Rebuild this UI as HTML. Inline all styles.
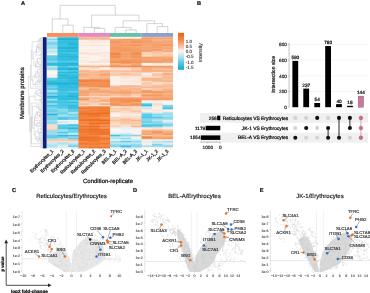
<!DOCTYPE html>
<html><head><meta charset="utf-8"><style>
html,body{margin:0;padding:0;background:#fff;}
body{width:370px;height:293px;overflow:hidden;}
svg{display:block;font-family:"Liberation Sans", sans-serif;filter:blur(0.35px);text-rendering:geometricPrecision;}
</style></head><body>
<svg width="370" height="293" viewBox="0 0 370 293">
<rect width="370" height="293" fill="#fff"/>
<g>
<rect x="47.00" y="37.20" width="11.00" height="2.00" fill="#caeaf2"/>
<rect x="57.50" y="37.20" width="11.00" height="2.00" fill="#2bbbde"/>
<rect x="68.00" y="37.20" width="11.00" height="2.00" fill="#2abade"/>
<rect x="78.50" y="37.20" width="11.00" height="2.00" fill="#f7b78e"/>
<rect x="89.00" y="37.20" width="11.00" height="2.00" fill="#f7b285"/>
<rect x="99.50" y="37.20" width="11.00" height="2.00" fill="#f7b388"/>
<rect x="110.00" y="37.20" width="11.00" height="2.00" fill="#fbf6f4"/>
<rect x="120.50" y="37.20" width="11.00" height="2.00" fill="#faf6f4"/>
<rect x="131.00" y="37.20" width="11.00" height="2.00" fill="#f1f3f4"/>
<rect x="141.50" y="37.20" width="11.00" height="2.00" fill="#f49c65"/>
<rect x="152.00" y="37.20" width="11.00" height="2.00" fill="#f59e68"/>
<rect x="162.50" y="37.20" width="10.50" height="2.00" fill="#f59e68"/>
<rect x="47.00" y="38.70" width="11.00" height="2.00" fill="#78d4eb"/>
<rect x="57.50" y="38.70" width="11.00" height="2.00" fill="#1eb2d8"/>
<rect x="68.00" y="38.70" width="11.00" height="2.00" fill="#1fb3d9"/>
<rect x="78.50" y="38.70" width="11.00" height="2.00" fill="#f9c5a4"/>
<rect x="89.00" y="38.70" width="11.00" height="2.00" fill="#f9cbad"/>
<rect x="99.50" y="38.70" width="11.00" height="2.00" fill="#f8c19e"/>
<rect x="110.00" y="38.70" width="11.00" height="2.00" fill="#f6a775"/>
<rect x="120.50" y="38.70" width="11.00" height="2.00" fill="#f49960"/>
<rect x="131.00" y="38.70" width="11.00" height="2.00" fill="#f59f6a"/>
<rect x="141.50" y="38.70" width="11.00" height="2.00" fill="#f5a470"/>
<rect x="152.00" y="38.70" width="11.00" height="2.00" fill="#f7b084"/>
<rect x="162.50" y="38.70" width="10.50" height="2.00" fill="#f7b285"/>
<rect x="47.00" y="40.21" width="11.00" height="2.00" fill="#bbe6f1"/>
<rect x="57.50" y="40.21" width="11.00" height="2.00" fill="#32bee0"/>
<rect x="68.00" y="40.21" width="11.00" height="2.00" fill="#2fbcdf"/>
<rect x="78.50" y="40.21" width="11.00" height="2.00" fill="#fbf3ef"/>
<rect x="89.00" y="40.21" width="11.00" height="2.00" fill="#fbe9dd"/>
<rect x="99.50" y="40.21" width="11.00" height="2.00" fill="#fbefe9"/>
<rect x="110.00" y="40.21" width="11.00" height="2.00" fill="#f4975d"/>
<rect x="120.50" y="40.21" width="11.00" height="2.00" fill="#f5a26e"/>
<rect x="131.00" y="40.21" width="11.00" height="2.00" fill="#f49961"/>
<rect x="141.50" y="40.21" width="11.00" height="2.00" fill="#f49a61"/>
<rect x="152.00" y="40.21" width="11.00" height="2.00" fill="#f6af81"/>
<rect x="162.50" y="40.21" width="10.50" height="2.00" fill="#f5a370"/>
<rect x="47.00" y="41.71" width="11.00" height="2.00" fill="#7dd6ec"/>
<rect x="57.50" y="41.71" width="11.00" height="2.00" fill="#34bee0"/>
<rect x="68.00" y="41.71" width="11.00" height="2.00" fill="#2ebcdf"/>
<rect x="78.50" y="41.71" width="11.00" height="2.00" fill="#fbe8dc"/>
<rect x="89.00" y="41.71" width="11.00" height="2.00" fill="#fbe9dd"/>
<rect x="99.50" y="41.71" width="11.00" height="2.00" fill="#fbebe2"/>
<rect x="110.00" y="41.71" width="11.00" height="2.00" fill="#f4975e"/>
<rect x="120.50" y="41.71" width="11.00" height="2.00" fill="#f5a06a"/>
<rect x="131.00" y="41.71" width="11.00" height="2.00" fill="#f49459"/>
<rect x="141.50" y="41.71" width="11.00" height="2.00" fill="#f5a370"/>
<rect x="152.00" y="41.71" width="11.00" height="2.00" fill="#f5a26e"/>
<rect x="162.50" y="41.71" width="10.50" height="2.00" fill="#f6a776"/>
<rect x="47.00" y="43.21" width="11.00" height="2.00" fill="#6fd2ea"/>
<rect x="57.50" y="43.21" width="11.00" height="2.00" fill="#32bddf"/>
<rect x="68.00" y="43.21" width="11.00" height="2.00" fill="#1cb0d7"/>
<rect x="78.50" y="43.21" width="11.00" height="2.00" fill="#fbf3ef"/>
<rect x="89.00" y="43.21" width="11.00" height="2.00" fill="#fbf1eb"/>
<rect x="99.50" y="43.21" width="11.00" height="2.00" fill="#fbf3ef"/>
<rect x="110.00" y="43.21" width="11.00" height="2.00" fill="#f49c64"/>
<rect x="120.50" y="43.21" width="11.00" height="2.00" fill="#f5a26e"/>
<rect x="131.00" y="43.21" width="11.00" height="2.00" fill="#f5a471"/>
<rect x="141.50" y="43.21" width="11.00" height="2.00" fill="#f5a06b"/>
<rect x="152.00" y="43.21" width="11.00" height="2.00" fill="#f59f6a"/>
<rect x="162.50" y="43.21" width="10.50" height="2.00" fill="#f5a572"/>
<rect x="47.00" y="44.71" width="11.00" height="2.00" fill="#a0dff0"/>
<rect x="57.50" y="44.71" width="11.00" height="2.00" fill="#42c4e4"/>
<rect x="68.00" y="44.71" width="11.00" height="2.00" fill="#39c0e1"/>
<rect x="78.50" y="44.71" width="11.00" height="2.00" fill="#fbe8dd"/>
<rect x="89.00" y="44.71" width="11.00" height="2.00" fill="#fbe2d1"/>
<rect x="99.50" y="44.71" width="11.00" height="2.00" fill="#fbe9dd"/>
<rect x="110.00" y="44.71" width="11.00" height="2.00" fill="#f5a16d"/>
<rect x="120.50" y="44.71" width="11.00" height="2.00" fill="#f49961"/>
<rect x="131.00" y="44.71" width="11.00" height="2.00" fill="#f39054"/>
<rect x="141.50" y="44.71" width="11.00" height="2.00" fill="#f6a877"/>
<rect x="152.00" y="44.71" width="11.00" height="2.00" fill="#f59e68"/>
<rect x="162.50" y="44.71" width="10.50" height="2.00" fill="#f4975e"/>
<rect x="47.00" y="46.22" width="11.00" height="2.00" fill="#92dcee"/>
<rect x="57.50" y="46.22" width="11.00" height="2.00" fill="#27b9dd"/>
<rect x="68.00" y="46.22" width="11.00" height="2.00" fill="#22b6db"/>
<rect x="78.50" y="46.22" width="11.00" height="2.00" fill="#fbf3ef"/>
<rect x="89.00" y="46.22" width="11.00" height="2.00" fill="#fbf1eb"/>
<rect x="99.50" y="46.22" width="11.00" height="2.00" fill="#fbf3ef"/>
<rect x="110.00" y="46.22" width="11.00" height="2.00" fill="#f49a62"/>
<rect x="120.50" y="46.22" width="11.00" height="2.00" fill="#f5a06b"/>
<rect x="131.00" y="46.22" width="11.00" height="2.00" fill="#f5a573"/>
<rect x="141.50" y="46.22" width="11.00" height="2.00" fill="#f5a26f"/>
<rect x="152.00" y="46.22" width="11.00" height="2.00" fill="#f59f6a"/>
<rect x="162.50" y="46.22" width="10.50" height="2.00" fill="#f6ab7b"/>
<rect x="47.00" y="47.72" width="11.00" height="2.00" fill="#a0dff0"/>
<rect x="57.50" y="47.72" width="11.00" height="2.00" fill="#22b6db"/>
<rect x="68.00" y="47.72" width="11.00" height="2.00" fill="#21b5da"/>
<rect x="78.50" y="47.72" width="11.00" height="2.00" fill="#fbf3ef"/>
<rect x="89.00" y="47.72" width="11.00" height="2.00" fill="#fbf3ef"/>
<rect x="99.50" y="47.72" width="11.00" height="2.00" fill="#fbf3ef"/>
<rect x="110.00" y="47.72" width="11.00" height="2.00" fill="#f49a62"/>
<rect x="120.50" y="47.72" width="11.00" height="2.00" fill="#f49c64"/>
<rect x="131.00" y="47.72" width="11.00" height="2.00" fill="#f59f69"/>
<rect x="141.50" y="47.72" width="11.00" height="2.00" fill="#f6a876"/>
<rect x="152.00" y="47.72" width="11.00" height="2.00" fill="#f6a876"/>
<rect x="162.50" y="47.72" width="10.50" height="2.00" fill="#f5a573"/>
<rect x="47.00" y="49.22" width="11.00" height="2.00" fill="#d0ebf2"/>
<rect x="57.50" y="49.22" width="11.00" height="2.00" fill="#34bee0"/>
<rect x="68.00" y="49.22" width="11.00" height="2.00" fill="#2ebcdf"/>
<rect x="78.50" y="49.22" width="11.00" height="2.00" fill="#fbece3"/>
<rect x="89.00" y="49.22" width="11.00" height="2.00" fill="#fbeadf"/>
<rect x="99.50" y="49.22" width="11.00" height="2.00" fill="#fbf2ee"/>
<rect x="110.00" y="49.22" width="11.00" height="2.00" fill="#f49860"/>
<rect x="120.50" y="49.22" width="11.00" height="2.00" fill="#f49357"/>
<rect x="131.00" y="49.22" width="11.00" height="2.00" fill="#f49a62"/>
<rect x="141.50" y="49.22" width="11.00" height="2.00" fill="#f59e68"/>
<rect x="152.00" y="49.22" width="11.00" height="2.00" fill="#f4955b"/>
<rect x="162.50" y="49.22" width="10.50" height="2.00" fill="#f7b286"/>
<rect x="47.00" y="50.72" width="11.00" height="2.00" fill="#b2e4f1"/>
<rect x="57.50" y="50.72" width="11.00" height="2.00" fill="#27b9dd"/>
<rect x="68.00" y="50.72" width="11.00" height="2.00" fill="#26b9dc"/>
<rect x="78.50" y="50.72" width="11.00" height="2.00" fill="#fbf3ef"/>
<rect x="89.00" y="50.72" width="11.00" height="2.00" fill="#fbf3ef"/>
<rect x="99.50" y="50.72" width="11.00" height="2.00" fill="#fbefe8"/>
<rect x="110.00" y="50.72" width="11.00" height="2.00" fill="#f5a26e"/>
<rect x="120.50" y="50.72" width="11.00" height="2.00" fill="#f59f6a"/>
<rect x="131.00" y="50.72" width="11.00" height="2.00" fill="#f5a06b"/>
<rect x="141.50" y="50.72" width="11.00" height="2.00" fill="#f6a775"/>
<rect x="152.00" y="50.72" width="11.00" height="2.00" fill="#f8be98"/>
<rect x="162.50" y="50.72" width="10.50" height="2.00" fill="#f6aa79"/>
<rect x="47.00" y="52.23" width="11.00" height="2.00" fill="#cfebf2"/>
<rect x="57.50" y="52.23" width="11.00" height="2.00" fill="#3bc1e2"/>
<rect x="68.00" y="52.23" width="11.00" height="2.00" fill="#44c5e4"/>
<rect x="78.50" y="52.23" width="11.00" height="2.00" fill="#fbdcc8"/>
<rect x="89.00" y="52.23" width="11.00" height="2.00" fill="#fbe6d9"/>
<rect x="99.50" y="52.23" width="11.00" height="2.00" fill="#fbe2d2"/>
<rect x="110.00" y="52.23" width="11.00" height="2.00" fill="#f38a4a"/>
<rect x="120.50" y="52.23" width="11.00" height="2.00" fill="#f5a06b"/>
<rect x="131.00" y="52.23" width="11.00" height="2.00" fill="#f38a4a"/>
<rect x="141.50" y="52.23" width="11.00" height="2.00" fill="#fad4bb"/>
<rect x="152.00" y="52.23" width="11.00" height="2.00" fill="#f8c09c"/>
<rect x="162.50" y="52.23" width="10.50" height="2.00" fill="#fad4bc"/>
<rect x="47.00" y="53.73" width="11.00" height="2.00" fill="#f4f4f4"/>
<rect x="57.50" y="53.73" width="11.00" height="2.00" fill="#31bddf"/>
<rect x="68.00" y="53.73" width="11.00" height="2.00" fill="#34bee0"/>
<rect x="78.50" y="53.73" width="11.00" height="2.00" fill="#fbece3"/>
<rect x="89.00" y="53.73" width="11.00" height="2.00" fill="#fbe2d2"/>
<rect x="99.50" y="53.73" width="11.00" height="2.00" fill="#fbefe8"/>
<rect x="110.00" y="53.73" width="11.00" height="2.00" fill="#f28644"/>
<rect x="120.50" y="53.73" width="11.00" height="2.00" fill="#f59d66"/>
<rect x="131.00" y="53.73" width="11.00" height="2.00" fill="#f39054"/>
<rect x="141.50" y="53.73" width="11.00" height="2.00" fill="#fad2b8"/>
<rect x="152.00" y="53.73" width="11.00" height="2.00" fill="#faceb2"/>
<rect x="162.50" y="53.73" width="10.50" height="2.00" fill="#f9c9aa"/>
<rect x="47.00" y="55.23" width="11.00" height="2.00" fill="#63cee9"/>
<rect x="57.50" y="55.23" width="11.00" height="2.00" fill="#24b8dc"/>
<rect x="68.00" y="55.23" width="11.00" height="2.00" fill="#24b8dc"/>
<rect x="78.50" y="55.23" width="11.00" height="2.00" fill="#fbf3ef"/>
<rect x="89.00" y="55.23" width="11.00" height="2.00" fill="#fbf3ef"/>
<rect x="99.50" y="55.23" width="11.00" height="2.00" fill="#fbe7db"/>
<rect x="110.00" y="55.23" width="11.00" height="2.00" fill="#f38d4e"/>
<rect x="120.50" y="55.23" width="11.00" height="2.00" fill="#f49b64"/>
<rect x="131.00" y="55.23" width="11.00" height="2.00" fill="#f4955b"/>
<rect x="141.50" y="55.23" width="11.00" height="2.00" fill="#fbd9c3"/>
<rect x="152.00" y="55.23" width="11.00" height="2.00" fill="#f9c8a8"/>
<rect x="162.50" y="55.23" width="10.50" height="2.00" fill="#f8c09c"/>
<rect x="47.00" y="56.74" width="11.00" height="2.00" fill="#59cce8"/>
<rect x="57.50" y="56.74" width="11.00" height="2.00" fill="#30bddf"/>
<rect x="68.00" y="56.74" width="11.00" height="2.00" fill="#24b8dc"/>
<rect x="78.50" y="56.74" width="11.00" height="2.00" fill="#fbe8dc"/>
<rect x="89.00" y="56.74" width="11.00" height="2.00" fill="#fbf3ef"/>
<rect x="99.50" y="56.74" width="11.00" height="2.00" fill="#fbf3ee"/>
<rect x="110.00" y="56.74" width="11.00" height="2.00" fill="#f4945a"/>
<rect x="120.50" y="56.74" width="11.00" height="2.00" fill="#f5a370"/>
<rect x="131.00" y="56.74" width="11.00" height="2.00" fill="#f4965d"/>
<rect x="141.50" y="56.74" width="11.00" height="2.00" fill="#f59e68"/>
<rect x="152.00" y="56.74" width="11.00" height="2.00" fill="#f59f69"/>
<rect x="162.50" y="56.74" width="10.50" height="2.00" fill="#f6a877"/>
<rect x="47.00" y="58.24" width="11.00" height="2.00" fill="#50c9e6"/>
<rect x="57.50" y="58.24" width="11.00" height="2.00" fill="#29badd"/>
<rect x="68.00" y="58.24" width="11.00" height="2.00" fill="#29badd"/>
<rect x="78.50" y="58.24" width="11.00" height="2.00" fill="#fbf3ef"/>
<rect x="89.00" y="58.24" width="11.00" height="2.00" fill="#fbf2ed"/>
<rect x="99.50" y="58.24" width="11.00" height="2.00" fill="#fbebe2"/>
<rect x="110.00" y="58.24" width="11.00" height="2.00" fill="#f49a63"/>
<rect x="120.50" y="58.24" width="11.00" height="2.00" fill="#f5a06b"/>
<rect x="131.00" y="58.24" width="11.00" height="2.00" fill="#f59c65"/>
<rect x="141.50" y="58.24" width="11.00" height="2.00" fill="#f5a16d"/>
<rect x="152.00" y="58.24" width="11.00" height="2.00" fill="#f5a673"/>
<rect x="162.50" y="58.24" width="10.50" height="2.00" fill="#f59e68"/>
<rect x="47.00" y="59.74" width="11.00" height="2.00" fill="#65cfe9"/>
<rect x="57.50" y="59.74" width="11.00" height="2.00" fill="#3ec2e2"/>
<rect x="68.00" y="59.74" width="11.00" height="2.00" fill="#3fc3e3"/>
<rect x="78.50" y="59.74" width="11.00" height="2.00" fill="#fbe9dd"/>
<rect x="89.00" y="59.74" width="11.00" height="2.00" fill="#fbf3ef"/>
<rect x="99.50" y="59.74" width="11.00" height="2.00" fill="#fbe4d5"/>
<rect x="110.00" y="59.74" width="11.00" height="2.00" fill="#f59f69"/>
<rect x="120.50" y="59.74" width="11.00" height="2.00" fill="#f4985e"/>
<rect x="131.00" y="59.74" width="11.00" height="2.00" fill="#f49960"/>
<rect x="141.50" y="59.74" width="11.00" height="2.00" fill="#f5a26d"/>
<rect x="152.00" y="59.74" width="11.00" height="2.00" fill="#f5a572"/>
<rect x="162.50" y="59.74" width="10.50" height="2.00" fill="#f5a06b"/>
<rect x="47.00" y="61.24" width="11.00" height="2.00" fill="#83d7ec"/>
<rect x="57.50" y="61.24" width="11.00" height="2.00" fill="#49c7e5"/>
<rect x="68.00" y="61.24" width="11.00" height="2.00" fill="#50c9e6"/>
<rect x="78.50" y="61.24" width="11.00" height="2.00" fill="#fbe8dd"/>
<rect x="89.00" y="61.24" width="11.00" height="2.00" fill="#fbd8c1"/>
<rect x="99.50" y="61.24" width="11.00" height="2.00" fill="#fbe2d2"/>
<rect x="110.00" y="61.24" width="11.00" height="2.00" fill="#f28643"/>
<rect x="120.50" y="61.24" width="11.00" height="2.00" fill="#f28745"/>
<rect x="131.00" y="61.24" width="11.00" height="2.00" fill="#f38b4b"/>
<rect x="141.50" y="61.24" width="11.00" height="2.00" fill="#f39053"/>
<rect x="152.00" y="61.24" width="11.00" height="2.00" fill="#f49358"/>
<rect x="162.50" y="61.24" width="10.50" height="2.00" fill="#f49c64"/>
<rect x="47.00" y="62.75" width="11.00" height="2.00" fill="#2ebcdf"/>
<rect x="57.50" y="62.75" width="11.00" height="2.00" fill="#27b9dd"/>
<rect x="68.00" y="62.75" width="11.00" height="2.00" fill="#1fb3d9"/>
<rect x="78.50" y="62.75" width="11.00" height="2.00" fill="#fbf3ef"/>
<rect x="89.00" y="62.75" width="11.00" height="2.00" fill="#fbf3ef"/>
<rect x="99.50" y="62.75" width="11.00" height="2.00" fill="#fbf3ef"/>
<rect x="110.00" y="62.75" width="11.00" height="2.00" fill="#f7b387"/>
<rect x="120.50" y="62.75" width="11.00" height="2.00" fill="#f5a06b"/>
<rect x="131.00" y="62.75" width="11.00" height="2.00" fill="#f5a673"/>
<rect x="141.50" y="62.75" width="11.00" height="2.00" fill="#fbf2ed"/>
<rect x="152.00" y="62.75" width="11.00" height="2.00" fill="#fbe4d6"/>
<rect x="162.50" y="62.75" width="10.50" height="2.00" fill="#fbeae0"/>
<rect x="47.00" y="64.25" width="11.00" height="2.00" fill="#23b7dc"/>
<rect x="57.50" y="64.25" width="11.00" height="2.00" fill="#20b4d9"/>
<rect x="68.00" y="64.25" width="11.00" height="2.00" fill="#1db1d8"/>
<rect x="78.50" y="64.25" width="11.00" height="2.00" fill="#fbe4d6"/>
<rect x="89.00" y="64.25" width="11.00" height="2.00" fill="#fbe8dc"/>
<rect x="99.50" y="64.25" width="11.00" height="2.00" fill="#fbe5d7"/>
<rect x="110.00" y="64.25" width="11.00" height="2.00" fill="#f5a471"/>
<rect x="120.50" y="64.25" width="11.00" height="2.00" fill="#f7b78e"/>
<rect x="131.00" y="64.25" width="11.00" height="2.00" fill="#f5a16d"/>
<rect x="141.50" y="64.25" width="11.00" height="2.00" fill="#fbf2ed"/>
<rect x="152.00" y="64.25" width="11.00" height="2.00" fill="#fbefe8"/>
<rect x="162.50" y="64.25" width="10.50" height="2.00" fill="#fbf0e9"/>
<rect x="47.00" y="65.75" width="11.00" height="2.00" fill="#bfe7f1"/>
<rect x="57.50" y="65.75" width="11.00" height="2.00" fill="#4ac7e6"/>
<rect x="68.00" y="65.75" width="11.00" height="2.00" fill="#71d2ea"/>
<rect x="78.50" y="65.75" width="11.00" height="2.00" fill="#f6a979"/>
<rect x="89.00" y="65.75" width="11.00" height="2.00" fill="#f7b489"/>
<rect x="99.50" y="65.75" width="11.00" height="2.00" fill="#f6a876"/>
<rect x="110.00" y="65.75" width="11.00" height="2.00" fill="#f38f52"/>
<rect x="120.50" y="65.75" width="11.00" height="2.00" fill="#f38a4b"/>
<rect x="131.00" y="65.75" width="11.00" height="2.00" fill="#f28848"/>
<rect x="141.50" y="65.75" width="11.00" height="2.00" fill="#f49358"/>
<rect x="152.00" y="65.75" width="11.00" height="2.00" fill="#f49960"/>
<rect x="162.50" y="65.75" width="10.50" height="2.00" fill="#f49a61"/>
<rect x="47.00" y="67.25" width="11.00" height="2.00" fill="#93dcee"/>
<rect x="57.50" y="67.25" width="11.00" height="2.00" fill="#2dbcde"/>
<rect x="68.00" y="67.25" width="11.00" height="2.00" fill="#26b9dc"/>
<rect x="78.50" y="67.25" width="11.00" height="2.00" fill="#fbe6d9"/>
<rect x="89.00" y="67.25" width="11.00" height="2.00" fill="#fad2b8"/>
<rect x="99.50" y="67.25" width="11.00" height="2.00" fill="#fbf3ef"/>
<rect x="110.00" y="67.25" width="11.00" height="2.00" fill="#fad2b8"/>
<rect x="120.50" y="67.25" width="11.00" height="2.00" fill="#fad3ba"/>
<rect x="131.00" y="67.25" width="11.00" height="2.00" fill="#f9c8a9"/>
<rect x="141.50" y="67.25" width="11.00" height="2.00" fill="#f6ab7a"/>
<rect x="152.00" y="67.25" width="11.00" height="2.00" fill="#f6af81"/>
<rect x="162.50" y="67.25" width="10.50" height="2.00" fill="#f6aa7a"/>
<rect x="47.00" y="68.76" width="11.00" height="2.00" fill="#9adeef"/>
<rect x="57.50" y="68.76" width="11.00" height="2.00" fill="#21b5da"/>
<rect x="68.00" y="68.76" width="11.00" height="2.00" fill="#1db1d8"/>
<rect x="78.50" y="68.76" width="11.00" height="2.00" fill="#fbd8c1"/>
<rect x="89.00" y="68.76" width="11.00" height="2.00" fill="#fbeee6"/>
<rect x="99.50" y="68.76" width="11.00" height="2.00" fill="#fbe6d9"/>
<rect x="110.00" y="68.76" width="11.00" height="2.00" fill="#fbe1d0"/>
<rect x="120.50" y="68.76" width="11.00" height="2.00" fill="#fbe4d6"/>
<rect x="131.00" y="68.76" width="11.00" height="2.00" fill="#faceb2"/>
<rect x="141.50" y="68.76" width="11.00" height="2.00" fill="#f6af81"/>
<rect x="152.00" y="68.76" width="11.00" height="2.00" fill="#f9c3a1"/>
<rect x="162.50" y="68.76" width="10.50" height="2.00" fill="#f9c5a3"/>
<rect x="47.00" y="70.26" width="11.00" height="2.00" fill="#f3f4f4"/>
<rect x="57.50" y="70.26" width="11.00" height="2.00" fill="#5ecde8"/>
<rect x="68.00" y="70.26" width="11.00" height="2.00" fill="#4bc8e6"/>
<rect x="78.50" y="70.26" width="11.00" height="2.00" fill="#f7b286"/>
<rect x="89.00" y="70.26" width="11.00" height="2.00" fill="#f8c09c"/>
<rect x="99.50" y="70.26" width="11.00" height="2.00" fill="#f6af81"/>
<rect x="110.00" y="70.26" width="11.00" height="2.00" fill="#f8c19e"/>
<rect x="120.50" y="70.26" width="11.00" height="2.00" fill="#f8bc95"/>
<rect x="131.00" y="70.26" width="11.00" height="2.00" fill="#f7b68d"/>
<rect x="141.50" y="70.26" width="11.00" height="2.00" fill="#f6aa79"/>
<rect x="152.00" y="70.26" width="11.00" height="2.00" fill="#f6a776"/>
<rect x="162.50" y="70.26" width="10.50" height="2.00" fill="#f6ab7c"/>
<rect x="47.00" y="71.76" width="11.00" height="2.00" fill="#faf6f4"/>
<rect x="57.50" y="71.76" width="11.00" height="2.00" fill="#2dbcde"/>
<rect x="68.00" y="71.76" width="11.00" height="2.00" fill="#24b8dc"/>
<rect x="78.50" y="71.76" width="11.00" height="2.00" fill="#f8c19d"/>
<rect x="89.00" y="71.76" width="11.00" height="2.00" fill="#f7b88f"/>
<rect x="99.50" y="71.76" width="11.00" height="2.00" fill="#f8b992"/>
<rect x="110.00" y="71.76" width="11.00" height="2.00" fill="#facfb3"/>
<rect x="120.50" y="71.76" width="11.00" height="2.00" fill="#fad0b5"/>
<rect x="131.00" y="71.76" width="11.00" height="2.00" fill="#facfb3"/>
<rect x="141.50" y="71.76" width="11.00" height="2.00" fill="#fad1b6"/>
<rect x="152.00" y="71.76" width="11.00" height="2.00" fill="#fbdecb"/>
<rect x="162.50" y="71.76" width="10.50" height="2.00" fill="#f9c9aa"/>
<rect x="47.00" y="73.26" width="11.00" height="2.00" fill="#fbf3ef"/>
<rect x="57.50" y="73.26" width="11.00" height="2.00" fill="#3ac1e1"/>
<rect x="68.00" y="73.26" width="11.00" height="2.00" fill="#40c3e3"/>
<rect x="78.50" y="73.26" width="11.00" height="2.00" fill="#f6af81"/>
<rect x="89.00" y="73.26" width="11.00" height="2.00" fill="#f8bc95"/>
<rect x="99.50" y="73.26" width="11.00" height="2.00" fill="#f5a471"/>
<rect x="110.00" y="73.26" width="11.00" height="2.00" fill="#f9caab"/>
<rect x="120.50" y="73.26" width="11.00" height="2.00" fill="#f8bb93"/>
<rect x="131.00" y="73.26" width="11.00" height="2.00" fill="#facbae"/>
<rect x="141.50" y="73.26" width="11.00" height="2.00" fill="#f6f5f4"/>
<rect x="152.00" y="73.26" width="11.00" height="2.00" fill="#f9c7a7"/>
<rect x="162.50" y="73.26" width="10.50" height="2.00" fill="#f5a673"/>
<rect x="47.00" y="74.77" width="11.00" height="2.00" fill="#eef3f3"/>
<rect x="57.50" y="74.77" width="11.00" height="2.00" fill="#24b8dc"/>
<rect x="68.00" y="74.77" width="11.00" height="2.00" fill="#31bddf"/>
<rect x="78.50" y="74.77" width="11.00" height="2.00" fill="#f7b286"/>
<rect x="89.00" y="74.77" width="11.00" height="2.00" fill="#f7b68d"/>
<rect x="99.50" y="74.77" width="11.00" height="2.00" fill="#f6a775"/>
<rect x="110.00" y="74.77" width="11.00" height="2.00" fill="#f9caac"/>
<rect x="120.50" y="74.77" width="11.00" height="2.00" fill="#fad1b7"/>
<rect x="131.00" y="74.77" width="11.00" height="2.00" fill="#facbae"/>
<rect x="141.50" y="74.77" width="11.00" height="2.00" fill="#fbe2d2"/>
<rect x="152.00" y="74.77" width="11.00" height="2.00" fill="#f9c2a0"/>
<rect x="162.50" y="74.77" width="10.50" height="2.00" fill="#f8c29f"/>
<rect x="47.00" y="76.27" width="11.00" height="2.00" fill="#f0f3f4"/>
<rect x="57.50" y="76.27" width="11.00" height="2.00" fill="#2bbbde"/>
<rect x="68.00" y="76.27" width="11.00" height="2.00" fill="#23b7db"/>
<rect x="78.50" y="76.27" width="11.00" height="2.00" fill="#f7b58b"/>
<rect x="89.00" y="76.27" width="11.00" height="2.00" fill="#f8bc95"/>
<rect x="99.50" y="76.27" width="11.00" height="2.00" fill="#f7b88f"/>
<rect x="110.00" y="76.27" width="11.00" height="2.00" fill="#fbf2ed"/>
<rect x="120.50" y="76.27" width="11.00" height="2.00" fill="#fbe2d1"/>
<rect x="131.00" y="76.27" width="11.00" height="2.00" fill="#fbe8dc"/>
<rect x="141.50" y="76.27" width="11.00" height="2.00" fill="#fbdcc8"/>
<rect x="152.00" y="76.27" width="11.00" height="2.00" fill="#fbdac4"/>
<rect x="162.50" y="76.27" width="10.50" height="2.00" fill="#f7b78e"/>
<rect x="47.00" y="77.77" width="11.00" height="2.00" fill="#5bcce8"/>
<rect x="57.50" y="77.77" width="11.00" height="2.00" fill="#36bfe0"/>
<rect x="68.00" y="77.77" width="11.00" height="2.00" fill="#2cbbde"/>
<rect x="78.50" y="77.77" width="11.00" height="2.00" fill="#f9c8a9"/>
<rect x="89.00" y="77.77" width="11.00" height="2.00" fill="#f7b68c"/>
<rect x="99.50" y="77.77" width="11.00" height="2.00" fill="#f7b388"/>
<rect x="110.00" y="77.77" width="11.00" height="2.00" fill="#fbefe8"/>
<rect x="120.50" y="77.77" width="11.00" height="2.00" fill="#fbe6d9"/>
<rect x="131.00" y="77.77" width="11.00" height="2.00" fill="#fbe9de"/>
<rect x="141.50" y="77.77" width="11.00" height="2.00" fill="#f7b489"/>
<rect x="152.00" y="77.77" width="11.00" height="2.00" fill="#f7b890"/>
<rect x="162.50" y="77.77" width="10.50" height="2.00" fill="#f8bd97"/>
<rect x="47.00" y="79.28" width="11.00" height="2.00" fill="#49c7e5"/>
<rect x="57.50" y="79.28" width="11.00" height="2.00" fill="#37c0e1"/>
<rect x="68.00" y="79.28" width="11.00" height="2.00" fill="#26b9dd"/>
<rect x="78.50" y="79.28" width="11.00" height="2.00" fill="#f28746"/>
<rect x="89.00" y="79.28" width="11.00" height="2.00" fill="#f28441"/>
<rect x="99.50" y="79.28" width="11.00" height="2.00" fill="#f38c4d"/>
<rect x="110.00" y="79.28" width="11.00" height="2.00" fill="#fbf2ed"/>
<rect x="120.50" y="79.28" width="11.00" height="2.00" fill="#fbf1eb"/>
<rect x="131.00" y="79.28" width="11.00" height="2.00" fill="#fbeae0"/>
<rect x="141.50" y="79.28" width="11.00" height="2.00" fill="#f7b285"/>
<rect x="152.00" y="79.28" width="11.00" height="2.00" fill="#f7b285"/>
<rect x="162.50" y="79.28" width="10.50" height="2.00" fill="#f8ba93"/>
<rect x="47.00" y="80.78" width="11.00" height="2.00" fill="#34bee0"/>
<rect x="57.50" y="80.78" width="11.00" height="2.00" fill="#3fc3e3"/>
<rect x="68.00" y="80.78" width="11.00" height="2.00" fill="#32bee0"/>
<rect x="78.50" y="80.78" width="11.00" height="2.00" fill="#f2803b"/>
<rect x="89.00" y="80.78" width="11.00" height="2.00" fill="#f38a4b"/>
<rect x="99.50" y="80.78" width="11.00" height="2.00" fill="#f28745"/>
<rect x="110.00" y="80.78" width="11.00" height="2.00" fill="#fbf2ed"/>
<rect x="120.50" y="80.78" width="11.00" height="2.00" fill="#fbe5d8"/>
<rect x="131.00" y="80.78" width="11.00" height="2.00" fill="#fbe4d6"/>
<rect x="141.50" y="80.78" width="11.00" height="2.00" fill="#fbd8c2"/>
<rect x="152.00" y="80.78" width="11.00" height="2.00" fill="#f8bf9a"/>
<rect x="162.50" y="80.78" width="10.50" height="2.00" fill="#f7b58b"/>
<rect x="47.00" y="82.28" width="11.00" height="2.00" fill="#1db1d8"/>
<rect x="57.50" y="82.28" width="11.00" height="2.00" fill="#1db1d8"/>
<rect x="68.00" y="82.28" width="11.00" height="2.00" fill="#1eb2d9"/>
<rect x="78.50" y="82.28" width="11.00" height="2.00" fill="#f4985f"/>
<rect x="89.00" y="82.28" width="11.00" height="2.00" fill="#f38f52"/>
<rect x="99.50" y="82.28" width="11.00" height="2.00" fill="#f38e50"/>
<rect x="110.00" y="82.28" width="11.00" height="2.00" fill="#fbf2ed"/>
<rect x="120.50" y="82.28" width="11.00" height="2.00" fill="#fbeee6"/>
<rect x="131.00" y="82.28" width="11.00" height="2.00" fill="#fbeae0"/>
<rect x="141.50" y="82.28" width="11.00" height="2.00" fill="#f9c7a6"/>
<rect x="152.00" y="82.28" width="11.00" height="2.00" fill="#fbe3d4"/>
<rect x="162.50" y="82.28" width="10.50" height="2.00" fill="#fbdcc8"/>
<rect x="47.00" y="83.78" width="11.00" height="2.00" fill="#2bbbde"/>
<rect x="57.50" y="83.78" width="11.00" height="2.00" fill="#24b8dc"/>
<rect x="68.00" y="83.78" width="11.00" height="2.00" fill="#24b8dc"/>
<rect x="78.50" y="83.78" width="11.00" height="2.00" fill="#f28847"/>
<rect x="89.00" y="83.78" width="11.00" height="2.00" fill="#f49459"/>
<rect x="99.50" y="83.78" width="11.00" height="2.00" fill="#f39256"/>
<rect x="110.00" y="83.78" width="11.00" height="2.00" fill="#fbf2ed"/>
<rect x="120.50" y="83.78" width="11.00" height="2.00" fill="#fbeee7"/>
<rect x="131.00" y="83.78" width="11.00" height="2.00" fill="#fbefe8"/>
<rect x="141.50" y="83.78" width="11.00" height="2.00" fill="#faccaf"/>
<rect x="152.00" y="83.78" width="11.00" height="2.00" fill="#fbd6be"/>
<rect x="162.50" y="83.78" width="10.50" height="2.00" fill="#f8c29f"/>
<rect x="47.00" y="85.29" width="11.00" height="2.00" fill="#56cbe7"/>
<rect x="57.50" y="85.29" width="11.00" height="2.00" fill="#2ebcde"/>
<rect x="68.00" y="85.29" width="11.00" height="2.00" fill="#32bee0"/>
<rect x="78.50" y="85.29" width="11.00" height="2.00" fill="#f39155"/>
<rect x="89.00" y="85.29" width="11.00" height="2.00" fill="#f28746"/>
<rect x="99.50" y="85.29" width="11.00" height="2.00" fill="#f2823e"/>
<rect x="110.00" y="85.29" width="11.00" height="2.00" fill="#f9c6a6"/>
<rect x="120.50" y="85.29" width="11.00" height="2.00" fill="#f7b488"/>
<rect x="131.00" y="85.29" width="11.00" height="2.00" fill="#f7b489"/>
<rect x="141.50" y="85.29" width="11.00" height="2.00" fill="#f9c8a8"/>
<rect x="152.00" y="85.29" width="11.00" height="2.00" fill="#f7b88f"/>
<rect x="162.50" y="85.29" width="10.50" height="2.00" fill="#f8b991"/>
<rect x="47.00" y="86.79" width="11.00" height="2.00" fill="#70d2ea"/>
<rect x="57.50" y="86.79" width="11.00" height="2.00" fill="#35bfe0"/>
<rect x="68.00" y="86.79" width="11.00" height="2.00" fill="#2dbcde"/>
<rect x="78.50" y="86.79" width="11.00" height="2.00" fill="#f7b58b"/>
<rect x="89.00" y="86.79" width="11.00" height="2.00" fill="#f7b489"/>
<rect x="99.50" y="86.79" width="11.00" height="2.00" fill="#f6aa79"/>
<rect x="110.00" y="86.79" width="11.00" height="2.00" fill="#f7b185"/>
<rect x="120.50" y="86.79" width="11.00" height="2.00" fill="#f8bc96"/>
<rect x="131.00" y="86.79" width="11.00" height="2.00" fill="#f9c3a1"/>
<rect x="141.50" y="86.79" width="11.00" height="2.00" fill="#f7b88f"/>
<rect x="152.00" y="86.79" width="11.00" height="2.00" fill="#f8bd97"/>
<rect x="162.50" y="86.79" width="10.50" height="2.00" fill="#f9c29f"/>
<rect x="47.00" y="88.29" width="11.00" height="2.00" fill="#43c4e4"/>
<rect x="57.50" y="88.29" width="11.00" height="2.00" fill="#30bddf"/>
<rect x="68.00" y="88.29" width="11.00" height="2.00" fill="#34bee0"/>
<rect x="78.50" y="88.29" width="11.00" height="2.00" fill="#f8c29f"/>
<rect x="89.00" y="88.29" width="11.00" height="2.00" fill="#f5a16d"/>
<rect x="99.50" y="88.29" width="11.00" height="2.00" fill="#f8c19d"/>
<rect x="110.00" y="88.29" width="11.00" height="2.00" fill="#f7b082"/>
<rect x="120.50" y="88.29" width="11.00" height="2.00" fill="#f8ba93"/>
<rect x="131.00" y="88.29" width="11.00" height="2.00" fill="#f6b082"/>
<rect x="141.50" y="88.29" width="11.00" height="2.00" fill="#fbdcc7"/>
<rect x="152.00" y="88.29" width="11.00" height="2.00" fill="#f9c7a6"/>
<rect x="162.50" y="88.29" width="10.50" height="2.00" fill="#f7b991"/>
<rect x="47.00" y="89.79" width="11.00" height="2.00" fill="#aae2f0"/>
<rect x="57.50" y="89.79" width="11.00" height="2.00" fill="#3ac1e1"/>
<rect x="68.00" y="89.79" width="11.00" height="2.00" fill="#43c4e4"/>
<rect x="78.50" y="89.79" width="11.00" height="2.00" fill="#f6a876"/>
<rect x="89.00" y="89.79" width="11.00" height="2.00" fill="#f6a674"/>
<rect x="99.50" y="89.79" width="11.00" height="2.00" fill="#f6aa7a"/>
<rect x="110.00" y="89.79" width="11.00" height="2.00" fill="#f7b48a"/>
<rect x="120.50" y="89.79" width="11.00" height="2.00" fill="#f6ad7e"/>
<rect x="131.00" y="89.79" width="11.00" height="2.00" fill="#f8be99"/>
<rect x="141.50" y="89.79" width="11.00" height="2.00" fill="#f5a471"/>
<rect x="152.00" y="89.79" width="11.00" height="2.00" fill="#f8bf9a"/>
<rect x="162.50" y="89.79" width="10.50" height="2.00" fill="#f6ad7e"/>
<rect x="47.00" y="91.30" width="11.00" height="2.00" fill="#92dbee"/>
<rect x="57.50" y="91.30" width="11.00" height="2.00" fill="#48c6e5"/>
<rect x="68.00" y="91.30" width="11.00" height="2.00" fill="#5bcce8"/>
<rect x="78.50" y="91.30" width="11.00" height="2.00" fill="#f59e69"/>
<rect x="89.00" y="91.30" width="11.00" height="2.00" fill="#f6a674"/>
<rect x="99.50" y="91.30" width="11.00" height="2.00" fill="#f59c66"/>
<rect x="110.00" y="91.30" width="11.00" height="2.00" fill="#f59f69"/>
<rect x="120.50" y="91.30" width="11.00" height="2.00" fill="#f59e68"/>
<rect x="131.00" y="91.30" width="11.00" height="2.00" fill="#f6a978"/>
<rect x="141.50" y="91.30" width="11.00" height="2.00" fill="#f38f52"/>
<rect x="152.00" y="91.30" width="11.00" height="2.00" fill="#f39053"/>
<rect x="162.50" y="91.30" width="10.50" height="2.00" fill="#f59f69"/>
<rect x="47.00" y="92.80" width="11.00" height="2.00" fill="#4ac7e6"/>
<rect x="57.50" y="92.80" width="11.00" height="2.00" fill="#41c3e3"/>
<rect x="68.00" y="92.80" width="11.00" height="2.00" fill="#2cbbde"/>
<rect x="78.50" y="92.80" width="11.00" height="2.00" fill="#f6ad7e"/>
<rect x="89.00" y="92.80" width="11.00" height="2.00" fill="#f8bd97"/>
<rect x="99.50" y="92.80" width="11.00" height="2.00" fill="#f8c09b"/>
<rect x="110.00" y="92.80" width="11.00" height="2.00" fill="#f6af81"/>
<rect x="120.50" y="92.80" width="11.00" height="2.00" fill="#f6a978"/>
<rect x="131.00" y="92.80" width="11.00" height="2.00" fill="#f7b78e"/>
<rect x="141.50" y="92.80" width="11.00" height="2.00" fill="#f8bf9b"/>
<rect x="152.00" y="92.80" width="11.00" height="2.00" fill="#f6ab7b"/>
<rect x="162.50" y="92.80" width="10.50" height="2.00" fill="#f7b78d"/>
<rect x="47.00" y="94.30" width="11.00" height="2.00" fill="#86d8ed"/>
<rect x="57.50" y="94.30" width="11.00" height="2.00" fill="#3ec3e3"/>
<rect x="68.00" y="94.30" width="11.00" height="2.00" fill="#2ebcdf"/>
<rect x="78.50" y="94.30" width="11.00" height="2.00" fill="#f59d67"/>
<rect x="89.00" y="94.30" width="11.00" height="2.00" fill="#f7b58b"/>
<rect x="99.50" y="94.30" width="11.00" height="2.00" fill="#f6ab7b"/>
<rect x="110.00" y="94.30" width="11.00" height="2.00" fill="#f8bd98"/>
<rect x="120.50" y="94.30" width="11.00" height="2.00" fill="#f7b78e"/>
<rect x="131.00" y="94.30" width="11.00" height="2.00" fill="#f9caab"/>
<rect x="141.50" y="94.30" width="11.00" height="2.00" fill="#f49459"/>
<rect x="152.00" y="94.30" width="11.00" height="2.00" fill="#f4975d"/>
<rect x="162.50" y="94.30" width="10.50" height="2.00" fill="#f6a674"/>
<rect x="47.00" y="95.81" width="11.00" height="2.00" fill="#20b4da"/>
<rect x="57.50" y="95.81" width="11.00" height="2.00" fill="#2abbde"/>
<rect x="68.00" y="95.81" width="11.00" height="2.00" fill="#20b4da"/>
<rect x="78.50" y="95.81" width="11.00" height="2.00" fill="#fad3ba"/>
<rect x="89.00" y="95.81" width="11.00" height="2.00" fill="#fbd7c0"/>
<rect x="99.50" y="95.81" width="11.00" height="2.00" fill="#fad4bc"/>
<rect x="110.00" y="95.81" width="11.00" height="2.00" fill="#fbd9c4"/>
<rect x="120.50" y="95.81" width="11.00" height="2.00" fill="#facdb1"/>
<rect x="131.00" y="95.81" width="11.00" height="2.00" fill="#fbdcc8"/>
<rect x="141.50" y="95.81" width="11.00" height="2.00" fill="#f6ac7d"/>
<rect x="152.00" y="95.81" width="11.00" height="2.00" fill="#f6aa79"/>
<rect x="162.50" y="95.81" width="10.50" height="2.00" fill="#f6a978"/>
<rect x="47.00" y="97.31" width="11.00" height="2.00" fill="#3bc1e2"/>
<rect x="57.50" y="97.31" width="11.00" height="2.00" fill="#2fbcdf"/>
<rect x="68.00" y="97.31" width="11.00" height="2.00" fill="#29badd"/>
<rect x="78.50" y="97.31" width="11.00" height="2.00" fill="#f6a979"/>
<rect x="89.00" y="97.31" width="11.00" height="2.00" fill="#f7b388"/>
<rect x="99.50" y="97.31" width="11.00" height="2.00" fill="#f8c09b"/>
<rect x="110.00" y="97.31" width="11.00" height="2.00" fill="#f59e67"/>
<rect x="120.50" y="97.31" width="11.00" height="2.00" fill="#f5a06b"/>
<rect x="131.00" y="97.31" width="11.00" height="2.00" fill="#f5a26e"/>
<rect x="141.50" y="97.31" width="11.00" height="2.00" fill="#f5a572"/>
<rect x="152.00" y="97.31" width="11.00" height="2.00" fill="#f5a16c"/>
<rect x="162.50" y="97.31" width="10.50" height="2.00" fill="#f5a06a"/>
<rect x="47.00" y="98.81" width="11.00" height="2.00" fill="#a2e0f0"/>
<rect x="57.50" y="98.81" width="11.00" height="2.00" fill="#30bddf"/>
<rect x="68.00" y="98.81" width="11.00" height="2.00" fill="#36bfe1"/>
<rect x="78.50" y="98.81" width="11.00" height="2.00" fill="#f4965c"/>
<rect x="89.00" y="98.81" width="11.00" height="2.00" fill="#f9cbad"/>
<rect x="99.50" y="98.81" width="11.00" height="2.00" fill="#f7b890"/>
<rect x="110.00" y="98.81" width="11.00" height="2.00" fill="#f39053"/>
<rect x="120.50" y="98.81" width="11.00" height="2.00" fill="#f39053"/>
<rect x="131.00" y="98.81" width="11.00" height="2.00" fill="#f38d50"/>
<rect x="141.50" y="98.81" width="11.00" height="2.00" fill="#f59e69"/>
<rect x="152.00" y="98.81" width="11.00" height="2.00" fill="#f49b63"/>
<rect x="162.50" y="98.81" width="10.50" height="2.00" fill="#f59d66"/>
<rect x="47.00" y="100.31" width="11.00" height="2.00" fill="#50c9e6"/>
<rect x="57.50" y="100.31" width="11.00" height="2.00" fill="#4cc8e6"/>
<rect x="68.00" y="100.31" width="11.00" height="2.00" fill="#68d0e9"/>
<rect x="78.50" y="100.31" width="11.00" height="2.00" fill="#f8bc96"/>
<rect x="89.00" y="100.31" width="11.00" height="2.00" fill="#f8bc96"/>
<rect x="99.50" y="100.31" width="11.00" height="2.00" fill="#f6a776"/>
<rect x="110.00" y="100.31" width="11.00" height="2.00" fill="#f4955a"/>
<rect x="120.50" y="100.31" width="11.00" height="2.00" fill="#f38a4a"/>
<rect x="131.00" y="100.31" width="11.00" height="2.00" fill="#f38948"/>
<rect x="141.50" y="100.31" width="11.00" height="2.00" fill="#fbefe8"/>
<rect x="152.00" y="100.31" width="11.00" height="2.00" fill="#fbeee6"/>
<rect x="162.50" y="100.31" width="10.50" height="2.00" fill="#fbf1ec"/>
<rect x="47.00" y="101.82" width="11.00" height="2.00" fill="#44c5e4"/>
<rect x="57.50" y="101.82" width="11.00" height="2.00" fill="#3bc1e2"/>
<rect x="68.00" y="101.82" width="11.00" height="2.00" fill="#2dbbde"/>
<rect x="78.50" y="101.82" width="11.00" height="2.00" fill="#fad2b9"/>
<rect x="89.00" y="101.82" width="11.00" height="2.00" fill="#f9c7a6"/>
<rect x="99.50" y="101.82" width="11.00" height="2.00" fill="#fbdcc7"/>
<rect x="110.00" y="101.82" width="11.00" height="2.00" fill="#f5a06b"/>
<rect x="120.50" y="101.82" width="11.00" height="2.00" fill="#f4955b"/>
<rect x="131.00" y="101.82" width="11.00" height="2.00" fill="#f6ab7b"/>
<rect x="141.50" y="101.82" width="11.00" height="2.00" fill="#ebf2f3"/>
<rect x="152.00" y="101.82" width="11.00" height="2.00" fill="#e8f1f3"/>
<rect x="162.50" y="101.82" width="10.50" height="2.00" fill="#faf6f4"/>
<rect x="47.00" y="103.32" width="11.00" height="2.00" fill="#96ddef"/>
<rect x="57.50" y="103.32" width="11.00" height="2.00" fill="#47c6e5"/>
<rect x="68.00" y="103.32" width="11.00" height="2.00" fill="#57cbe7"/>
<rect x="78.50" y="103.32" width="11.00" height="2.00" fill="#f7b58b"/>
<rect x="89.00" y="103.32" width="11.00" height="2.00" fill="#faceb1"/>
<rect x="99.50" y="103.32" width="11.00" height="2.00" fill="#f5a572"/>
<rect x="110.00" y="103.32" width="11.00" height="2.00" fill="#f38c4d"/>
<rect x="120.50" y="103.32" width="11.00" height="2.00" fill="#f5a370"/>
<rect x="131.00" y="103.32" width="11.00" height="2.00" fill="#f38d4f"/>
<rect x="141.50" y="103.32" width="11.00" height="2.00" fill="#55cae7"/>
<rect x="152.00" y="103.32" width="11.00" height="2.00" fill="#fbdcc8"/>
<rect x="162.50" y="103.32" width="10.50" height="2.00" fill="#f3f4f4"/>
<rect x="47.00" y="104.82" width="11.00" height="2.00" fill="#40c3e3"/>
<rect x="57.50" y="104.82" width="11.00" height="2.00" fill="#48c7e5"/>
<rect x="68.00" y="104.82" width="11.00" height="2.00" fill="#2bbbde"/>
<rect x="78.50" y="104.82" width="11.00" height="2.00" fill="#fbdecb"/>
<rect x="89.00" y="104.82" width="11.00" height="2.00" fill="#fbe1d0"/>
<rect x="99.50" y="104.82" width="11.00" height="2.00" fill="#fbe0ce"/>
<rect x="110.00" y="104.82" width="11.00" height="2.00" fill="#f5a470"/>
<rect x="120.50" y="104.82" width="11.00" height="2.00" fill="#f4985e"/>
<rect x="131.00" y="104.82" width="11.00" height="2.00" fill="#f5a36f"/>
<rect x="141.50" y="104.82" width="11.00" height="2.00" fill="#33bee0"/>
<rect x="152.00" y="104.82" width="11.00" height="2.00" fill="#fbe2d3"/>
<rect x="162.50" y="104.82" width="10.50" height="2.00" fill="#84d8ec"/>
<rect x="47.00" y="106.32" width="11.00" height="2.00" fill="#66cfe9"/>
<rect x="57.50" y="106.32" width="11.00" height="2.00" fill="#49c7e5"/>
<rect x="68.00" y="106.32" width="11.00" height="2.00" fill="#32bee0"/>
<rect x="78.50" y="106.32" width="11.00" height="2.00" fill="#f38949"/>
<rect x="89.00" y="106.32" width="11.00" height="2.00" fill="#f17e37"/>
<rect x="99.50" y="106.32" width="11.00" height="2.00" fill="#f17e38"/>
<rect x="110.00" y="106.32" width="11.00" height="2.00" fill="#fbe0cf"/>
<rect x="120.50" y="106.32" width="11.00" height="2.00" fill="#fbdac5"/>
<rect x="131.00" y="106.32" width="11.00" height="2.00" fill="#fbdcc8"/>
<rect x="141.50" y="106.32" width="11.00" height="2.00" fill="#cbeaf2"/>
<rect x="152.00" y="106.32" width="11.00" height="2.00" fill="#ebf2f3"/>
<rect x="162.50" y="106.32" width="10.50" height="2.00" fill="#60cee8"/>
<rect x="47.00" y="107.83" width="11.00" height="2.00" fill="#82d7ec"/>
<rect x="57.50" y="107.83" width="11.00" height="2.00" fill="#6ad0ea"/>
<rect x="68.00" y="107.83" width="11.00" height="2.00" fill="#41c4e3"/>
<rect x="78.50" y="107.83" width="11.00" height="2.00" fill="#f0772c"/>
<rect x="89.00" y="107.83" width="11.00" height="2.00" fill="#f2833f"/>
<rect x="99.50" y="107.83" width="11.00" height="2.00" fill="#f17d35"/>
<rect x="110.00" y="107.83" width="11.00" height="2.00" fill="#faceb2"/>
<rect x="120.50" y="107.83" width="11.00" height="2.00" fill="#f9c7a7"/>
<rect x="131.00" y="107.83" width="11.00" height="2.00" fill="#fbd9c2"/>
<rect x="141.50" y="107.83" width="11.00" height="2.00" fill="#c5e9f2"/>
<rect x="152.00" y="107.83" width="11.00" height="2.00" fill="#fbf1eb"/>
<rect x="162.50" y="107.83" width="10.50" height="2.00" fill="#44c5e4"/>
<rect x="47.00" y="109.33" width="11.00" height="2.00" fill="#68d0e9"/>
<rect x="57.50" y="109.33" width="11.00" height="2.00" fill="#8cdaed"/>
<rect x="68.00" y="109.33" width="11.00" height="2.00" fill="#5dcde8"/>
<rect x="78.50" y="109.33" width="11.00" height="2.00" fill="#f38949"/>
<rect x="89.00" y="109.33" width="11.00" height="2.00" fill="#f17930"/>
<rect x="99.50" y="109.33" width="11.00" height="2.00" fill="#f1782d"/>
<rect x="110.00" y="109.33" width="11.00" height="2.00" fill="#fbd6bf"/>
<rect x="120.50" y="109.33" width="11.00" height="2.00" fill="#f9c9aa"/>
<rect x="131.00" y="109.33" width="11.00" height="2.00" fill="#fad4bb"/>
<rect x="141.50" y="109.33" width="11.00" height="2.00" fill="#fbebe1"/>
<rect x="152.00" y="109.33" width="11.00" height="2.00" fill="#fbe5d7"/>
<rect x="162.50" y="109.33" width="10.50" height="2.00" fill="#fbf0eb"/>
<rect x="47.00" y="110.83" width="11.00" height="2.00" fill="#62cee9"/>
<rect x="57.50" y="110.83" width="11.00" height="2.00" fill="#81d7ec"/>
<rect x="68.00" y="110.83" width="11.00" height="2.00" fill="#62cee9"/>
<rect x="78.50" y="110.83" width="11.00" height="2.00" fill="#f17e37"/>
<rect x="89.00" y="110.83" width="11.00" height="2.00" fill="#f28543"/>
<rect x="99.50" y="110.83" width="11.00" height="2.00" fill="#f17e37"/>
<rect x="110.00" y="110.83" width="11.00" height="2.00" fill="#f9c9aa"/>
<rect x="120.50" y="110.83" width="11.00" height="2.00" fill="#fbddc9"/>
<rect x="131.00" y="110.83" width="11.00" height="2.00" fill="#f9c3a0"/>
<rect x="141.50" y="110.83" width="11.00" height="2.00" fill="#fbf0ea"/>
<rect x="152.00" y="110.83" width="11.00" height="2.00" fill="#fbece3"/>
<rect x="162.50" y="110.83" width="10.50" height="2.00" fill="#fbebe2"/>
<rect x="47.00" y="112.34" width="11.00" height="2.00" fill="#7ed6ec"/>
<rect x="57.50" y="112.34" width="11.00" height="2.00" fill="#64cfe9"/>
<rect x="68.00" y="112.34" width="11.00" height="2.00" fill="#b8e5f1"/>
<rect x="78.50" y="112.34" width="11.00" height="2.00" fill="#f06f22"/>
<rect x="89.00" y="112.34" width="11.00" height="2.00" fill="#f07022"/>
<rect x="99.50" y="112.34" width="11.00" height="2.00" fill="#ef691a"/>
<rect x="110.00" y="112.34" width="11.00" height="2.00" fill="#fbece3"/>
<rect x="120.50" y="112.34" width="11.00" height="2.00" fill="#fbdfcd"/>
<rect x="131.00" y="112.34" width="11.00" height="2.00" fill="#fbdbc7"/>
<rect x="141.50" y="112.34" width="11.00" height="2.00" fill="#a8e1f0"/>
<rect x="152.00" y="112.34" width="11.00" height="2.00" fill="#d1ecf2"/>
<rect x="162.50" y="112.34" width="10.50" height="2.00" fill="#a1e0f0"/>
<rect x="47.00" y="113.84" width="11.00" height="2.00" fill="#23b7dc"/>
<rect x="57.50" y="113.84" width="11.00" height="2.00" fill="#8bdaed"/>
<rect x="68.00" y="113.84" width="11.00" height="2.00" fill="#67cfe9"/>
<rect x="78.50" y="113.84" width="11.00" height="2.00" fill="#f0762b"/>
<rect x="89.00" y="113.84" width="11.00" height="2.00" fill="#f07023"/>
<rect x="99.50" y="113.84" width="11.00" height="2.00" fill="#f17d36"/>
<rect x="110.00" y="113.84" width="11.00" height="2.00" fill="#f7f5f4"/>
<rect x="120.50" y="113.84" width="11.00" height="2.00" fill="#fbede5"/>
<rect x="131.00" y="113.84" width="11.00" height="2.00" fill="#fbefe8"/>
<rect x="141.50" y="113.84" width="11.00" height="2.00" fill="#56cbe7"/>
<rect x="152.00" y="113.84" width="11.00" height="2.00" fill="#7dd6ec"/>
<rect x="162.50" y="113.84" width="10.50" height="2.00" fill="#96ddef"/>
<rect x="47.00" y="115.34" width="11.00" height="2.00" fill="#7cd5ec"/>
<rect x="57.50" y="115.34" width="11.00" height="2.00" fill="#9edff0"/>
<rect x="68.00" y="115.34" width="11.00" height="2.00" fill="#91dbee"/>
<rect x="78.50" y="115.34" width="11.00" height="2.00" fill="#f17a32"/>
<rect x="89.00" y="115.34" width="11.00" height="2.00" fill="#f07428"/>
<rect x="99.50" y="115.34" width="11.00" height="2.00" fill="#f17b32"/>
<rect x="110.00" y="115.34" width="11.00" height="2.00" fill="#f3f4f4"/>
<rect x="120.50" y="115.34" width="11.00" height="2.00" fill="#fbdfcc"/>
<rect x="131.00" y="115.34" width="11.00" height="2.00" fill="#fbe4d6"/>
<rect x="141.50" y="115.34" width="11.00" height="2.00" fill="#5ccce8"/>
<rect x="152.00" y="115.34" width="11.00" height="2.00" fill="#9bdeef"/>
<rect x="162.50" y="115.34" width="10.50" height="2.00" fill="#b0e3f1"/>
<rect x="47.00" y="116.84" width="11.00" height="2.00" fill="#78d4eb"/>
<rect x="57.50" y="116.84" width="11.00" height="2.00" fill="#51cae7"/>
<rect x="68.00" y="116.84" width="11.00" height="2.00" fill="#63cee9"/>
<rect x="78.50" y="116.84" width="11.00" height="2.00" fill="#f28745"/>
<rect x="89.00" y="116.84" width="11.00" height="2.00" fill="#f38949"/>
<rect x="99.50" y="116.84" width="11.00" height="2.00" fill="#f4955b"/>
<rect x="110.00" y="116.84" width="11.00" height="2.00" fill="#fad3ba"/>
<rect x="120.50" y="116.84" width="11.00" height="2.00" fill="#fbdcc8"/>
<rect x="131.00" y="116.84" width="11.00" height="2.00" fill="#fbdecb"/>
<rect x="141.50" y="116.84" width="11.00" height="2.00" fill="#4bc8e6"/>
<rect x="152.00" y="116.84" width="11.00" height="2.00" fill="#47c6e5"/>
<rect x="162.50" y="116.84" width="10.50" height="2.00" fill="#7ed6ec"/>
<rect x="47.00" y="118.35" width="11.00" height="2.00" fill="#6fd2ea"/>
<rect x="57.50" y="118.35" width="11.00" height="2.00" fill="#3fc3e3"/>
<rect x="68.00" y="118.35" width="11.00" height="2.00" fill="#65cfe9"/>
<rect x="78.50" y="118.35" width="11.00" height="2.00" fill="#f1782e"/>
<rect x="89.00" y="118.35" width="11.00" height="2.00" fill="#f07326"/>
<rect x="99.50" y="118.35" width="11.00" height="2.00" fill="#f2803b"/>
<rect x="110.00" y="118.35" width="11.00" height="2.00" fill="#fad0b5"/>
<rect x="120.50" y="118.35" width="11.00" height="2.00" fill="#f8bd97"/>
<rect x="131.00" y="118.35" width="11.00" height="2.00" fill="#fad2b8"/>
<rect x="141.50" y="118.35" width="11.00" height="2.00" fill="#80d7ec"/>
<rect x="152.00" y="118.35" width="11.00" height="2.00" fill="#9edfef"/>
<rect x="162.50" y="118.35" width="10.50" height="2.00" fill="#96ddef"/>
<rect x="47.00" y="119.85" width="11.00" height="2.00" fill="#9adeef"/>
<rect x="57.50" y="119.85" width="11.00" height="2.00" fill="#fbf6f4"/>
<rect x="68.00" y="119.85" width="11.00" height="2.00" fill="#f6f5f4"/>
<rect x="78.50" y="119.85" width="11.00" height="2.00" fill="#f07123"/>
<rect x="89.00" y="119.85" width="11.00" height="2.00" fill="#ef6d1f"/>
<rect x="99.50" y="119.85" width="11.00" height="2.00" fill="#ef691a"/>
<rect x="110.00" y="119.85" width="11.00" height="2.00" fill="#f8c19e"/>
<rect x="120.50" y="119.85" width="11.00" height="2.00" fill="#f8c09c"/>
<rect x="131.00" y="119.85" width="11.00" height="2.00" fill="#f7b48a"/>
<rect x="141.50" y="119.85" width="11.00" height="2.00" fill="#83d7ec"/>
<rect x="152.00" y="119.85" width="11.00" height="2.00" fill="#b3e4f1"/>
<rect x="162.50" y="119.85" width="10.50" height="2.00" fill="#e2f0f3"/>
<rect x="47.00" y="121.35" width="11.00" height="2.00" fill="#87d8ed"/>
<rect x="57.50" y="121.35" width="11.00" height="2.00" fill="#c2e8f1"/>
<rect x="68.00" y="121.35" width="11.00" height="2.00" fill="#e7f1f3"/>
<rect x="78.50" y="121.35" width="11.00" height="2.00" fill="#f28948"/>
<rect x="89.00" y="121.35" width="11.00" height="2.00" fill="#f2823d"/>
<rect x="99.50" y="121.35" width="11.00" height="2.00" fill="#f2813c"/>
<rect x="110.00" y="121.35" width="11.00" height="2.00" fill="#fad2b8"/>
<rect x="120.50" y="121.35" width="11.00" height="2.00" fill="#f9c4a2"/>
<rect x="131.00" y="121.35" width="11.00" height="2.00" fill="#faccaf"/>
<rect x="141.50" y="121.35" width="11.00" height="2.00" fill="#61cee8"/>
<rect x="152.00" y="121.35" width="11.00" height="2.00" fill="#7ed6ec"/>
<rect x="162.50" y="121.35" width="10.50" height="2.00" fill="#caeaf2"/>
<rect x="47.00" y="122.85" width="11.00" height="2.00" fill="#8ddaee"/>
<rect x="57.50" y="122.85" width="11.00" height="2.00" fill="#f4f4f4"/>
<rect x="68.00" y="122.85" width="11.00" height="2.00" fill="#e5f0f3"/>
<rect x="78.50" y="122.85" width="11.00" height="2.00" fill="#f28441"/>
<rect x="89.00" y="122.85" width="11.00" height="2.00" fill="#ef6d20"/>
<rect x="99.50" y="122.85" width="11.00" height="2.00" fill="#f06e21"/>
<rect x="110.00" y="122.85" width="11.00" height="2.00" fill="#fbddca"/>
<rect x="120.50" y="122.85" width="11.00" height="2.00" fill="#f9caac"/>
<rect x="131.00" y="122.85" width="11.00" height="2.00" fill="#f9c5a4"/>
<rect x="141.50" y="122.85" width="11.00" height="2.00" fill="#95dcef"/>
<rect x="152.00" y="122.85" width="11.00" height="2.00" fill="#8cdaed"/>
<rect x="162.50" y="122.85" width="10.50" height="2.00" fill="#9adeef"/>
<rect x="47.00" y="124.36" width="11.00" height="2.00" fill="#fbdecb"/>
<rect x="57.50" y="124.36" width="11.00" height="2.00" fill="#57cbe7"/>
<rect x="68.00" y="124.36" width="11.00" height="2.00" fill="#33bee0"/>
<rect x="78.50" y="124.36" width="11.00" height="2.00" fill="#f38c4d"/>
<rect x="89.00" y="124.36" width="11.00" height="2.00" fill="#f28440"/>
<rect x="99.50" y="124.36" width="11.00" height="2.00" fill="#f49459"/>
<rect x="110.00" y="124.36" width="11.00" height="2.00" fill="#fbdac4"/>
<rect x="120.50" y="124.36" width="11.00" height="2.00" fill="#fbdbc6"/>
<rect x="131.00" y="124.36" width="11.00" height="2.00" fill="#fad2b8"/>
<rect x="141.50" y="124.36" width="11.00" height="2.00" fill="#44c5e4"/>
<rect x="152.00" y="124.36" width="11.00" height="2.00" fill="#42c4e3"/>
<rect x="162.50" y="124.36" width="10.50" height="2.00" fill="#70d2ea"/>
<rect x="47.00" y="125.86" width="11.00" height="2.00" fill="#fbdac5"/>
<rect x="57.50" y="125.86" width="11.00" height="2.00" fill="#5ccce8"/>
<rect x="68.00" y="125.86" width="11.00" height="2.00" fill="#73d3ea"/>
<rect x="78.50" y="125.86" width="11.00" height="2.00" fill="#f07225"/>
<rect x="89.00" y="125.86" width="11.00" height="2.00" fill="#f07023"/>
<rect x="99.50" y="125.86" width="11.00" height="2.00" fill="#f2803b"/>
<rect x="110.00" y="125.86" width="11.00" height="2.00" fill="#facfb3"/>
<rect x="120.50" y="125.86" width="11.00" height="2.00" fill="#fbe1d1"/>
<rect x="131.00" y="125.86" width="11.00" height="2.00" fill="#f7b58b"/>
<rect x="141.50" y="125.86" width="11.00" height="2.00" fill="#5fcde8"/>
<rect x="152.00" y="125.86" width="11.00" height="2.00" fill="#74d3eb"/>
<rect x="162.50" y="125.86" width="10.50" height="2.00" fill="#b1e4f1"/>
<rect x="47.00" y="127.36" width="11.00" height="2.00" fill="#fbdecb"/>
<rect x="57.50" y="127.36" width="11.00" height="2.00" fill="#3dc2e2"/>
<rect x="68.00" y="127.36" width="11.00" height="2.00" fill="#24b8dc"/>
<rect x="78.50" y="127.36" width="11.00" height="2.00" fill="#f28441"/>
<rect x="89.00" y="127.36" width="11.00" height="2.00" fill="#f17d36"/>
<rect x="99.50" y="127.36" width="11.00" height="2.00" fill="#f4965c"/>
<rect x="110.00" y="127.36" width="11.00" height="2.00" fill="#eaf2f3"/>
<rect x="120.50" y="127.36" width="11.00" height="2.00" fill="#e3f0f3"/>
<rect x="131.00" y="127.36" width="11.00" height="2.00" fill="#e6f1f3"/>
<rect x="141.50" y="127.36" width="11.00" height="2.00" fill="#fbede4"/>
<rect x="152.00" y="127.36" width="11.00" height="2.00" fill="#fbe5d7"/>
<rect x="162.50" y="127.36" width="10.50" height="2.00" fill="#fbf2ee"/>
<rect x="47.00" y="128.86" width="11.00" height="2.00" fill="#f9c9aa"/>
<rect x="57.50" y="128.86" width="11.00" height="2.00" fill="#93dcee"/>
<rect x="68.00" y="128.86" width="11.00" height="2.00" fill="#64cfe9"/>
<rect x="78.50" y="128.86" width="11.00" height="2.00" fill="#f07326"/>
<rect x="89.00" y="128.86" width="11.00" height="2.00" fill="#ef6d1f"/>
<rect x="99.50" y="128.86" width="11.00" height="2.00" fill="#f07124"/>
<rect x="110.00" y="128.86" width="11.00" height="2.00" fill="#fbf6f4"/>
<rect x="120.50" y="128.86" width="11.00" height="2.00" fill="#f1f3f4"/>
<rect x="131.00" y="128.86" width="11.00" height="2.00" fill="#f5f4f4"/>
<rect x="141.50" y="128.86" width="11.00" height="2.00" fill="#fbd8c1"/>
<rect x="152.00" y="128.86" width="11.00" height="2.00" fill="#facdb1"/>
<rect x="162.50" y="128.86" width="10.50" height="2.00" fill="#fad4bc"/>
<rect x="47.00" y="130.37" width="11.00" height="2.00" fill="#91dbee"/>
<rect x="57.50" y="130.37" width="11.00" height="2.00" fill="#9adeef"/>
<rect x="68.00" y="130.37" width="11.00" height="2.00" fill="#64cfe9"/>
<rect x="78.50" y="130.37" width="11.00" height="2.00" fill="#f17930"/>
<rect x="89.00" y="130.37" width="11.00" height="2.00" fill="#f07124"/>
<rect x="99.50" y="130.37" width="11.00" height="2.00" fill="#f07529"/>
<rect x="110.00" y="130.37" width="11.00" height="2.00" fill="#f6f5f4"/>
<rect x="120.50" y="130.37" width="11.00" height="2.00" fill="#f2f4f4"/>
<rect x="131.00" y="130.37" width="11.00" height="2.00" fill="#f6f5f4"/>
<rect x="141.50" y="130.37" width="11.00" height="2.00" fill="#f5a06b"/>
<rect x="152.00" y="130.37" width="11.00" height="2.00" fill="#f5a26e"/>
<rect x="162.50" y="130.37" width="10.50" height="2.00" fill="#f7b388"/>
<rect x="47.00" y="131.87" width="11.00" height="2.00" fill="#95dcee"/>
<rect x="57.50" y="131.87" width="11.00" height="2.00" fill="#4ec8e6"/>
<rect x="68.00" y="131.87" width="11.00" height="2.00" fill="#85d8ed"/>
<rect x="78.50" y="131.87" width="11.00" height="2.00" fill="#f1782e"/>
<rect x="89.00" y="131.87" width="11.00" height="2.00" fill="#f1792f"/>
<rect x="99.50" y="131.87" width="11.00" height="2.00" fill="#f07224"/>
<rect x="110.00" y="131.87" width="11.00" height="2.00" fill="#fbf0ea"/>
<rect x="120.50" y="131.87" width="11.00" height="2.00" fill="#f0f3f4"/>
<rect x="131.00" y="131.87" width="11.00" height="2.00" fill="#fbf5f3"/>
<rect x="141.50" y="131.87" width="11.00" height="2.00" fill="#f7b083"/>
<rect x="152.00" y="131.87" width="11.00" height="2.00" fill="#f39256"/>
<rect x="162.50" y="131.87" width="10.50" height="2.00" fill="#f6ab7b"/>
<rect x="47.00" y="133.37" width="11.00" height="2.00" fill="#97ddef"/>
<rect x="57.50" y="133.37" width="11.00" height="2.00" fill="#a1e0f0"/>
<rect x="68.00" y="133.37" width="11.00" height="2.00" fill="#cfebf2"/>
<rect x="78.50" y="133.37" width="11.00" height="2.00" fill="#f2833f"/>
<rect x="89.00" y="133.37" width="11.00" height="2.00" fill="#f07326"/>
<rect x="99.50" y="133.37" width="11.00" height="2.00" fill="#f07022"/>
<rect x="110.00" y="133.37" width="11.00" height="2.00" fill="#cceaf2"/>
<rect x="120.50" y="133.37" width="11.00" height="2.00" fill="#b9e6f1"/>
<rect x="131.00" y="133.37" width="11.00" height="2.00" fill="#fbe9dd"/>
<rect x="141.50" y="133.37" width="11.00" height="2.00" fill="#f59e68"/>
<rect x="152.00" y="133.37" width="11.00" height="2.00" fill="#f6ae80"/>
<rect x="162.50" y="133.37" width="10.50" height="2.00" fill="#f4975d"/>
<rect x="47.00" y="134.88" width="11.00" height="2.00" fill="#65cfe9"/>
<rect x="57.50" y="134.88" width="11.00" height="2.00" fill="#2fbcdf"/>
<rect x="68.00" y="134.88" width="11.00" height="2.00" fill="#39c0e1"/>
<rect x="78.50" y="134.88" width="11.00" height="2.00" fill="#f1803a"/>
<rect x="89.00" y="134.88" width="11.00" height="2.00" fill="#f38948"/>
<rect x="99.50" y="134.88" width="11.00" height="2.00" fill="#f4965c"/>
<rect x="110.00" y="134.88" width="11.00" height="2.00" fill="#3fc3e3"/>
<rect x="120.50" y="134.88" width="11.00" height="2.00" fill="#88d9ed"/>
<rect x="131.00" y="134.88" width="11.00" height="2.00" fill="#7bd5eb"/>
<rect x="141.50" y="134.88" width="11.00" height="2.00" fill="#fad2b8"/>
<rect x="152.00" y="134.88" width="11.00" height="2.00" fill="#f8bb94"/>
<rect x="162.50" y="134.88" width="10.50" height="2.00" fill="#f8c09c"/>
<rect x="47.00" y="136.38" width="11.00" height="2.00" fill="#51c9e7"/>
<rect x="57.50" y="136.38" width="11.00" height="2.00" fill="#6bd1ea"/>
<rect x="68.00" y="136.38" width="11.00" height="2.00" fill="#90dbee"/>
<rect x="78.50" y="136.38" width="11.00" height="2.00" fill="#f07124"/>
<rect x="89.00" y="136.38" width="11.00" height="2.00" fill="#f07023"/>
<rect x="99.50" y="136.38" width="11.00" height="2.00" fill="#f28746"/>
<rect x="110.00" y="136.38" width="11.00" height="2.00" fill="#c0e7f1"/>
<rect x="120.50" y="136.38" width="11.00" height="2.00" fill="#caeaf2"/>
<rect x="131.00" y="136.38" width="11.00" height="2.00" fill="#fbede4"/>
<rect x="141.50" y="136.38" width="11.00" height="2.00" fill="#f17d36"/>
<rect x="152.00" y="136.38" width="11.00" height="2.00" fill="#f6a775"/>
<rect x="162.50" y="136.38" width="10.50" height="2.00" fill="#f5a471"/>
<rect x="47.00" y="137.88" width="11.00" height="2.00" fill="#92dcee"/>
<rect x="57.50" y="137.88" width="11.00" height="2.00" fill="#a1e0f0"/>
<rect x="68.00" y="137.88" width="11.00" height="2.00" fill="#65cfe9"/>
<rect x="78.50" y="137.88" width="11.00" height="2.00" fill="#f07224"/>
<rect x="89.00" y="137.88" width="11.00" height="2.00" fill="#f0762b"/>
<rect x="99.50" y="137.88" width="11.00" height="2.00" fill="#f07225"/>
<rect x="110.00" y="137.88" width="11.00" height="2.00" fill="#ade3f0"/>
<rect x="120.50" y="137.88" width="11.00" height="2.00" fill="#91dbee"/>
<rect x="131.00" y="137.88" width="11.00" height="2.00" fill="#e6f1f3"/>
<rect x="141.50" y="137.88" width="11.00" height="2.00" fill="#f59f69"/>
<rect x="152.00" y="137.88" width="11.00" height="2.00" fill="#f6a775"/>
<rect x="162.50" y="137.88" width="10.50" height="2.00" fill="#f5a06b"/>
<rect x="47.00" y="139.38" width="11.00" height="2.00" fill="#f9c8a8"/>
<rect x="57.50" y="139.38" width="11.00" height="2.00" fill="#f9c8a8"/>
<rect x="68.00" y="139.38" width="11.00" height="2.00" fill="#f8c29f"/>
<rect x="78.50" y="139.38" width="11.00" height="2.00" fill="#f07023"/>
<rect x="89.00" y="139.38" width="11.00" height="2.00" fill="#f07427"/>
<rect x="99.50" y="139.38" width="11.00" height="2.00" fill="#f2813d"/>
<rect x="110.00" y="139.38" width="11.00" height="2.00" fill="#eff3f3"/>
<rect x="120.50" y="139.38" width="11.00" height="2.00" fill="#d2ecf2"/>
<rect x="131.00" y="139.38" width="11.00" height="2.00" fill="#c7e9f2"/>
<rect x="141.50" y="139.38" width="11.00" height="2.00" fill="#f3f4f4"/>
<rect x="152.00" y="139.38" width="11.00" height="2.00" fill="#fbf1eb"/>
<rect x="162.50" y="139.38" width="10.50" height="2.00" fill="#eff3f3"/>
<rect x="47.00" y="140.89" width="11.00" height="2.00" fill="#fbdbc6"/>
<rect x="57.50" y="140.89" width="11.00" height="2.00" fill="#fbdfcc"/>
<rect x="68.00" y="140.89" width="11.00" height="2.00" fill="#fbdfcd"/>
<rect x="78.50" y="140.89" width="11.00" height="2.00" fill="#f38c4e"/>
<rect x="89.00" y="140.89" width="11.00" height="2.00" fill="#f17e38"/>
<rect x="99.50" y="140.89" width="11.00" height="2.00" fill="#f38e50"/>
<rect x="110.00" y="140.89" width="11.00" height="2.00" fill="#91dbee"/>
<rect x="120.50" y="140.89" width="11.00" height="2.00" fill="#5ecde8"/>
<rect x="131.00" y="140.89" width="11.00" height="2.00" fill="#88d9ed"/>
<rect x="141.50" y="140.89" width="11.00" height="2.00" fill="#ddeff3"/>
<rect x="152.00" y="140.89" width="11.00" height="2.00" fill="#b8e5f1"/>
<rect x="162.50" y="140.89" width="10.50" height="2.00" fill="#9adeef"/>
<rect x="47.00" y="142.39" width="11.00" height="2.00" fill="#cbeaf2"/>
<rect x="57.50" y="142.39" width="11.00" height="2.00" fill="#abe2f0"/>
<rect x="68.00" y="142.39" width="11.00" height="2.00" fill="#c3e8f1"/>
<rect x="78.50" y="142.39" width="11.00" height="2.00" fill="#f1782e"/>
<rect x="89.00" y="142.39" width="11.00" height="2.00" fill="#f17d36"/>
<rect x="99.50" y="142.39" width="11.00" height="2.00" fill="#f1792f"/>
<rect x="110.00" y="142.39" width="11.00" height="2.00" fill="#bbe6f1"/>
<rect x="120.50" y="142.39" width="11.00" height="2.00" fill="#bce7f1"/>
<rect x="131.00" y="142.39" width="11.00" height="2.00" fill="#c1e8f1"/>
<rect x="141.50" y="142.39" width="11.00" height="2.00" fill="#ecf2f3"/>
<rect x="152.00" y="142.39" width="11.00" height="2.00" fill="#d0ebf2"/>
<rect x="162.50" y="142.39" width="10.50" height="2.00" fill="#d9eef2"/>
<rect x="47.00" y="143.89" width="11.00" height="2.00" fill="#b5e5f1"/>
<rect x="57.50" y="143.89" width="11.00" height="2.00" fill="#c4e8f2"/>
<rect x="68.00" y="143.89" width="11.00" height="2.00" fill="#a3e0f0"/>
<rect x="78.50" y="143.89" width="11.00" height="2.00" fill="#f17f39"/>
<rect x="89.00" y="143.89" width="11.00" height="2.00" fill="#f17d35"/>
<rect x="99.50" y="143.89" width="11.00" height="2.00" fill="#f28441"/>
<rect x="110.00" y="143.89" width="11.00" height="2.00" fill="#97ddef"/>
<rect x="120.50" y="143.89" width="11.00" height="2.00" fill="#a8e2f0"/>
<rect x="131.00" y="143.89" width="11.00" height="2.00" fill="#93dcee"/>
<rect x="141.50" y="143.89" width="11.00" height="2.00" fill="#fbebe1"/>
<rect x="152.00" y="143.89" width="11.00" height="2.00" fill="#7bd5eb"/>
<rect x="162.50" y="143.89" width="10.50" height="2.00" fill="#c7e9f2"/>
<rect x="47.00" y="145.39" width="11.00" height="2.00" fill="#a7e1f0"/>
<rect x="57.50" y="145.39" width="11.00" height="2.00" fill="#daeef3"/>
<rect x="68.00" y="145.39" width="11.00" height="2.00" fill="#6dd1ea"/>
<rect x="78.50" y="145.39" width="11.00" height="2.00" fill="#f38a4a"/>
<rect x="89.00" y="145.39" width="11.00" height="2.00" fill="#f28645"/>
<rect x="99.50" y="145.39" width="11.00" height="2.00" fill="#f38d4f"/>
<rect x="110.00" y="145.39" width="11.00" height="2.00" fill="#71d2ea"/>
<rect x="120.50" y="145.39" width="11.00" height="2.00" fill="#35bfe0"/>
<rect x="131.00" y="145.39" width="11.00" height="2.00" fill="#7ad5eb"/>
<rect x="141.50" y="145.39" width="11.00" height="2.00" fill="#9fdff0"/>
<rect x="152.00" y="145.39" width="11.00" height="2.00" fill="#94dcee"/>
<rect x="162.50" y="145.39" width="10.50" height="2.00" fill="#81d7ec"/>
<rect x="47.00" y="146.90" width="11.00" height="1.50" fill="#cdebf2"/>
<rect x="57.50" y="146.90" width="11.00" height="1.50" fill="#e3f0f3"/>
<rect x="68.00" y="146.90" width="11.00" height="1.50" fill="#d4ecf2"/>
<rect x="78.50" y="146.90" width="11.00" height="1.50" fill="#f28643"/>
<rect x="89.00" y="146.90" width="11.00" height="1.50" fill="#f07428"/>
<rect x="99.50" y="146.90" width="11.00" height="1.50" fill="#f07326"/>
<rect x="110.00" y="146.90" width="11.00" height="1.50" fill="#d2ecf2"/>
<rect x="120.50" y="146.90" width="11.00" height="1.50" fill="#9edff0"/>
<rect x="131.00" y="146.90" width="11.00" height="1.50" fill="#b9e6f1"/>
<rect x="141.50" y="146.90" width="11.00" height="1.50" fill="#fbf2ed"/>
<rect x="152.00" y="146.90" width="11.00" height="1.50" fill="#f4f4f4"/>
<rect x="162.50" y="146.90" width="10.50" height="1.50" fill="#fbe7da"/>
</g>
<rect x="47.00" y="33.0" width="31.55" height="3.9" fill="#fc8d62"/>
<rect x="78.50" y="33.0" width="31.55" height="3.9" fill="#e78ac3"/>
<rect x="110.00" y="33.0" width="31.55" height="3.9" fill="#66c2a5"/>
<rect x="141.50" y="33.0" width="31.55" height="3.9" fill="#8da0cb"/>
<rect x="42.8" y="37.2" width="3.8" height="111.2" fill="#0d1f7e"/>
<path d="M62.8 33.0L62.8 25.2M62.8 25.2L73.2 25.2M73.2 25.2L73.2 33.0M52.2 33.0L52.2 18.9M52.2 18.9L68.0 18.9M68.0 18.9L68.0 25.2M94.2 33.0L94.2 28.4M94.2 28.4L104.8 28.4M104.8 28.4L104.8 33.0M83.8 33.0L83.8 27.4M83.8 27.4L99.5 27.4M99.5 27.4L99.5 28.4M125.8 33.0L125.8 29.9M125.8 29.9L136.2 29.9M136.2 29.9L136.2 33.0M115.2 33.0L115.2 27.4M115.2 27.4L131.0 27.4M131.0 27.4L131.0 29.9M157.2 33.0L157.2 26.5M157.2 26.5L167.8 26.5M167.8 26.5L167.8 33.0M146.8 33.0L146.8 23.6M146.8 23.6L162.5 23.6M162.5 23.6L162.5 26.5M123.1 27.4L123.1 20.8M123.1 20.8L154.6 20.8M154.6 20.8L154.6 23.6M91.6 27.4L91.6 15.1M91.6 15.1L138.9 15.1M138.9 15.1L138.9 20.8M60.1 18.9L60.1 5.3M60.1 5.3L115.2 5.3M115.2 5.3L115.2 15.1" stroke="#b0b0b0" stroke-width="0.55" fill="none"/>
<path d="M42.4 90.48H40.7V91.41H42.4M42.4 139.60H40.6V140.52H42.4M42.4 93.26H41.3V94.19H42.4M42.4 141.45H41.1V142.38H42.4M42.4 58.98H40.8V59.90H42.4M42.4 96.04H41.1V96.97H42.4M42.4 134.96H41.8V135.89H42.4M42.4 92.34H40.5V93.73H41.3M42.4 47.86H41.2V48.78H42.4M42.4 124.77H41.1V125.70H42.4M42.4 113.65H40.5V114.58H42.4M42.4 95.12H39.7V96.51H41.1M42.4 117.36H41.0V118.28H42.4M42.4 119.21H42.0V120.14H42.4M42.4 106.24H42.0V107.16H42.4M42.4 41.37H41.8V42.30H42.4M42.4 68.24H41.1V69.17H42.4M42.4 145.16H41.3V146.08H42.4M42.4 97.90H41.1V98.82H42.4M42.4 63.61H41.2V64.54H42.4M42.4 127.55H41.6V128.48H42.4M42.4 37.66H41.0V38.59H42.4M42.4 102.53H41.0V103.46H42.4M40.5 93.03H37.8V95.81H39.7M42.4 49.71H41.0V50.64H42.4M42.4 81.22H40.9V82.14H42.4M40.5 114.11H39.7V115.50H42.4M42.4 46.93H40.0V48.32H41.2M42.4 54.34H41.4V55.27H42.4M42.4 80.29H39.9V81.68H40.9M42.4 40.44H40.1V41.83H41.8M41.0 38.13H40.3V39.52H42.4M40.0 47.62H38.9V50.17H41.0M42.4 104.38H41.4V105.31H42.4M42.4 132.18H41.1V133.11H42.4M39.9 80.98H39.1V83.07H42.4M42.4 87.70H41.5V88.63H42.4M42.4 109.94H40.9V110.87H42.4M42.4 60.83H41.8V61.76H42.4M42.4 57.12H42.0V58.05H42.4M42.4 122.92H40.8V123.84H42.4M42.4 71.02H41.0V71.95H42.4M42.4 73.80H41.4V74.73H42.4M41.4 74.27H39.5V75.66H42.4M41.2 64.07H40.2V65.46H42.4M39.7 114.81H39.2V116.43H42.4M42.4 121.99H38.9V123.38H40.8M40.3 38.82H39.3V41.14H40.1M42.4 100.68H40.5V101.60H42.4M42.4 44.15H41.7V45.08H42.4M38.9 122.69H37.0V125.23H41.1M41.8 61.29H41.4V62.68H42.4M41.0 71.49H40.3V72.88H42.4M41.1 98.36H40.8V99.75H42.4M42.4 112.72H37.6V115.62H39.2M42.4 129.40H41.9V130.33H42.4M42.4 51.56H41.7V52.49H42.4M42.4 111.80H36.8V114.17H37.6M42.4 109.02H40.0V110.41H40.9M36.8 112.98H35.8V117.82H41.0M42.4 108.09H38.9V109.71H40.0M42.0 106.70H38.3V108.90H38.9M42.4 84.00H41.8V84.92H42.4M42.0 57.59H40.0V59.44H40.8M41.1 68.71H39.5V70.10H42.4M40.3 72.18H38.0V74.96H39.5M41.4 61.99H38.7V64.77H40.2M37.0 123.96H36.4V126.62H42.4M42.4 89.56H39.0V90.95H40.7M41.1 132.65H40.6V134.04H42.4M42.4 46.00H38.4V48.90H38.9M41.7 44.61H37.3V47.45H38.4M42.4 79.36H38.3V82.03H39.1M42.4 147.01H41.4V147.94H42.4M41.4 104.85H36.7V107.80H38.3M42.4 138.67H39.5V140.06H40.6M42.4 131.26H40.0V133.34H40.6M42.4 53.42H40.9V54.81H41.4M41.6 128.01H40.4V129.87H41.9M41.3 145.62H40.0V147.47H41.4M42.4 85.85H41.7V86.78H42.4M42.4 77.51H40.9V78.44H42.4M40.9 54.11H40.1V56.20H42.4M40.0 132.30H39.2V135.43H41.8M37.3 46.03H36.6V52.03H41.7M42.0 119.67H40.9V121.06H42.4M39.5 69.40H37.5V73.57H38.0M37.5 71.49H35.8V76.58H42.4M38.3 80.70H37.0V84.46H41.8M40.4 128.94H38.1V133.86H39.2M40.0 58.51H37.5V63.38H38.7M39.3 39.98H38.2V43.22H42.4M39.0 90.25H36.4V94.42H37.8M36.6 49.03H36.3V55.15H40.1M42.4 137.74H39.0V139.37H39.5M37.5 60.95H36.0V66.39H42.4M40.8 99.06H39.9V101.14H40.5M36.0 63.67H35.5V67.32H42.4M39.0 138.55H38.1V141.91H41.1M36.3 52.09H33.8V65.49H35.5M37.0 82.58H35.4V86.31H41.7M35.8 115.40H34.9V120.37H40.9M42.4 143.30H40.7V144.23H42.4M42.4 136.82H36.3V140.23H38.1M38.2 41.60H32.1V58.79H33.8M34.9 117.89H34.5V125.29H36.4M38.1 131.40H35.4V138.53H36.3M34.5 121.59H34.1V134.96H35.4M35.8 74.04H34.9V77.97H40.9M34.9 76.00H32.9V84.45H35.4M36.7 106.32H32.5V128.28H34.1M32.5 117.30H31.3V143.77H40.7M41.0 102.99H31.1V130.53H31.3M36.4 92.34H35.0V100.10H39.9M31.1 116.76H30.9V146.55H40.0M32.1 50.20H31.3V80.22H32.9M31.3 65.21H30.4V88.17H41.5M35.0 96.22H29.5V131.65H30.9M30.4 76.69H28.6V113.94H29.5" stroke="#ababab" stroke-width="0.35" fill="none"/>
<text x="21.0" y="4.7" font-size="5.6" text-anchor="start" font-weight="bold" fill="#111" stroke="#111" stroke-width="0.24">A</text>
<text x="23.6" y="93.2" font-size="6.0" text-anchor="middle" transform="rotate(-90 23.6 93.2)" stroke="#222" stroke-width="0.24">Membrane proteins</text>
<text x="53.5" y="151.4" font-size="4.6" text-anchor="end" transform="rotate(-45 53.5 151.4)" stroke="#222" stroke-width="0.24">Erythrocytes_1</text>
<text x="64.0" y="151.4" font-size="4.6" text-anchor="end" transform="rotate(-45 64.0 151.4)" stroke="#222" stroke-width="0.24">Erythrocytes_2</text>
<text x="74.5" y="151.4" font-size="4.6" text-anchor="end" transform="rotate(-45 74.5 151.4)" stroke="#222" stroke-width="0.24">Erythrocytes_3</text>
<text x="85.0" y="151.4" font-size="4.6" text-anchor="end" transform="rotate(-45 85.0 151.4)" stroke="#222" stroke-width="0.24">Reticulocytes_1</text>
<text x="95.5" y="151.4" font-size="4.6" text-anchor="end" transform="rotate(-45 95.5 151.4)" stroke="#222" stroke-width="0.24">Reticulocytes_2</text>
<text x="106.0" y="151.4" font-size="4.6" text-anchor="end" transform="rotate(-45 106.0 151.4)" stroke="#222" stroke-width="0.24">Reticulocytes_3</text>
<text x="116.5" y="151.4" font-size="4.6" text-anchor="end" transform="rotate(-45 116.5 151.4)" stroke="#222" stroke-width="0.24">BEL-A_1</text>
<text x="127.0" y="151.4" font-size="4.6" text-anchor="end" transform="rotate(-45 127.0 151.4)" stroke="#222" stroke-width="0.24">BEL-A_2</text>
<text x="137.4" y="151.4" font-size="4.6" text-anchor="end" transform="rotate(-45 137.4 151.4)" stroke="#222" stroke-width="0.24">BEL-A_3</text>
<text x="147.9" y="151.4" font-size="4.6" text-anchor="end" transform="rotate(-45 147.9 151.4)" stroke="#222" stroke-width="0.24">JK-1_1</text>
<text x="158.4" y="151.4" font-size="4.6" text-anchor="end" transform="rotate(-45 158.4 151.4)" stroke="#222" stroke-width="0.24">JK-1_2</text>
<text x="168.9" y="151.4" font-size="4.6" text-anchor="end" transform="rotate(-45 168.9 151.4)" stroke="#222" stroke-width="0.24">JK-1_3</text>
<text x="83.0" y="182.5" font-size="6.0" text-anchor="start" stroke="#222" stroke-width="0.24">Condition-replicate</text>
<defs><linearGradient id="cb" x1="0" y1="0" x2="0" y2="1"><stop offset="0" stop-color="#ee6012"/><stop offset="0.2" stop-color="#f38a4c"/><stop offset="0.38" stop-color="#f8c5a5"/><stop offset="0.49" stop-color="#fbf3f2"/><stop offset="0.62" stop-color="#bde8f3"/><stop offset="0.8" stop-color="#5cc8e4"/><stop offset="1" stop-color="#18a8d0"/></linearGradient></defs>
<rect x="178.0" y="32.9" width="6.0" height="36.9" fill="url(#cb)"/>
<text x="185.8" y="42.5" font-size="4.5" text-anchor="start" fill="#333" stroke="#333" stroke-width="0.1">1.0</text>
<text x="185.8" y="47.8" font-size="4.5" text-anchor="start" fill="#333" stroke="#333" stroke-width="0.1">0.5</text>
<text x="185.8" y="53.0" font-size="4.5" text-anchor="start" fill="#333" stroke="#333" stroke-width="0.1">0.0</text>
<text x="185.8" y="58.3" font-size="4.5" text-anchor="start" fill="#333" stroke="#333" stroke-width="0.1">-0.5</text>
<text x="185.8" y="63.5" font-size="4.5" text-anchor="start" fill="#333" stroke="#333" stroke-width="0.1">-1.0</text>
<text x="185.8" y="68.8" font-size="4.5" text-anchor="start" fill="#333" stroke="#333" stroke-width="0.1">-1.5</text>
<text x="201.6" y="52.6" font-size="5.0" text-anchor="middle" fill="#333" transform="rotate(-90 201.6 52.6)" stroke="#333" stroke-width="0.12">Intensity</text>
<text x="196.9" y="4.9" font-size="5.6" text-anchor="start" font-weight="bold" fill="#111" stroke="#111" stroke-width="0.24">B</text>
<line x1="289.5" y1="91.5" x2="368" y2="91.5" stroke="#ebebeb" stroke-width="0.6"/>
<line x1="289.5" y1="75.8" x2="368" y2="75.8" stroke="#ebebeb" stroke-width="0.6"/>
<line x1="289.5" y1="60.1" x2="368" y2="60.1" stroke="#ebebeb" stroke-width="0.6"/>
<line x1="289.5" y1="44.4" x2="368" y2="44.4" stroke="#ebebeb" stroke-width="0.6"/>
<line x1="289.1" y1="42.8" x2="289.1" y2="107.2" stroke="#888" stroke-width="0.5"/>
<line x1="287.8" y1="107.2" x2="289.1" y2="107.2" stroke="#888" stroke-width="0.5"/>
<text x="286.9" y="108.9" font-size="4.7" text-anchor="end" fill="#333" stroke="#333" stroke-width="0.24">0</text>
<line x1="287.8" y1="91.5" x2="289.1" y2="91.5" stroke="#888" stroke-width="0.5"/>
<text x="286.9" y="93.2" font-size="4.7" text-anchor="end" fill="#333" stroke="#333" stroke-width="0.24">200</text>
<line x1="287.8" y1="75.8" x2="289.1" y2="75.8" stroke="#888" stroke-width="0.5"/>
<text x="286.9" y="77.5" font-size="4.7" text-anchor="end" fill="#333" stroke="#333" stroke-width="0.24">400</text>
<line x1="287.8" y1="60.1" x2="289.1" y2="60.1" stroke="#888" stroke-width="0.5"/>
<text x="286.9" y="61.8" font-size="4.7" text-anchor="end" fill="#333" stroke="#333" stroke-width="0.24">600</text>
<line x1="287.8" y1="44.4" x2="289.1" y2="44.4" stroke="#888" stroke-width="0.5"/>
<text x="286.9" y="46.1" font-size="4.7" text-anchor="end" fill="#333" stroke="#333" stroke-width="0.24">800</text>
<text x="274.6" y="74.4" font-size="5.1" text-anchor="middle" transform="rotate(-90 274.6 74.4)" stroke="#222" stroke-width="0.24">Intersection size</text>
<rect x="292.4" y="60.9" width="5.8" height="46.3" fill="#000"/>
<text x="295.3" y="59.3" font-size="4.7" text-anchor="middle" fill="#111" stroke="#111" stroke-width="0.24">590</text>
<rect x="303.3" y="88.6" width="5.8" height="18.6" fill="#000"/>
<text x="306.2" y="87.0" font-size="4.7" text-anchor="middle" fill="#111" stroke="#111" stroke-width="0.24">237</text>
<rect x="314.3" y="103.0" width="5.8" height="4.2" fill="#000"/>
<text x="317.2" y="101.4" font-size="4.7" text-anchor="middle" fill="#111" stroke="#111" stroke-width="0.24">54</text>
<rect x="325.2" y="46.0" width="5.8" height="61.2" fill="#000"/>
<text x="328.1" y="44.4" font-size="4.7" text-anchor="middle" fill="#111" stroke="#111" stroke-width="0.24">780</text>
<rect x="336.1" y="104.1" width="5.8" height="3.1" fill="#000"/>
<text x="339.0" y="102.5" font-size="4.7" text-anchor="middle" fill="#111" stroke="#111" stroke-width="0.24">40</text>
<rect x="347.1" y="105.8" width="5.8" height="1.4" fill="#000"/>
<text x="349.9" y="104.2" font-size="4.7" text-anchor="middle" fill="#111" stroke="#111" stroke-width="0.24">18</text>
<rect x="358.2" y="96.1" width="5.4" height="11.1" fill="#c97b9e" stroke="#8e4868" stroke-width="0.4"/>
<text x="360.9" y="94.3" font-size="4.7" text-anchor="middle" fill="#111" stroke="#111" stroke-width="0.24">144</text>
<rect x="200" y="113.0" width="168" height="9.8" fill="#f0f0f0"/>
<rect x="200" y="132.8" width="168" height="9.8" fill="#f0f0f0"/>
<circle cx="295.3" cy="117.9" r="2.05" fill="#d2d2d2"/>
<circle cx="295.3" cy="128.0" r="2.05" fill="#d2d2d2"/>
<circle cx="306.2" cy="117.9" r="2.05" fill="#d2d2d2"/>
<circle cx="306.2" cy="137.7" r="2.05" fill="#d2d2d2"/>
<circle cx="317.2" cy="128.0" r="2.05" fill="#d2d2d2"/>
<circle cx="317.2" cy="137.7" r="2.05" fill="#d2d2d2"/>
<circle cx="328.1" cy="117.9" r="2.05" fill="#d2d2d2"/>
<circle cx="349.9" cy="137.7" r="2.05" fill="#d2d2d2"/>
<line x1="328.1" y1="128.0" x2="328.1" y2="137.7" stroke="#111" stroke-width="0.9"/>
<line x1="339.0" y1="117.9" x2="339.0" y2="137.7" stroke="#111" stroke-width="0.9"/>
<line x1="349.9" y1="117.9" x2="349.9" y2="128.0" stroke="#111" stroke-width="0.9"/>
<line x1="360.9" y1="117.9" x2="360.9" y2="137.7" stroke="#d99ab5" stroke-width="0.9"/>
<circle cx="295.3" cy="137.7" r="2.05" fill="#111"/>
<circle cx="306.2" cy="128.0" r="2.05" fill="#111"/>
<circle cx="317.2" cy="117.9" r="2.05" fill="#111"/>
<circle cx="328.1" cy="128.0" r="2.05" fill="#111"/>
<circle cx="328.1" cy="137.7" r="2.05" fill="#111"/>
<circle cx="339.0" cy="117.9" r="2.05" fill="#111"/>
<circle cx="339.0" cy="137.7" r="2.05" fill="#111"/>
<circle cx="349.9" cy="117.9" r="2.05" fill="#111"/>
<circle cx="349.9" cy="128.0" r="2.05" fill="#111"/>
<circle cx="360.9" cy="117.9" r="1.85" fill="#c76b92" stroke="#924a6a" stroke-width="0.4"/>
<circle cx="360.9" cy="128.0" r="1.85" fill="#c76b92" stroke="#924a6a" stroke-width="0.4"/>
<circle cx="360.9" cy="137.7" r="1.85" fill="#c76b92" stroke="#924a6a" stroke-width="0.4"/>
<rect x="217.1" y="115.7" width="3.2" height="4.5" fill="#000"/>
<text x="216.7" y="119.6" font-size="4.7" text-anchor="end" fill="#111" stroke="#111" stroke-width="0.24">256</text>
<text x="288.3" y="119.6" font-size="4.9" text-anchor="end" fill="#111" stroke="#111" stroke-width="0.24">Reticulocytes VS Erythrocytes</text>
<rect x="205.6" y="125.8" width="14.7" height="4.5" fill="#000"/>
<text x="205.2" y="129.7" font-size="4.7" text-anchor="end" fill="#111" stroke="#111" stroke-width="0.24">1179</text>
<text x="288.3" y="129.7" font-size="4.9" text-anchor="end" fill="#111" stroke="#111" stroke-width="0.24">JK-1 VS Erythrocytes</text>
<rect x="200.9" y="135.4" width="19.4" height="4.5" fill="#000"/>
<text x="200.5" y="139.4" font-size="4.7" text-anchor="end" fill="#111" stroke="#111" stroke-width="0.24">1554</text>
<text x="288.3" y="139.4" font-size="4.9" text-anchor="end" fill="#111" stroke="#111" stroke-width="0.24">BEL-A VS Erythrocytes</text>
<line x1="200.3" y1="142.2" x2="220.3" y2="142.2" stroke="#888" stroke-width="0.5"/>
<line x1="207.8" y1="142.2" x2="207.8" y2="143.5" stroke="#888" stroke-width="0.5"/>
<text x="207.8" y="149.4" font-size="4.7" text-anchor="middle" fill="#333" stroke="#333" stroke-width="0.24">1000</text>
<line x1="220.3" y1="142.2" x2="220.3" y2="143.5" stroke="#888" stroke-width="0.5"/>
<text x="220.3" y="149.4" font-size="4.7" text-anchor="middle" fill="#333" stroke="#333" stroke-width="0.24">0</text>
<line x1="22.0" y1="258.9" x2="121.0" y2="258.9" stroke="#d0d0d0" stroke-width="0.5"/>
<line x1="66.2" y1="211.5" x2="66.2" y2="272.5" stroke="#e2e2e2" stroke-width="0.5"/>
<line x1="76.5" y1="211.5" x2="76.5" y2="272.5" stroke="#e2e2e2" stroke-width="0.5"/>
<line x1="22.0" y1="210.5" x2="22.0" y2="272.8" stroke="#d4d4d4" stroke-width="0.5"/>
<line x1="21.0" y1="271.0" x2="22.0" y2="271.0" stroke="#aaa" stroke-width="0.4"/>
<text x="20.0" y="272.9" font-size="3.6" text-anchor="end" fill="#4a4a4a" stroke="#4a4a4a" stroke-width="0.12">1e-0</text>
<line x1="21.0" y1="263.2" x2="22.0" y2="263.2" stroke="#aaa" stroke-width="0.4"/>
<text x="20.0" y="265.1" font-size="3.6" text-anchor="end" fill="#4a4a4a" stroke="#4a4a4a" stroke-width="0.12">1e-1</text>
<line x1="21.0" y1="255.4" x2="22.0" y2="255.4" stroke="#aaa" stroke-width="0.4"/>
<text x="20.0" y="257.3" font-size="3.6" text-anchor="end" fill="#4a4a4a" stroke="#4a4a4a" stroke-width="0.12">1e-2</text>
<line x1="21.0" y1="247.5" x2="22.0" y2="247.5" stroke="#aaa" stroke-width="0.4"/>
<text x="20.0" y="249.4" font-size="3.6" text-anchor="end" fill="#4a4a4a" stroke="#4a4a4a" stroke-width="0.12">1e-3</text>
<line x1="21.0" y1="239.7" x2="22.0" y2="239.7" stroke="#aaa" stroke-width="0.4"/>
<text x="20.0" y="241.6" font-size="3.6" text-anchor="end" fill="#4a4a4a" stroke="#4a4a4a" stroke-width="0.12">1e-4</text>
<line x1="21.0" y1="231.9" x2="22.0" y2="231.9" stroke="#aaa" stroke-width="0.4"/>
<text x="20.0" y="233.8" font-size="3.6" text-anchor="end" fill="#4a4a4a" stroke="#4a4a4a" stroke-width="0.12">1e-5</text>
<line x1="21.0" y1="224.1" x2="22.0" y2="224.1" stroke="#aaa" stroke-width="0.4"/>
<text x="20.0" y="226.0" font-size="3.6" text-anchor="end" fill="#4a4a4a" stroke="#4a4a4a" stroke-width="0.12">1e-6</text>
<line x1="21.0" y1="216.3" x2="22.0" y2="216.3" stroke="#aaa" stroke-width="0.4"/>
<text x="20.0" y="218.2" font-size="3.6" text-anchor="end" fill="#4a4a4a" stroke="#4a4a4a" stroke-width="0.12">1e-7</text>
<line x1="23.5" y1="272.8" x2="23.5" y2="273.6" stroke="#aaa" stroke-width="0.4"/>
<text x="23.2" y="277.0" font-size="3.6" text-anchor="middle" fill="#4a4a4a" stroke="#4a4a4a" stroke-width="0.12">&#8722;10</text>
<line x1="33.1" y1="272.8" x2="33.1" y2="273.6" stroke="#aaa" stroke-width="0.4"/>
<text x="32.8" y="277.0" font-size="3.6" text-anchor="middle" fill="#4a4a4a" stroke="#4a4a4a" stroke-width="0.12">&#8722;8</text>
<line x1="42.7" y1="272.8" x2="42.7" y2="273.6" stroke="#aaa" stroke-width="0.4"/>
<text x="42.4" y="277.0" font-size="3.6" text-anchor="middle" fill="#4a4a4a" stroke="#4a4a4a" stroke-width="0.12">&#8722;6</text>
<line x1="52.2" y1="272.8" x2="52.2" y2="273.6" stroke="#aaa" stroke-width="0.4"/>
<text x="51.9" y="277.0" font-size="3.6" text-anchor="middle" fill="#4a4a4a" stroke="#4a4a4a" stroke-width="0.12">&#8722;4</text>
<line x1="61.8" y1="272.8" x2="61.8" y2="273.6" stroke="#aaa" stroke-width="0.4"/>
<text x="61.5" y="277.0" font-size="3.6" text-anchor="middle" fill="#4a4a4a" stroke="#4a4a4a" stroke-width="0.12">&#8722;2</text>
<line x1="71.4" y1="272.8" x2="71.4" y2="273.6" stroke="#aaa" stroke-width="0.4"/>
<text x="71.4" y="277.0" font-size="3.6" text-anchor="middle" fill="#4a4a4a" stroke="#4a4a4a" stroke-width="0.12">0</text>
<line x1="81.0" y1="272.8" x2="81.0" y2="273.6" stroke="#aaa" stroke-width="0.4"/>
<text x="81.0" y="277.0" font-size="3.6" text-anchor="middle" fill="#4a4a4a" stroke="#4a4a4a" stroke-width="0.12">2</text>
<line x1="90.6" y1="272.8" x2="90.6" y2="273.6" stroke="#aaa" stroke-width="0.4"/>
<text x="90.6" y="277.0" font-size="3.6" text-anchor="middle" fill="#4a4a4a" stroke="#4a4a4a" stroke-width="0.12">4</text>
<line x1="100.1" y1="272.8" x2="100.1" y2="273.6" stroke="#aaa" stroke-width="0.4"/>
<text x="100.1" y="277.0" font-size="3.6" text-anchor="middle" fill="#4a4a4a" stroke="#4a4a4a" stroke-width="0.12">6</text>
<line x1="109.7" y1="272.8" x2="109.7" y2="273.6" stroke="#aaa" stroke-width="0.4"/>
<text x="109.7" y="277.0" font-size="3.6" text-anchor="middle" fill="#4a4a4a" stroke="#4a4a4a" stroke-width="0.12">8</text>
<line x1="119.3" y1="272.8" x2="119.3" y2="273.6" stroke="#aaa" stroke-width="0.4"/>
<text x="119.3" y="277.0" font-size="3.6" text-anchor="middle" fill="#4a4a4a" stroke="#4a4a4a" stroke-width="0.12">10</text>
<path d="M71.6 272.0L71.5 266.0L73.0 251.0L79.2 243.4L85.4 237.2L93.6 238.7L99.0 241.0L103.0 247.0L105.4 258.8L97.7 264.9L85.4 271.5L78.0 272.0Z" fill="#e7e7e7"/>
<path d="M48.0 257.0L55.0 252.0L62.0 247.0L66.0 250.0L69.0 258.0L71.6 265.0L71.8 272.0L64.0 272.0L55.0 266.0L48.0 262.0Z" fill="#e7e7e7"/>
<path d="M44.0 240.2h0M55.0 264.6h0M89.1 259.4h0M97.1 243.2h0M44.6 245.3h0M81.6 245.6h0M45.9 244.6h0M44.3 238.7h0M40.3 231.7h0M118.9 261.9h0M55.1 243.5h0M79.1 266.1h0M92.0 236.7h0M103.7 254.0h0M42.8 253.4h0M57.9 265.6h0M74.4 253.4h0M52.4 235.8h0M58.9 239.5h0M38.8 239.5h0M61.2 261.6h0M105.3 239.7h0M46.8 230.2h0M60.2 242.0h0M60.9 266.3h0M63.6 250.1h0M100.6 239.1h0M43.1 242.3h0M55.7 266.4h0M97.2 254.1h0M84.1 255.6h0M115.3 250.6h0M83.2 263.0h0M48.2 242.9h0M110.9 242.2h0M50.9 241.4h0M62.3 265.2h0M85.8 259.8h0M40.9 248.9h0M42.8 242.6h0M48.0 235.0h0M55.6 255.0h0M95.9 250.0h0M44.8 240.0h0M59.1 244.7h0M80.9 252.2h0M45.0 249.6h0M99.8 256.5h0M99.1 240.9h0M64.4 270.8h0M63.8 259.3h0M54.9 255.9h0M85.2 251.0h0M76.7 263.7h0M56.6 247.5h0M67.1 269.3h0M49.8 245.0h0M76.0 255.7h0M50.1 244.2h0M98.0 242.2h0M40.2 239.9h0M49.0 239.6h0M47.0 243.3h0M89.6 243.7h0M57.5 238.2h0M48.5 249.3h0M73.3 260.0h0M81.2 253.3h0M114.1 245.0h0M96.6 262.7h0M98.5 249.6h0M102.9 239.3h0M41.1 245.8h0M100.6 258.1h0M87.1 244.0h0M101.1 252.9h0M104.6 258.1h0M53.9 252.2h0M103.8 256.8h0M95.0 241.9h0M54.4 243.9h0M55.9 257.1h0M100.5 247.1h0M96.8 247.2h0M94.5 240.6h0M43.1 242.1h0M63.1 253.4h0M54.5 263.6h0M59.9 244.4h0M40.0 245.3h0M106.1 248.0h0M60.2 250.7h0" stroke="#bcbcbc" stroke-width="1.6" stroke-linecap="round" fill="none" opacity="0.27"/>
<path d="M44.0 240.2h0M55.0 264.6h0M89.1 259.4h0M97.1 243.2h0M44.6 245.3h0M81.6 245.6h0M45.9 244.6h0M44.3 238.7h0M40.3 231.7h0M118.9 261.9h0M55.1 243.5h0M79.1 266.1h0M92.0 236.7h0M103.7 254.0h0M42.8 253.4h0M57.9 265.6h0M74.4 253.4h0M52.4 235.8h0M58.9 239.5h0M38.8 239.5h0M61.2 261.6h0M105.3 239.7h0M46.8 230.2h0M60.2 242.0h0M60.9 266.3h0M63.6 250.1h0M100.6 239.1h0M43.1 242.3h0M55.7 266.4h0M97.2 254.1h0M84.1 255.6h0M115.3 250.6h0M83.2 263.0h0M48.2 242.9h0M110.9 242.2h0M50.9 241.4h0M62.3 265.2h0M85.8 259.8h0M40.9 248.9h0M42.8 242.6h0M48.0 235.0h0M55.6 255.0h0M95.9 250.0h0M44.8 240.0h0M59.1 244.7h0M80.9 252.2h0M45.0 249.6h0M99.8 256.5h0M99.1 240.9h0M64.4 270.8h0M63.8 259.3h0M54.9 255.9h0M85.2 251.0h0M76.7 263.7h0M56.6 247.5h0M67.1 269.3h0M49.8 245.0h0M76.0 255.7h0M50.1 244.2h0M98.0 242.2h0M40.2 239.9h0M49.0 239.6h0M47.0 243.3h0M89.6 243.7h0M57.5 238.2h0M48.5 249.3h0M73.3 260.0h0M81.2 253.3h0M114.1 245.0h0M96.6 262.7h0M98.5 249.6h0M102.9 239.3h0M41.1 245.8h0M100.6 258.1h0M87.1 244.0h0M101.1 252.9h0M104.6 258.1h0M53.9 252.2h0M103.8 256.8h0M95.0 241.9h0M54.4 243.9h0M55.9 257.1h0M100.5 247.1h0M96.8 247.2h0M94.5 240.6h0M43.1 242.1h0M63.1 253.4h0M54.5 263.6h0M59.9 244.4h0M40.0 245.3h0M106.1 248.0h0M60.2 250.7h0" stroke="#f2f2f2" stroke-width="0.8" stroke-linecap="round" fill="none" opacity="0.5"/>
<path d="M86.1 240.1h0M95.8 235.1h0M90.8 241.0h0M77.6 268.5h0M101.9 245.8h0M119.2 260.3h0M105.2 258.4h0M92.0 264.6h0M56.5 255.5h0M59.1 252.7h0M51.4 253.2h0M109.6 251.1h0M52.1 256.0h0M62.2 260.9h0M73.9 251.1h0M65.1 264.0h0M91.7 245.0h0M108.5 237.0h0M105.1 243.7h0M81.8 253.4h0M89.7 243.0h0M40.4 247.0h0M53.5 238.1h0M99.0 247.0h0M68.5 259.1h0M63.8 253.7h0M52.7 261.6h0M59.0 256.6h0M62.1 250.7h0M46.7 240.9h0M85.4 239.9h0M56.6 247.4h0M94.7 235.2h0M78.3 268.3h0M95.9 235.1h0M96.2 239.9h0M59.4 256.6h0M51.6 237.5h0M40.4 239.4h0M35.9 234.4h0M47.9 240.3h0M66.3 255.9h0M53.0 261.6h0M79.3 270.9h0M96.6 249.2h0M97.0 247.2h0M56.9 254.4h0M43.4 243.2h0M99.1 244.4h0M68.4 269.5h0M78.8 249.4h0M75.4 250.8h0M93.0 233.5h0M103.5 253.7h0M47.4 250.3h0M39.4 242.0h0M119.6 247.6h0M62.8 245.9h0M99.4 234.3h0M66.0 260.6h0M60.6 243.6h0M102.2 247.7h0M85.2 243.1h0M97.9 253.9h0M97.1 239.4h0M61.0 250.0h0M103.1 239.7h0M110.0 247.3h0M97.6 253.4h0M54.3 256.6h0M95.6 250.7h0M39.7 243.1h0M89.8 253.4h0M51.9 251.5h0M63.4 262.8h0M59.8 255.8h0M99.1 259.1h0M88.7 237.0h0M92.6 249.3h0M103.0 252.8h0M76.7 259.6h0M120.3 260.0h0M45.5 247.6h0M67.6 260.9h0M38.1 239.2h0M112.5 255.5h0M60.6 261.2h0M97.7 251.4h0M59.4 262.0h0M45.7 237.4h0M41.5 238.4h0" stroke="#bcbcbc" stroke-width="1.6" stroke-linecap="round" fill="none" opacity="0.27"/>
<path d="M86.1 240.1h0M95.8 235.1h0M90.8 241.0h0M77.6 268.5h0M101.9 245.8h0M119.2 260.3h0M105.2 258.4h0M92.0 264.6h0M56.5 255.5h0M59.1 252.7h0M51.4 253.2h0M109.6 251.1h0M52.1 256.0h0M62.2 260.9h0M73.9 251.1h0M65.1 264.0h0M91.7 245.0h0M108.5 237.0h0M105.1 243.7h0M81.8 253.4h0M89.7 243.0h0M40.4 247.0h0M53.5 238.1h0M99.0 247.0h0M68.5 259.1h0M63.8 253.7h0M52.7 261.6h0M59.0 256.6h0M62.1 250.7h0M46.7 240.9h0M85.4 239.9h0M56.6 247.4h0M94.7 235.2h0M78.3 268.3h0M95.9 235.1h0M96.2 239.9h0M59.4 256.6h0M51.6 237.5h0M40.4 239.4h0M35.9 234.4h0M47.9 240.3h0M66.3 255.9h0M53.0 261.6h0M79.3 270.9h0M96.6 249.2h0M97.0 247.2h0M56.9 254.4h0M43.4 243.2h0M99.1 244.4h0M68.4 269.5h0M78.8 249.4h0M75.4 250.8h0M93.0 233.5h0M103.5 253.7h0M47.4 250.3h0M39.4 242.0h0M119.6 247.6h0M62.8 245.9h0M99.4 234.3h0M66.0 260.6h0M60.6 243.6h0M102.2 247.7h0M85.2 243.1h0M97.9 253.9h0M97.1 239.4h0M61.0 250.0h0M103.1 239.7h0M110.0 247.3h0M97.6 253.4h0M54.3 256.6h0M95.6 250.7h0M39.7 243.1h0M89.8 253.4h0M51.9 251.5h0M63.4 262.8h0M59.8 255.8h0M99.1 259.1h0M88.7 237.0h0M92.6 249.3h0M103.0 252.8h0M76.7 259.6h0M120.3 260.0h0M45.5 247.6h0M67.6 260.9h0M38.1 239.2h0M112.5 255.5h0M60.6 261.2h0M97.7 251.4h0M59.4 262.0h0M45.7 237.4h0M41.5 238.4h0" stroke="#f2f2f2" stroke-width="0.8" stroke-linecap="round" fill="none" opacity="0.5"/>
<path d="M57.3 252.6h0M39.5 238.8h0M81.8 258.3h0M103.1 247.7h0M47.7 245.2h0M109.3 259.8h0M97.2 251.2h0M39.2 239.9h0M61.8 263.9h0M30.5 240.1h0M91.1 234.9h0M42.7 235.9h0M55.0 263.9h0M117.9 256.1h0M46.0 231.7h0M86.2 249.0h0M72.9 263.1h0M82.1 253.3h0M49.6 256.7h0M82.8 250.1h0M53.6 264.9h0M117.3 260.8h0M40.7 252.5h0M109.9 261.8h0M39.9 243.4h0M114.5 249.7h0M106.8 259.9h0M98.3 245.1h0M43.2 245.6h0M58.9 254.4h0M57.5 251.8h0M115.7 255.1h0M63.2 248.7h0M77.0 254.5h0M45.6 230.2h0M55.5 257.6h0M50.8 239.3h0M96.0 247.4h0M93.4 252.7h0M110.8 259.3h0M65.5 271.0h0M34.9 236.3h0M97.3 246.7h0M81.4 266.8h0M101.5 250.2h0M68.4 257.0h0M55.5 252.8h0M74.2 259.8h0M98.4 258.9h0M95.4 234.8h0M108.0 251.9h0M55.9 265.0h0M53.8 254.2h0M36.3 237.2h0M72.3 270.8h0M60.0 253.2h0M41.6 242.4h0M89.3 256.1h0M104.4 254.0h0M86.7 251.4h0M48.3 244.7h0M48.3 249.1h0M60.4 249.7h0M99.8 257.9h0M45.3 246.2h0M115.0 259.9h0M66.4 265.9h0M50.2 256.9h0M40.6 238.2h0M59.1 267.9h0M64.7 248.7h0M73.9 256.4h0M45.4 229.8h0M60.8 249.8h0M46.4 244.3h0M50.9 237.6h0M96.5 246.7h0M98.2 253.4h0M83.2 258.2h0M61.9 253.7h0M36.5 233.2h0M87.6 242.9h0M60.6 254.4h0M58.4 259.1h0M60.5 258.5h0M63.4 258.4h0M83.2 240.5h0M33.4 232.9h0M96.2 246.8h0M46.1 243.5h0M64.3 254.5h0" stroke="#bcbcbc" stroke-width="1.6" stroke-linecap="round" fill="none" opacity="0.27"/>
<path d="M57.3 252.6h0M39.5 238.8h0M81.8 258.3h0M103.1 247.7h0M47.7 245.2h0M109.3 259.8h0M97.2 251.2h0M39.2 239.9h0M61.8 263.9h0M30.5 240.1h0M91.1 234.9h0M42.7 235.9h0M55.0 263.9h0M117.9 256.1h0M46.0 231.7h0M86.2 249.0h0M72.9 263.1h0M82.1 253.3h0M49.6 256.7h0M82.8 250.1h0M53.6 264.9h0M117.3 260.8h0M40.7 252.5h0M109.9 261.8h0M39.9 243.4h0M114.5 249.7h0M106.8 259.9h0M98.3 245.1h0M43.2 245.6h0M58.9 254.4h0M57.5 251.8h0M115.7 255.1h0M63.2 248.7h0M77.0 254.5h0M45.6 230.2h0M55.5 257.6h0M50.8 239.3h0M96.0 247.4h0M93.4 252.7h0M110.8 259.3h0M65.5 271.0h0M34.9 236.3h0M97.3 246.7h0M81.4 266.8h0M101.5 250.2h0M68.4 257.0h0M55.5 252.8h0M74.2 259.8h0M98.4 258.9h0M95.4 234.8h0M108.0 251.9h0M55.9 265.0h0M53.8 254.2h0M36.3 237.2h0M72.3 270.8h0M60.0 253.2h0M41.6 242.4h0M89.3 256.1h0M104.4 254.0h0M86.7 251.4h0M48.3 244.7h0M48.3 249.1h0M60.4 249.7h0M99.8 257.9h0M45.3 246.2h0M115.0 259.9h0M66.4 265.9h0M50.2 256.9h0M40.6 238.2h0M59.1 267.9h0M64.7 248.7h0M73.9 256.4h0M45.4 229.8h0M60.8 249.8h0M46.4 244.3h0M50.9 237.6h0M96.5 246.7h0M98.2 253.4h0M83.2 258.2h0M61.9 253.7h0M36.5 233.2h0M87.6 242.9h0M60.6 254.4h0M58.4 259.1h0M60.5 258.5h0M63.4 258.4h0M83.2 240.5h0M33.4 232.9h0M96.2 246.8h0M46.1 243.5h0M64.3 254.5h0" stroke="#f2f2f2" stroke-width="0.8" stroke-linecap="round" fill="none" opacity="0.5"/>
<path d="M52.6 260.2h0M95.2 255.9h0M59.5 247.2h0M58.0 238.3h0M48.0 244.8h0M67.4 265.7h0M82.8 260.9h0M59.5 265.0h0M45.7 234.4h0M63.6 267.2h0M106.5 235.5h0M41.5 248.2h0M79.5 266.6h0M82.5 267.5h0M40.3 247.0h0M91.9 239.2h0M104.9 244.7h0M113.8 261.7h0M97.0 231.7h0M86.6 241.1h0M117.7 245.5h0M53.0 251.3h0M61.5 251.5h0M85.7 264.4h0M116.2 256.9h0M52.6 239.2h0M85.6 245.2h0M56.9 247.4h0M37.3 242.8h0M47.8 232.8h0M45.8 230.1h0M72.4 270.8h0M88.0 242.6h0M102.8 249.8h0M63.3 251.3h0M54.5 242.3h0M60.5 241.3h0M100.0 242.5h0M84.1 242.8h0M49.8 246.4h0M40.8 242.0h0M83.2 254.1h0M95.9 258.3h0M80.6 243.1h0M51.5 250.1h0M108.5 258.8h0M46.8 231.9h0M119.7 257.0h0M49.9 255.4h0M58.5 265.0h0M52.8 240.2h0M61.3 245.6h0M60.6 250.1h0M58.5 248.4h0M45.0 229.6h0M83.7 266.9h0M44.4 237.5h0M47.8 250.2h0M96.4 251.9h0M93.1 232.6h0M53.0 254.0h0M45.1 255.0h0M47.8 245.2h0M81.4 269.7h0M79.0 256.8h0M45.3 231.8h0M66.5 265.2h0M65.6 256.0h0M93.5 258.3h0M100.7 252.4h0M46.8 242.9h0M101.5 247.6h0M54.6 243.0h0M113.4 248.6h0M77.2 254.3h0M46.1 239.7h0M47.0 235.3h0M64.1 271.0h0M49.8 251.3h0M87.3 263.6h0M72.8 254.6h0M47.7 242.3h0M58.0 244.4h0M98.8 237.7h0M92.4 259.5h0M80.0 246.5h0M89.7 251.8h0M54.1 236.9h0M70.9 263.8h0M108.8 258.1h0M35.9 238.8h0" stroke="#bcbcbc" stroke-width="1.6" stroke-linecap="round" fill="none" opacity="0.27"/>
<path d="M52.6 260.2h0M95.2 255.9h0M59.5 247.2h0M58.0 238.3h0M48.0 244.8h0M67.4 265.7h0M82.8 260.9h0M59.5 265.0h0M45.7 234.4h0M63.6 267.2h0M106.5 235.5h0M41.5 248.2h0M79.5 266.6h0M82.5 267.5h0M40.3 247.0h0M91.9 239.2h0M104.9 244.7h0M113.8 261.7h0M97.0 231.7h0M86.6 241.1h0M117.7 245.5h0M53.0 251.3h0M61.5 251.5h0M85.7 264.4h0M116.2 256.9h0M52.6 239.2h0M85.6 245.2h0M56.9 247.4h0M37.3 242.8h0M47.8 232.8h0M45.8 230.1h0M72.4 270.8h0M88.0 242.6h0M102.8 249.8h0M63.3 251.3h0M54.5 242.3h0M60.5 241.3h0M100.0 242.5h0M84.1 242.8h0M49.8 246.4h0M40.8 242.0h0M83.2 254.1h0M95.9 258.3h0M80.6 243.1h0M51.5 250.1h0M108.5 258.8h0M46.8 231.9h0M119.7 257.0h0M49.9 255.4h0M58.5 265.0h0M52.8 240.2h0M61.3 245.6h0M60.6 250.1h0M58.5 248.4h0M45.0 229.6h0M83.7 266.9h0M44.4 237.5h0M47.8 250.2h0M96.4 251.9h0M93.1 232.6h0M53.0 254.0h0M45.1 255.0h0M47.8 245.2h0M81.4 269.7h0M79.0 256.8h0M45.3 231.8h0M66.5 265.2h0M65.6 256.0h0M93.5 258.3h0M100.7 252.4h0M46.8 242.9h0M101.5 247.6h0M54.6 243.0h0M113.4 248.6h0M77.2 254.3h0M46.1 239.7h0M47.0 235.3h0M64.1 271.0h0M49.8 251.3h0M87.3 263.6h0M72.8 254.6h0M47.7 242.3h0M58.0 244.4h0M98.8 237.7h0M92.4 259.5h0M80.0 246.5h0M89.7 251.8h0M54.1 236.9h0M70.9 263.8h0M108.8 258.1h0M35.9 238.8h0" stroke="#f2f2f2" stroke-width="0.8" stroke-linecap="round" fill="none" opacity="0.5"/>
<line x1="114.5" y1="212.9" x2="111.2" y2="216.3" stroke="#444" stroke-width="0.4"/>
<line x1="97.3" y1="230.5" x2="103.0" y2="237.3" stroke="#444" stroke-width="0.4"/>
<line x1="110.6" y1="229.9" x2="107.0" y2="240.5" stroke="#444" stroke-width="0.4"/>
<line x1="114.0" y1="236.1" x2="110.3" y2="237.8" stroke="#444" stroke-width="0.4"/>
<line x1="112.0" y1="241.7" x2="108.0" y2="241.5" stroke="#444" stroke-width="0.4"/>
<line x1="113.3" y1="245.5" x2="107.6" y2="242.4" stroke="#444" stroke-width="0.4"/>
<line x1="98.6" y1="245.4" x2="100.4" y2="249.8" stroke="#444" stroke-width="0.4"/>
<line x1="86.9" y1="236.3" x2="90.2" y2="239.5" stroke="#444" stroke-width="0.4"/>
<line x1="97.8" y1="256.2" x2="96.5" y2="256.5" stroke="#444" stroke-width="0.4"/>
<line x1="51.3" y1="242.3" x2="49.5" y2="246.8" stroke="#444" stroke-width="0.4"/>
<line x1="62.1" y1="251.7" x2="64.9" y2="256.4" stroke="#444" stroke-width="0.4"/>
<line x1="34.6" y1="253.3" x2="39.0" y2="256.5" stroke="#444" stroke-width="0.4"/>
<line x1="50.1" y1="253.1" x2="51.7" y2="249.0" stroke="#444" stroke-width="0.4"/>
<circle cx="111.2" cy="216.3" r="0.95" fill="#c0601e"/>
<circle cx="103.0" cy="237.3" r="1.25" fill="#2e6fc6"/>
<circle cx="107.0" cy="240.5" r="1.25" fill="#e8731f"/>
<circle cx="110.3" cy="237.8" r="1.25" fill="#2e6fc6"/>
<circle cx="108.0" cy="241.5" r="1.25" fill="#e8731f"/>
<circle cx="107.6" cy="242.4" r="1.25" fill="#e8731f"/>
<circle cx="100.4" cy="249.8" r="1.25" fill="#2e6fc6"/>
<circle cx="90.2" cy="239.5" r="1.25" fill="#222"/>
<circle cx="96.5" cy="256.5" r="1.25" fill="#2e6fc6"/>
<circle cx="49.5" cy="246.8" r="1.25" fill="#e8731f"/>
<circle cx="64.9" cy="256.4" r="1.25" fill="#e8731f"/>
<circle cx="39.0" cy="256.5" r="1.25" fill="#e8731f"/>
<circle cx="51.7" cy="249.0" r="1.25" fill="#e8731f"/>
<text x="116.3" y="212.6" font-size="4.35" text-anchor="middle" fill="#2a2a2a" stroke="#2a2a2a" stroke-width="0.14">TFRC</text>
<text x="95.7" y="230.2" font-size="4.35" text-anchor="middle" fill="#2a2a2a" stroke="#2a2a2a" stroke-width="0.14">CD36</text>
<text x="111.3" y="229.6" font-size="4.35" text-anchor="middle" fill="#2a2a2a" stroke="#2a2a2a" stroke-width="0.14">SLC1A5</text>
<text x="118.2" y="235.8" font-size="4.35" text-anchor="middle" fill="#2a2a2a" stroke="#2a2a2a" stroke-width="0.14">PHB2</text>
<text x="120.5" y="243.6" font-size="4.35" text-anchor="middle" fill="#2a2a2a" stroke="#2a2a2a" stroke-width="0.14">SLC7A5</text>
<text x="116.8" y="249.0" font-size="4.35" text-anchor="middle" fill="#2a2a2a" stroke="#2a2a2a" stroke-width="0.14">SLC3A2</text>
<text x="97.8" y="245.1" font-size="4.35" text-anchor="middle" fill="#2a2a2a" stroke="#2a2a2a" stroke-width="0.14">CNNM3</text>
<text x="85.0" y="236.0" font-size="4.35" text-anchor="middle" fill="#2a2a2a" stroke="#2a2a2a" stroke-width="0.14">SLC7A1</text>
<text x="104.5" y="256.1" font-size="4.35" text-anchor="middle" fill="#2a2a2a" stroke="#2a2a2a" stroke-width="0.14">ITGB1</text>
<text x="52.0" y="242.0" font-size="4.35" text-anchor="middle" fill="#2a2a2a" stroke="#2a2a2a" stroke-width="0.14">CR1</text>
<text x="61.0" y="251.4" font-size="4.35" text-anchor="middle" fill="#2a2a2a" stroke="#2a2a2a" stroke-width="0.14">BSG</text>
<text x="32.0" y="253.0" font-size="4.35" text-anchor="middle" fill="#2a2a2a" stroke="#2a2a2a" stroke-width="0.14">ACKR1</text>
<text x="49.4" y="256.6" font-size="4.35" text-anchor="middle" fill="#2a2a2a" stroke="#2a2a2a" stroke-width="0.14">SLC4A1</text>
<text x="71.5" y="197.6" font-size="6.0" text-anchor="middle" fill="#111" stroke="#111" stroke-width="0.15">Reticulocytes/Erythrocytes</text>
<text x="12.1" y="192.1" font-size="5.6" text-anchor="start" font-weight="bold" fill="#111" stroke="#111" stroke-width="0.24">C</text>
<line x1="144.8" y1="261.4" x2="243.5" y2="261.4" stroke="#d0d0d0" stroke-width="0.5"/>
<line x1="191.3" y1="211.2" x2="191.3" y2="272.1" stroke="#e2e2e2" stroke-width="0.5"/>
<line x1="197.2" y1="211.2" x2="197.2" y2="272.1" stroke="#e2e2e2" stroke-width="0.5"/>
<line x1="144.8" y1="210.2" x2="144.8" y2="272.4" stroke="#d4d4d4" stroke-width="0.5"/>
<line x1="143.8" y1="270.6" x2="144.8" y2="270.6" stroke="#aaa" stroke-width="0.4"/>
<text x="142.8" y="272.5" font-size="3.6" text-anchor="end" fill="#4a4a4a" stroke="#4a4a4a" stroke-width="0.12">1e-0</text>
<line x1="143.8" y1="263.8" x2="144.8" y2="263.8" stroke="#aaa" stroke-width="0.4"/>
<text x="142.8" y="265.7" font-size="3.6" text-anchor="end" fill="#4a4a4a" stroke="#4a4a4a" stroke-width="0.12">1e-1</text>
<line x1="143.8" y1="257.0" x2="144.8" y2="257.0" stroke="#aaa" stroke-width="0.4"/>
<text x="142.8" y="258.9" font-size="3.6" text-anchor="end" fill="#4a4a4a" stroke="#4a4a4a" stroke-width="0.12">1e-2</text>
<line x1="143.8" y1="250.2" x2="144.8" y2="250.2" stroke="#aaa" stroke-width="0.4"/>
<text x="142.8" y="252.1" font-size="3.6" text-anchor="end" fill="#4a4a4a" stroke="#4a4a4a" stroke-width="0.12">1e-3</text>
<line x1="143.8" y1="243.4" x2="144.8" y2="243.4" stroke="#aaa" stroke-width="0.4"/>
<text x="142.8" y="245.3" font-size="3.6" text-anchor="end" fill="#4a4a4a" stroke="#4a4a4a" stroke-width="0.12">1e-4</text>
<line x1="143.8" y1="236.6" x2="144.8" y2="236.6" stroke="#aaa" stroke-width="0.4"/>
<text x="142.8" y="238.5" font-size="3.6" text-anchor="end" fill="#4a4a4a" stroke="#4a4a4a" stroke-width="0.12">1e-5</text>
<line x1="143.8" y1="229.8" x2="144.8" y2="229.8" stroke="#aaa" stroke-width="0.4"/>
<text x="142.8" y="231.7" font-size="3.6" text-anchor="end" fill="#4a4a4a" stroke="#4a4a4a" stroke-width="0.12">1e-6</text>
<line x1="143.8" y1="223.0" x2="144.8" y2="223.0" stroke="#aaa" stroke-width="0.4"/>
<text x="142.8" y="224.9" font-size="3.6" text-anchor="end" fill="#4a4a4a" stroke="#4a4a4a" stroke-width="0.12">1e-7</text>
<line x1="143.8" y1="216.2" x2="144.8" y2="216.2" stroke="#aaa" stroke-width="0.4"/>
<text x="142.8" y="218.1" font-size="3.6" text-anchor="end" fill="#4a4a4a" stroke="#4a4a4a" stroke-width="0.12">1e-8</text>
<line x1="150.8" y1="272.4" x2="150.8" y2="273.2" stroke="#aaa" stroke-width="0.4"/>
<text x="150.4" y="276.6" font-size="3.6" text-anchor="middle" fill="#4a4a4a" stroke="#4a4a4a" stroke-width="0.12">&#8722;14</text>
<line x1="157.0" y1="272.4" x2="157.0" y2="273.2" stroke="#aaa" stroke-width="0.4"/>
<text x="156.7" y="276.6" font-size="3.6" text-anchor="middle" fill="#4a4a4a" stroke="#4a4a4a" stroke-width="0.12">&#8722;12</text>
<line x1="163.2" y1="272.4" x2="163.2" y2="273.2" stroke="#aaa" stroke-width="0.4"/>
<text x="162.9" y="276.6" font-size="3.6" text-anchor="middle" fill="#4a4a4a" stroke="#4a4a4a" stroke-width="0.12">&#8722;10</text>
<line x1="169.5" y1="272.4" x2="169.5" y2="273.2" stroke="#aaa" stroke-width="0.4"/>
<text x="169.2" y="276.6" font-size="3.6" text-anchor="middle" fill="#4a4a4a" stroke="#4a4a4a" stroke-width="0.12">&#8722;8</text>
<line x1="175.8" y1="272.4" x2="175.8" y2="273.2" stroke="#aaa" stroke-width="0.4"/>
<text x="175.4" y="276.6" font-size="3.6" text-anchor="middle" fill="#4a4a4a" stroke="#4a4a4a" stroke-width="0.12">&#8722;6</text>
<line x1="182.0" y1="272.4" x2="182.0" y2="273.2" stroke="#aaa" stroke-width="0.4"/>
<text x="181.7" y="276.6" font-size="3.6" text-anchor="middle" fill="#4a4a4a" stroke="#4a4a4a" stroke-width="0.12">&#8722;4</text>
<line x1="188.2" y1="272.4" x2="188.2" y2="273.2" stroke="#aaa" stroke-width="0.4"/>
<text x="187.9" y="276.6" font-size="3.6" text-anchor="middle" fill="#4a4a4a" stroke="#4a4a4a" stroke-width="0.12">&#8722;2</text>
<line x1="194.5" y1="272.4" x2="194.5" y2="273.2" stroke="#aaa" stroke-width="0.4"/>
<text x="194.5" y="276.6" font-size="3.6" text-anchor="middle" fill="#4a4a4a" stroke="#4a4a4a" stroke-width="0.12">0</text>
<line x1="200.8" y1="272.4" x2="200.8" y2="273.2" stroke="#aaa" stroke-width="0.4"/>
<text x="200.8" y="276.6" font-size="3.6" text-anchor="middle" fill="#4a4a4a" stroke="#4a4a4a" stroke-width="0.12">2</text>
<line x1="207.0" y1="272.4" x2="207.0" y2="273.2" stroke="#aaa" stroke-width="0.4"/>
<text x="207.0" y="276.6" font-size="3.6" text-anchor="middle" fill="#4a4a4a" stroke="#4a4a4a" stroke-width="0.12">4</text>
<line x1="213.2" y1="272.4" x2="213.2" y2="273.2" stroke="#aaa" stroke-width="0.4"/>
<text x="213.2" y="276.6" font-size="3.6" text-anchor="middle" fill="#4a4a4a" stroke="#4a4a4a" stroke-width="0.12">6</text>
<line x1="219.5" y1="272.4" x2="219.5" y2="273.2" stroke="#aaa" stroke-width="0.4"/>
<text x="219.5" y="276.6" font-size="3.6" text-anchor="middle" fill="#4a4a4a" stroke="#4a4a4a" stroke-width="0.12">8</text>
<line x1="225.8" y1="272.4" x2="225.8" y2="273.2" stroke="#aaa" stroke-width="0.4"/>
<text x="225.8" y="276.6" font-size="3.6" text-anchor="middle" fill="#4a4a4a" stroke="#4a4a4a" stroke-width="0.12">10</text>
<line x1="232.0" y1="272.4" x2="232.0" y2="273.2" stroke="#aaa" stroke-width="0.4"/>
<text x="232.0" y="276.6" font-size="3.6" text-anchor="middle" fill="#4a4a4a" stroke="#4a4a4a" stroke-width="0.12">12</text>
<line x1="238.2" y1="272.4" x2="238.2" y2="273.2" stroke="#aaa" stroke-width="0.4"/>
<text x="238.2" y="276.6" font-size="3.6" text-anchor="middle" fill="#4a4a4a" stroke="#4a4a4a" stroke-width="0.12">14</text>
<path d="M178.0 228.0L176.4 233.0L179.0 241.4L182.1 249.6L184.6 257.8L187.0 266.0L189.5 272.0L196.9 272.0L195.2 266.0L192.8 257.8L190.3 249.6L187.0 241.4L182.1 233.0Z" fill="#d9d9d9"/>
<path d="M194.0 272.0L193.6 264.8L196.0 256.0L199.0 250.0L206.7 240.9L213.9 234.9L223.5 229.0L226.0 238.5L223.5 245.7L216.3 255.2L214.0 262.0L206.0 268.4L200.0 272.0Z" fill="#d9d9d9"/>
<path d="M154.3 219.4h0M244.6 261.4h0M208.3 241.3h0M233.5 248.0h0M175.1 231.8h0M217.6 267.0h0M173.5 232.6h0M228.7 236.1h0M204.2 258.5h0M238.4 241.5h0M189.1 260.3h0M213.5 259.1h0M208.0 253.4h0M226.9 237.2h0M209.1 252.1h0M214.0 264.2h0M159.0 216.9h0M181.2 247.5h0M219.5 265.9h0M223.7 229.9h0M162.9 224.7h0M161.5 217.0h0M208.1 253.1h0M184.4 251.5h0M185.2 243.5h0M180.8 229.6h0M224.9 252.6h0M206.3 242.6h0M201.9 243.2h0M210.8 257.7h0M214.3 264.1h0M241.9 260.7h0M182.5 248.7h0M189.8 253.6h0M227.4 235.8h0M221.9 240.2h0M170.1 246.0h0M163.9 238.7h0M171.8 233.3h0M160.8 216.6h0M155.7 224.4h0M208.2 257.2h0M216.2 240.8h0M212.4 256.7h0M219.1 263.4h0M181.7 233.5h0M189.8 268.2h0M187.3 261.7h0M207.7 236.1h0M207.9 268.1h0M188.4 252.2h0M223.7 254.5h0M178.0 245.3h0M187.5 264.6h0M186.4 253.0h0M196.8 266.1h0M238.9 246.9h0M208.0 262.9h0M236.0 253.2h0M209.1 237.6h0M203.0 259.7h0M170.6 229.4h0M214.8 240.3h0M204.4 262.1h0M172.3 233.4h0M203.9 250.5h0M170.3 232.5h0M193.8 267.4h0M195.9 268.4h0M223.7 240.9h0M211.3 238.9h0M241.9 251.1h0M219.2 241.7h0M184.3 250.1h0M223.8 262.6h0M164.4 215.0h0M202.8 257.2h0M228.6 256.4h0M209.5 236.4h0M209.9 234.4h0M220.4 231.8h0M185.0 246.9h0M183.5 250.6h0M166.7 220.4h0M175.0 235.1h0M200.3 268.6h0M217.5 231.3h0M215.4 251.4h0M189.2 246.1h0M223.0 235.4h0M169.5 230.8h0M216.3 238.4h0M188.3 243.3h0M203.4 253.1h0M182.2 240.8h0M223.4 236.8h0M195.0 269.1h0M209.3 235.7h0M204.8 250.8h0M156.1 216.8h0M186.7 260.8h0M213.5 249.5h0M218.3 264.2h0M195.1 267.2h0M218.4 269.4h0M168.0 219.7h0M178.5 242.1h0M174.9 231.5h0M197.2 267.1h0M174.4 228.9h0M155.2 216.8h0M231.8 246.0h0M188.0 248.0h0M235.7 245.9h0M197.6 270.1h0M201.9 255.6h0M184.7 260.9h0M218.7 265.9h0M218.4 252.3h0M209.5 251.5h0M183.1 234.6h0M197.1 261.5h0M173.5 230.0h0M213.4 259.5h0M178.0 227.3h0M155.3 219.9h0M240.8 253.6h0M205.5 255.5h0M179.3 257.7h0M208.5 270.6h0M196.2 255.9h0M214.3 264.9h0M201.4 257.7h0M234.5 249.8h0M173.4 231.5h0" stroke="#bcbcbc" stroke-width="1.6" stroke-linecap="round" fill="none" opacity="0.35"/>
<path d="M154.3 219.4h0M244.6 261.4h0M208.3 241.3h0M233.5 248.0h0M175.1 231.8h0M217.6 267.0h0M173.5 232.6h0M228.7 236.1h0M204.2 258.5h0M238.4 241.5h0M189.1 260.3h0M213.5 259.1h0M208.0 253.4h0M226.9 237.2h0M209.1 252.1h0M214.0 264.2h0M159.0 216.9h0M181.2 247.5h0M219.5 265.9h0M223.7 229.9h0M162.9 224.7h0M161.5 217.0h0M208.1 253.1h0M184.4 251.5h0M185.2 243.5h0M180.8 229.6h0M224.9 252.6h0M206.3 242.6h0M201.9 243.2h0M210.8 257.7h0M214.3 264.1h0M241.9 260.7h0M182.5 248.7h0M189.8 253.6h0M227.4 235.8h0M221.9 240.2h0M170.1 246.0h0M163.9 238.7h0M171.8 233.3h0M160.8 216.6h0M155.7 224.4h0M208.2 257.2h0M216.2 240.8h0M212.4 256.7h0M219.1 263.4h0M181.7 233.5h0M189.8 268.2h0M187.3 261.7h0M207.7 236.1h0M207.9 268.1h0M188.4 252.2h0M223.7 254.5h0M178.0 245.3h0M187.5 264.6h0M186.4 253.0h0M196.8 266.1h0M238.9 246.9h0M208.0 262.9h0M236.0 253.2h0M209.1 237.6h0M203.0 259.7h0M170.6 229.4h0M214.8 240.3h0M204.4 262.1h0M172.3 233.4h0M203.9 250.5h0M170.3 232.5h0M193.8 267.4h0M195.9 268.4h0M223.7 240.9h0M211.3 238.9h0M241.9 251.1h0M219.2 241.7h0M184.3 250.1h0M223.8 262.6h0M164.4 215.0h0M202.8 257.2h0M228.6 256.4h0M209.5 236.4h0M209.9 234.4h0M220.4 231.8h0M185.0 246.9h0M183.5 250.6h0M166.7 220.4h0M175.0 235.1h0M200.3 268.6h0M217.5 231.3h0M215.4 251.4h0M189.2 246.1h0M223.0 235.4h0M169.5 230.8h0M216.3 238.4h0M188.3 243.3h0M203.4 253.1h0M182.2 240.8h0M223.4 236.8h0M195.0 269.1h0M209.3 235.7h0M204.8 250.8h0M156.1 216.8h0M186.7 260.8h0M213.5 249.5h0M218.3 264.2h0M195.1 267.2h0M218.4 269.4h0M168.0 219.7h0M178.5 242.1h0M174.9 231.5h0M197.2 267.1h0M174.4 228.9h0M155.2 216.8h0M231.8 246.0h0M188.0 248.0h0M235.7 245.9h0M197.6 270.1h0M201.9 255.6h0M184.7 260.9h0M218.7 265.9h0M218.4 252.3h0M209.5 251.5h0M183.1 234.6h0M197.1 261.5h0M173.5 230.0h0M213.4 259.5h0M178.0 227.3h0M155.3 219.9h0M240.8 253.6h0M205.5 255.5h0M179.3 257.7h0M208.5 270.6h0M196.2 255.9h0M214.3 264.9h0M201.4 257.7h0M234.5 249.8h0M173.4 231.5h0" stroke="#f2f2f2" stroke-width="0.8" stroke-linecap="round" fill="none" opacity="0.5"/>
<path d="M189.4 258.8h0M216.6 227.6h0M225.2 261.5h0M191.0 249.2h0M157.0 218.7h0M208.4 240.9h0M185.7 245.9h0M172.2 225.3h0M218.3 245.6h0M221.0 263.2h0M230.2 260.4h0M219.1 265.6h0M200.8 256.5h0M205.2 247.8h0M186.8 263.2h0M157.6 228.9h0M235.6 242.9h0M161.9 228.4h0M157.3 222.1h0M204.6 255.3h0M152.5 219.9h0M200.8 248.6h0M178.3 242.0h0M201.5 247.2h0M215.9 243.1h0M170.1 246.0h0M239.4 248.9h0M240.8 260.5h0M202.9 267.2h0M202.6 248.3h0M219.1 226.1h0M182.7 245.8h0M184.4 254.4h0M204.3 258.4h0M212.5 254.7h0M213.7 254.3h0M183.3 249.3h0M173.5 232.0h0M226.4 253.2h0M229.3 245.8h0M209.6 250.2h0M190.6 248.7h0M154.6 214.0h0M188.5 255.6h0M159.4 213.5h0M211.6 264.1h0M229.6 241.6h0M152.5 220.9h0M223.8 241.5h0M230.5 255.1h0M241.6 253.8h0M228.3 244.6h0M209.9 270.3h0M186.7 246.3h0M226.0 240.8h0M193.3 255.8h0M202.0 248.7h0M229.7 253.2h0M190.3 248.7h0M169.8 230.5h0M172.9 245.7h0M166.4 223.6h0M186.1 239.0h0M185.4 247.5h0M188.2 249.9h0M157.7 226.2h0M172.5 229.2h0M205.7 233.4h0M230.7 238.5h0M165.1 220.3h0M225.7 238.6h0M219.3 266.0h0M235.0 247.7h0M213.1 267.6h0M206.2 265.8h0M196.7 260.9h0M210.2 266.4h0M216.9 250.1h0M168.1 235.1h0M226.7 261.5h0M202.0 239.5h0M168.1 220.0h0M222.3 241.8h0M168.6 221.6h0M231.2 241.1h0M169.8 230.9h0M215.1 254.1h0M173.7 231.2h0M210.2 249.2h0M181.1 232.5h0M207.8 255.4h0M195.2 270.2h0M208.9 266.0h0M174.4 232.7h0M215.5 243.5h0M208.9 245.0h0M170.3 230.6h0M200.6 257.7h0M215.7 249.4h0M197.8 260.4h0M237.2 244.8h0M204.2 240.7h0M178.8 232.6h0M184.2 253.4h0M209.0 232.0h0M208.8 254.8h0M210.6 258.0h0M168.5 228.2h0M196.0 270.9h0M206.1 234.4h0M185.8 263.3h0M221.5 260.6h0M207.9 270.6h0M214.9 253.2h0M220.3 269.0h0M203.4 255.1h0M201.1 255.4h0M212.6 233.9h0M170.8 229.3h0M180.6 232.5h0M178.6 232.7h0M161.4 215.0h0M226.6 260.2h0M175.9 235.7h0M167.4 220.4h0M187.2 251.2h0M227.8 241.5h0M202.9 255.6h0M188.4 267.6h0M221.9 242.6h0M218.1 249.7h0M178.1 237.9h0M194.4 265.8h0M213.5 257.8h0M233.5 262.0h0" stroke="#bcbcbc" stroke-width="1.6" stroke-linecap="round" fill="none" opacity="0.35"/>
<path d="M189.4 258.8h0M216.6 227.6h0M225.2 261.5h0M191.0 249.2h0M157.0 218.7h0M208.4 240.9h0M185.7 245.9h0M172.2 225.3h0M218.3 245.6h0M221.0 263.2h0M230.2 260.4h0M219.1 265.6h0M200.8 256.5h0M205.2 247.8h0M186.8 263.2h0M157.6 228.9h0M235.6 242.9h0M161.9 228.4h0M157.3 222.1h0M204.6 255.3h0M152.5 219.9h0M200.8 248.6h0M178.3 242.0h0M201.5 247.2h0M215.9 243.1h0M170.1 246.0h0M239.4 248.9h0M240.8 260.5h0M202.9 267.2h0M202.6 248.3h0M219.1 226.1h0M182.7 245.8h0M184.4 254.4h0M204.3 258.4h0M212.5 254.7h0M213.7 254.3h0M183.3 249.3h0M173.5 232.0h0M226.4 253.2h0M229.3 245.8h0M209.6 250.2h0M190.6 248.7h0M154.6 214.0h0M188.5 255.6h0M159.4 213.5h0M211.6 264.1h0M229.6 241.6h0M152.5 220.9h0M223.8 241.5h0M230.5 255.1h0M241.6 253.8h0M228.3 244.6h0M209.9 270.3h0M186.7 246.3h0M226.0 240.8h0M193.3 255.8h0M202.0 248.7h0M229.7 253.2h0M190.3 248.7h0M169.8 230.5h0M172.9 245.7h0M166.4 223.6h0M186.1 239.0h0M185.4 247.5h0M188.2 249.9h0M157.7 226.2h0M172.5 229.2h0M205.7 233.4h0M230.7 238.5h0M165.1 220.3h0M225.7 238.6h0M219.3 266.0h0M235.0 247.7h0M213.1 267.6h0M206.2 265.8h0M196.7 260.9h0M210.2 266.4h0M216.9 250.1h0M168.1 235.1h0M226.7 261.5h0M202.0 239.5h0M168.1 220.0h0M222.3 241.8h0M168.6 221.6h0M231.2 241.1h0M169.8 230.9h0M215.1 254.1h0M173.7 231.2h0M210.2 249.2h0M181.1 232.5h0M207.8 255.4h0M195.2 270.2h0M208.9 266.0h0M174.4 232.7h0M215.5 243.5h0M208.9 245.0h0M170.3 230.6h0M200.6 257.7h0M215.7 249.4h0M197.8 260.4h0M237.2 244.8h0M204.2 240.7h0M178.8 232.6h0M184.2 253.4h0M209.0 232.0h0M208.8 254.8h0M210.6 258.0h0M168.5 228.2h0M196.0 270.9h0M206.1 234.4h0M185.8 263.3h0M221.5 260.6h0M207.9 270.6h0M214.9 253.2h0M220.3 269.0h0M203.4 255.1h0M201.1 255.4h0M212.6 233.9h0M170.8 229.3h0M180.6 232.5h0M178.6 232.7h0M161.4 215.0h0M226.6 260.2h0M175.9 235.7h0M167.4 220.4h0M187.2 251.2h0M227.8 241.5h0M202.9 255.6h0M188.4 267.6h0M221.9 242.6h0M218.1 249.7h0M178.1 237.9h0M194.4 265.8h0M213.5 257.8h0M233.5 262.0h0" stroke="#f2f2f2" stroke-width="0.8" stroke-linecap="round" fill="none" opacity="0.5"/>
<path d="M226.2 255.0h0M215.8 267.1h0M187.7 254.8h0M204.8 240.9h0M209.5 262.7h0M202.6 262.6h0M177.1 230.0h0M237.2 241.5h0M157.7 223.8h0M232.8 242.5h0M241.6 253.1h0M223.5 247.8h0M191.9 260.5h0M190.9 252.6h0M206.3 244.7h0M191.6 263.6h0M159.1 214.1h0M213.9 231.1h0M192.7 254.2h0M223.8 245.7h0M181.3 236.8h0M202.3 246.7h0M180.4 259.1h0M197.5 254.5h0M175.4 228.3h0M209.2 234.0h0M185.4 244.8h0M203.7 247.4h0M186.2 252.8h0M199.8 271.3h0M175.5 228.4h0M242.2 250.6h0M173.4 226.7h0M183.5 255.2h0M196.3 262.4h0M215.8 266.5h0M174.4 243.2h0M195.9 258.0h0M162.9 219.2h0M173.3 233.1h0M223.3 237.6h0M223.9 250.6h0M181.3 249.9h0M227.4 259.5h0M203.4 237.4h0M235.8 244.8h0M202.4 239.9h0M151.3 221.4h0M218.0 238.8h0M184.1 265.9h0M189.1 250.2h0M210.6 240.6h0M164.5 238.5h0M182.5 244.7h0M212.5 238.8h0M205.0 258.9h0M208.7 252.4h0M194.3 258.4h0M160.2 219.9h0M179.1 241.0h0M207.4 239.1h0M207.6 266.0h0M177.0 255.8h0M225.5 238.8h0M202.7 260.4h0M214.7 252.2h0M179.1 237.3h0M210.7 261.2h0M226.5 257.4h0M197.9 261.7h0M221.3 246.1h0M223.2 244.6h0M208.9 269.0h0M159.5 214.3h0M169.0 220.6h0M175.4 235.1h0M203.5 244.7h0M240.2 252.2h0M175.6 232.0h0M175.3 233.5h0M160.5 218.8h0M159.4 228.9h0M172.0 228.7h0M215.0 262.7h0M206.0 253.6h0M186.3 248.5h0M215.0 239.5h0M161.0 233.9h0M205.3 239.3h0M245.0 261.9h0M182.3 251.8h0M183.5 245.7h0M229.4 239.9h0M222.4 251.1h0M179.4 232.9h0M242.8 251.0h0M195.6 261.6h0M195.7 270.5h0M194.6 266.9h0M235.7 248.6h0M241.5 254.3h0M231.7 241.2h0M172.5 244.4h0M168.1 230.0h0M194.7 264.2h0M188.0 267.2h0M209.8 254.0h0M220.2 254.9h0M158.6 217.2h0M205.8 263.3h0M174.3 231.0h0M207.9 232.4h0M179.6 231.7h0M177.9 245.8h0M180.3 247.6h0M234.9 251.6h0M163.6 222.4h0M187.6 263.6h0M237.2 246.2h0M223.1 232.4h0M214.8 265.6h0M162.0 236.0h0M222.1 250.2h0M212.1 234.3h0M216.6 232.7h0M238.2 253.9h0M204.0 255.9h0M167.7 237.5h0M197.9 269.8h0M189.0 260.6h0M209.8 241.7h0M182.9 238.2h0M188.6 244.9h0M182.9 239.8h0M195.3 268.6h0" stroke="#bcbcbc" stroke-width="1.6" stroke-linecap="round" fill="none" opacity="0.35"/>
<path d="M226.2 255.0h0M215.8 267.1h0M187.7 254.8h0M204.8 240.9h0M209.5 262.7h0M202.6 262.6h0M177.1 230.0h0M237.2 241.5h0M157.7 223.8h0M232.8 242.5h0M241.6 253.1h0M223.5 247.8h0M191.9 260.5h0M190.9 252.6h0M206.3 244.7h0M191.6 263.6h0M159.1 214.1h0M213.9 231.1h0M192.7 254.2h0M223.8 245.7h0M181.3 236.8h0M202.3 246.7h0M180.4 259.1h0M197.5 254.5h0M175.4 228.3h0M209.2 234.0h0M185.4 244.8h0M203.7 247.4h0M186.2 252.8h0M199.8 271.3h0M175.5 228.4h0M242.2 250.6h0M173.4 226.7h0M183.5 255.2h0M196.3 262.4h0M215.8 266.5h0M174.4 243.2h0M195.9 258.0h0M162.9 219.2h0M173.3 233.1h0M223.3 237.6h0M223.9 250.6h0M181.3 249.9h0M227.4 259.5h0M203.4 237.4h0M235.8 244.8h0M202.4 239.9h0M151.3 221.4h0M218.0 238.8h0M184.1 265.9h0M189.1 250.2h0M210.6 240.6h0M164.5 238.5h0M182.5 244.7h0M212.5 238.8h0M205.0 258.9h0M208.7 252.4h0M194.3 258.4h0M160.2 219.9h0M179.1 241.0h0M207.4 239.1h0M207.6 266.0h0M177.0 255.8h0M225.5 238.8h0M202.7 260.4h0M214.7 252.2h0M179.1 237.3h0M210.7 261.2h0M226.5 257.4h0M197.9 261.7h0M221.3 246.1h0M223.2 244.6h0M208.9 269.0h0M159.5 214.3h0M169.0 220.6h0M175.4 235.1h0M203.5 244.7h0M240.2 252.2h0M175.6 232.0h0M175.3 233.5h0M160.5 218.8h0M159.4 228.9h0M172.0 228.7h0M215.0 262.7h0M206.0 253.6h0M186.3 248.5h0M215.0 239.5h0M161.0 233.9h0M205.3 239.3h0M245.0 261.9h0M182.3 251.8h0M183.5 245.7h0M229.4 239.9h0M222.4 251.1h0M179.4 232.9h0M242.8 251.0h0M195.6 261.6h0M195.7 270.5h0M194.6 266.9h0M235.7 248.6h0M241.5 254.3h0M231.7 241.2h0M172.5 244.4h0M168.1 230.0h0M194.7 264.2h0M188.0 267.2h0M209.8 254.0h0M220.2 254.9h0M158.6 217.2h0M205.8 263.3h0M174.3 231.0h0M207.9 232.4h0M179.6 231.7h0M177.9 245.8h0M180.3 247.6h0M234.9 251.6h0M163.6 222.4h0M187.6 263.6h0M237.2 246.2h0M223.1 232.4h0M214.8 265.6h0M162.0 236.0h0M222.1 250.2h0M212.1 234.3h0M216.6 232.7h0M238.2 253.9h0M204.0 255.9h0M167.7 237.5h0M197.9 269.8h0M189.0 260.6h0M209.8 241.7h0M182.9 238.2h0M188.6 244.9h0M182.9 239.8h0M195.3 268.6h0" stroke="#f2f2f2" stroke-width="0.8" stroke-linecap="round" fill="none" opacity="0.5"/>
<path d="M227.3 237.5h0M188.1 242.9h0M164.9 222.7h0M164.2 226.4h0M211.9 270.0h0M162.5 226.9h0M188.4 260.1h0M174.3 229.0h0M191.0 253.2h0M205.6 262.7h0M170.8 230.2h0M211.8 229.8h0M208.3 266.5h0M224.1 243.6h0M240.0 249.6h0M183.7 238.9h0M232.9 248.8h0M222.7 249.4h0M177.9 226.1h0M180.5 246.3h0M242.1 250.7h0M210.5 233.8h0M179.3 230.9h0M180.2 237.3h0M193.8 267.3h0M211.3 254.3h0M184.0 257.8h0M179.5 234.1h0M206.3 268.3h0M182.1 246.3h0M201.9 249.6h0M213.5 228.3h0M182.6 237.5h0M161.5 215.6h0M178.8 246.8h0M231.6 258.0h0M157.3 221.4h0M217.9 230.9h0M161.0 231.7h0M207.4 251.4h0M192.7 269.2h0M162.6 221.1h0M203.1 256.0h0M168.9 243.3h0M176.1 248.6h0M213.5 246.4h0M154.4 216.2h0M160.6 229.2h0M194.1 258.1h0M191.8 260.7h0M215.7 248.8h0M238.0 244.3h0M198.9 269.2h0M200.7 242.7h0M187.4 258.2h0M214.0 258.7h0M214.5 234.8h0M209.3 239.1h0M233.6 259.5h0M204.8 249.4h0M216.1 250.9h0M211.0 266.2h0M163.4 221.6h0M164.0 219.0h0M169.5 221.5h0M224.2 232.8h0M209.7 247.1h0M171.9 234.4h0M212.8 242.9h0M213.1 254.4h0M168.6 226.3h0M238.9 250.1h0M230.4 260.3h0M207.8 266.8h0M226.7 250.3h0M174.9 233.0h0M210.3 245.0h0M218.8 242.2h0M153.4 215.4h0M190.5 251.3h0M167.1 230.4h0M224.4 241.1h0M198.1 264.8h0M203.3 263.9h0M167.6 217.8h0M208.3 242.3h0M178.2 240.9h0M232.0 250.8h0M198.3 262.8h0M219.0 240.0h0M167.6 234.8h0M186.9 260.1h0M204.9 243.8h0M209.0 243.1h0M219.8 265.3h0M216.9 228.1h0M155.8 224.9h0M207.1 231.5h0M195.2 265.9h0M222.9 231.9h0M235.3 252.0h0M217.5 242.9h0M182.5 254.5h0M190.0 253.5h0M195.8 266.3h0M182.7 235.4h0M225.9 237.0h0M179.9 254.5h0M181.2 256.8h0M235.0 258.3h0M189.3 264.7h0M204.9 246.7h0M222.6 265.4h0M182.6 254.0h0M207.7 241.0h0M192.1 250.6h0M210.0 257.5h0M202.5 251.6h0M163.1 236.2h0M184.8 235.3h0M200.6 241.8h0M221.6 259.3h0M180.4 237.4h0M232.1 238.9h0M204.0 241.3h0M208.2 230.7h0M179.5 233.5h0M217.0 247.4h0M203.6 262.4h0M153.1 222.0h0M178.6 240.0h0M213.2 257.2h0M208.9 253.2h0M227.2 249.7h0M209.9 250.0h0" stroke="#bcbcbc" stroke-width="1.6" stroke-linecap="round" fill="none" opacity="0.35"/>
<path d="M227.3 237.5h0M188.1 242.9h0M164.9 222.7h0M164.2 226.4h0M211.9 270.0h0M162.5 226.9h0M188.4 260.1h0M174.3 229.0h0M191.0 253.2h0M205.6 262.7h0M170.8 230.2h0M211.8 229.8h0M208.3 266.5h0M224.1 243.6h0M240.0 249.6h0M183.7 238.9h0M232.9 248.8h0M222.7 249.4h0M177.9 226.1h0M180.5 246.3h0M242.1 250.7h0M210.5 233.8h0M179.3 230.9h0M180.2 237.3h0M193.8 267.3h0M211.3 254.3h0M184.0 257.8h0M179.5 234.1h0M206.3 268.3h0M182.1 246.3h0M201.9 249.6h0M213.5 228.3h0M182.6 237.5h0M161.5 215.6h0M178.8 246.8h0M231.6 258.0h0M157.3 221.4h0M217.9 230.9h0M161.0 231.7h0M207.4 251.4h0M192.7 269.2h0M162.6 221.1h0M203.1 256.0h0M168.9 243.3h0M176.1 248.6h0M213.5 246.4h0M154.4 216.2h0M160.6 229.2h0M194.1 258.1h0M191.8 260.7h0M215.7 248.8h0M238.0 244.3h0M198.9 269.2h0M200.7 242.7h0M187.4 258.2h0M214.0 258.7h0M214.5 234.8h0M209.3 239.1h0M233.6 259.5h0M204.8 249.4h0M216.1 250.9h0M211.0 266.2h0M163.4 221.6h0M164.0 219.0h0M169.5 221.5h0M224.2 232.8h0M209.7 247.1h0M171.9 234.4h0M212.8 242.9h0M213.1 254.4h0M168.6 226.3h0M238.9 250.1h0M230.4 260.3h0M207.8 266.8h0M226.7 250.3h0M174.9 233.0h0M210.3 245.0h0M218.8 242.2h0M153.4 215.4h0M190.5 251.3h0M167.1 230.4h0M224.4 241.1h0M198.1 264.8h0M203.3 263.9h0M167.6 217.8h0M208.3 242.3h0M178.2 240.9h0M232.0 250.8h0M198.3 262.8h0M219.0 240.0h0M167.6 234.8h0M186.9 260.1h0M204.9 243.8h0M209.0 243.1h0M219.8 265.3h0M216.9 228.1h0M155.8 224.9h0M207.1 231.5h0M195.2 265.9h0M222.9 231.9h0M235.3 252.0h0M217.5 242.9h0M182.5 254.5h0M190.0 253.5h0M195.8 266.3h0M182.7 235.4h0M225.9 237.0h0M179.9 254.5h0M181.2 256.8h0M235.0 258.3h0M189.3 264.7h0M204.9 246.7h0M222.6 265.4h0M182.6 254.0h0M207.7 241.0h0M192.1 250.6h0M210.0 257.5h0M202.5 251.6h0M163.1 236.2h0M184.8 235.3h0M200.6 241.8h0M221.6 259.3h0M180.4 237.4h0M232.1 238.9h0M204.0 241.3h0M208.2 230.7h0M179.5 233.5h0M217.0 247.4h0M203.6 262.4h0M153.1 222.0h0M178.6 240.0h0M213.2 257.2h0M208.9 253.2h0M227.2 249.7h0M209.9 250.0h0" stroke="#f2f2f2" stroke-width="0.8" stroke-linecap="round" fill="none" opacity="0.5"/>
<line x1="229.4" y1="211.6" x2="226.0" y2="213.4" stroke="#444" stroke-width="0.4"/>
<line x1="234.2" y1="223.2" x2="231.0" y2="224.5" stroke="#444" stroke-width="0.4"/>
<line x1="222.2" y1="224.8" x2="228.2" y2="229.0" stroke="#444" stroke-width="0.4"/>
<line x1="234.1" y1="229.2" x2="231.5" y2="229.5" stroke="#444" stroke-width="0.4"/>
<line x1="220.0" y1="231.2" x2="224.4" y2="233.5" stroke="#444" stroke-width="0.4"/>
<line x1="229.5" y1="231.5" x2="228.2" y2="231.3" stroke="#444" stroke-width="0.4"/>
<line x1="211.5" y1="237.0" x2="214.6" y2="234.1" stroke="#444" stroke-width="0.4"/>
<line x1="228.9" y1="237.7" x2="224.4" y2="236.9" stroke="#444" stroke-width="0.4"/>
<line x1="207.0" y1="247.2" x2="203.8" y2="245.4" stroke="#444" stroke-width="0.4"/>
<line x1="159.5" y1="228.6" x2="161.5" y2="224.4" stroke="#444" stroke-width="0.4"/>
<line x1="177.3" y1="241.6" x2="181.0" y2="242.2" stroke="#444" stroke-width="0.4"/>
<line x1="176.5" y1="248.9" x2="181.0" y2="245.5" stroke="#444" stroke-width="0.4"/>
<line x1="187.7" y1="257.5" x2="190.3" y2="260.2" stroke="#444" stroke-width="0.4"/>
<circle cx="226.0" cy="213.4" r="1.25" fill="#e8731f"/>
<circle cx="231.0" cy="224.5" r="1.25" fill="#2e6fc6"/>
<circle cx="228.2" cy="229.0" r="1.25" fill="#2e6fc6"/>
<circle cx="231.5" cy="229.5" r="1.25" fill="#2e6fc6"/>
<circle cx="224.4" cy="233.5" r="1.25" fill="#e8731f"/>
<circle cx="228.2" cy="231.3" r="1.25" fill="#e8731f"/>
<circle cx="214.6" cy="234.1" r="1.25" fill="#2e6fc6"/>
<circle cx="224.4" cy="236.9" r="1.25" fill="#e8731f"/>
<circle cx="203.8" cy="245.4" r="1.25" fill="#2e6fc6"/>
<circle cx="161.5" cy="224.4" r="1.25" fill="#e8731f"/>
<circle cx="181.0" cy="242.2" r="1.25" fill="#e8731f"/>
<circle cx="181.0" cy="245.5" r="1.25" fill="#e8731f"/>
<circle cx="190.3" cy="260.2" r="1.25" fill="#e8731f"/>
<text x="232.9" y="211.2" font-size="4.35" text-anchor="middle" fill="#2a2a2a" stroke="#2a2a2a" stroke-width="0.14">TFRC</text>
<text x="239.0" y="222.9" font-size="4.35" text-anchor="middle" fill="#2a2a2a" stroke="#2a2a2a" stroke-width="0.14">CD36</text>
<text x="219.5" y="224.5" font-size="4.35" text-anchor="middle" fill="#2a2a2a" stroke="#2a2a2a" stroke-width="0.14">SLC1A5</text>
<text x="240.2" y="230.0" font-size="4.35" text-anchor="middle" fill="#2a2a2a" stroke="#2a2a2a" stroke-width="0.14">PHB2</text>
<text x="216.4" y="230.9" font-size="4.35" text-anchor="middle" fill="#2a2a2a" stroke="#2a2a2a" stroke-width="0.14">SLC7A5</text>
<text x="238.0" y="234.4" font-size="4.35" text-anchor="middle" fill="#2a2a2a" stroke="#2a2a2a" stroke-width="0.14">SLC3A2</text>
<text x="209.4" y="240.5" font-size="4.35" text-anchor="middle" fill="#2a2a2a" stroke="#2a2a2a" stroke-width="0.14">ITGB1</text>
<text x="237.0" y="240.8" font-size="4.35" text-anchor="middle" fill="#2a2a2a" stroke="#2a2a2a" stroke-width="0.14">CNNM3</text>
<text x="210.4" y="250.7" font-size="4.35" text-anchor="middle" fill="#2a2a2a" stroke="#2a2a2a" stroke-width="0.14">SLC7A1</text>
<text x="158.6" y="232.1" font-size="4.35" text-anchor="middle" fill="#2a2a2a" stroke="#2a2a2a" stroke-width="0.14">SLC4A3</text>
<text x="169.6" y="242.0" font-size="4.35" text-anchor="middle" fill="#2a2a2a" stroke="#2a2a2a" stroke-width="0.14">ACKR1</text>
<text x="174.0" y="252.4" font-size="4.35" text-anchor="middle" fill="#2a2a2a" stroke="#2a2a2a" stroke-width="0.14">CR1</text>
<text x="185.8" y="257.1" font-size="4.35" text-anchor="middle" fill="#2a2a2a" stroke="#2a2a2a" stroke-width="0.14">BSG</text>
<text x="194.5" y="198.0" font-size="6.0" text-anchor="middle" fill="#111" stroke="#111" stroke-width="0.15">BEL-A/Erythrocytes</text>
<text x="133.0" y="192.1" font-size="5.6" text-anchor="start" font-weight="bold" fill="#111" stroke="#111" stroke-width="0.24">D</text>
<line x1="270.5" y1="260.6" x2="370.0" y2="260.6" stroke="#d0d0d0" stroke-width="0.5"/>
<line x1="316.5" y1="211.5" x2="316.5" y2="272.1" stroke="#e2e2e2" stroke-width="0.5"/>
<line x1="323.4" y1="211.5" x2="323.4" y2="272.1" stroke="#e2e2e2" stroke-width="0.5"/>
<line x1="270.5" y1="210.5" x2="270.5" y2="272.4" stroke="#d4d4d4" stroke-width="0.5"/>
<line x1="269.5" y1="270.6" x2="270.5" y2="270.6" stroke="#aaa" stroke-width="0.4"/>
<text x="268.5" y="272.5" font-size="3.6" text-anchor="end" fill="#4a4a4a" stroke="#4a4a4a" stroke-width="0.12">1e-0</text>
<line x1="269.5" y1="263.8" x2="270.5" y2="263.8" stroke="#aaa" stroke-width="0.4"/>
<text x="268.5" y="265.7" font-size="3.6" text-anchor="end" fill="#4a4a4a" stroke="#4a4a4a" stroke-width="0.12">1e-1</text>
<line x1="269.5" y1="256.9" x2="270.5" y2="256.9" stroke="#aaa" stroke-width="0.4"/>
<text x="268.5" y="258.8" font-size="3.6" text-anchor="end" fill="#4a4a4a" stroke="#4a4a4a" stroke-width="0.12">1e-2</text>
<line x1="269.5" y1="250.1" x2="270.5" y2="250.1" stroke="#aaa" stroke-width="0.4"/>
<text x="268.5" y="252.0" font-size="3.6" text-anchor="end" fill="#4a4a4a" stroke="#4a4a4a" stroke-width="0.12">1e-3</text>
<line x1="269.5" y1="243.2" x2="270.5" y2="243.2" stroke="#aaa" stroke-width="0.4"/>
<text x="268.5" y="245.1" font-size="3.6" text-anchor="end" fill="#4a4a4a" stroke="#4a4a4a" stroke-width="0.12">1e-4</text>
<line x1="269.5" y1="236.4" x2="270.5" y2="236.4" stroke="#aaa" stroke-width="0.4"/>
<text x="268.5" y="238.3" font-size="3.6" text-anchor="end" fill="#4a4a4a" stroke="#4a4a4a" stroke-width="0.12">1e-5</text>
<line x1="269.5" y1="229.6" x2="270.5" y2="229.6" stroke="#aaa" stroke-width="0.4"/>
<text x="268.5" y="231.5" font-size="3.6" text-anchor="end" fill="#4a4a4a" stroke="#4a4a4a" stroke-width="0.12">1e-6</text>
<line x1="269.5" y1="222.7" x2="270.5" y2="222.7" stroke="#aaa" stroke-width="0.4"/>
<text x="268.5" y="224.6" font-size="3.6" text-anchor="end" fill="#4a4a4a" stroke="#4a4a4a" stroke-width="0.12">1e-7</text>
<line x1="269.5" y1="215.9" x2="270.5" y2="215.9" stroke="#aaa" stroke-width="0.4"/>
<text x="268.5" y="217.8" font-size="3.6" text-anchor="end" fill="#4a4a4a" stroke="#4a4a4a" stroke-width="0.12">1e-8</text>
<line x1="274.1" y1="272.4" x2="274.1" y2="273.2" stroke="#aaa" stroke-width="0.4"/>
<text x="273.8" y="276.6" font-size="3.6" text-anchor="middle" fill="#4a4a4a" stroke="#4a4a4a" stroke-width="0.12">&#8722;14</text>
<line x1="280.6" y1="272.4" x2="280.6" y2="273.2" stroke="#aaa" stroke-width="0.4"/>
<text x="280.3" y="276.6" font-size="3.6" text-anchor="middle" fill="#4a4a4a" stroke="#4a4a4a" stroke-width="0.12">&#8722;12</text>
<line x1="287.2" y1="272.4" x2="287.2" y2="273.2" stroke="#aaa" stroke-width="0.4"/>
<text x="286.9" y="276.6" font-size="3.6" text-anchor="middle" fill="#4a4a4a" stroke="#4a4a4a" stroke-width="0.12">&#8722;10</text>
<line x1="293.8" y1="272.4" x2="293.8" y2="273.2" stroke="#aaa" stroke-width="0.4"/>
<text x="293.5" y="276.6" font-size="3.6" text-anchor="middle" fill="#4a4a4a" stroke="#4a4a4a" stroke-width="0.12">&#8722;8</text>
<line x1="300.3" y1="272.4" x2="300.3" y2="273.2" stroke="#aaa" stroke-width="0.4"/>
<text x="300.0" y="276.6" font-size="3.6" text-anchor="middle" fill="#4a4a4a" stroke="#4a4a4a" stroke-width="0.12">&#8722;6</text>
<line x1="306.9" y1="272.4" x2="306.9" y2="273.2" stroke="#aaa" stroke-width="0.4"/>
<text x="306.6" y="276.6" font-size="3.6" text-anchor="middle" fill="#4a4a4a" stroke="#4a4a4a" stroke-width="0.12">&#8722;4</text>
<line x1="313.4" y1="272.4" x2="313.4" y2="273.2" stroke="#aaa" stroke-width="0.4"/>
<text x="313.1" y="276.6" font-size="3.6" text-anchor="middle" fill="#4a4a4a" stroke="#4a4a4a" stroke-width="0.12">&#8722;2</text>
<line x1="320.0" y1="272.4" x2="320.0" y2="273.2" stroke="#aaa" stroke-width="0.4"/>
<text x="320.0" y="276.6" font-size="3.6" text-anchor="middle" fill="#4a4a4a" stroke="#4a4a4a" stroke-width="0.12">0</text>
<line x1="326.6" y1="272.4" x2="326.6" y2="273.2" stroke="#aaa" stroke-width="0.4"/>
<text x="326.6" y="276.6" font-size="3.6" text-anchor="middle" fill="#4a4a4a" stroke="#4a4a4a" stroke-width="0.12">2</text>
<line x1="333.1" y1="272.4" x2="333.1" y2="273.2" stroke="#aaa" stroke-width="0.4"/>
<text x="333.1" y="276.6" font-size="3.6" text-anchor="middle" fill="#4a4a4a" stroke="#4a4a4a" stroke-width="0.12">4</text>
<line x1="339.7" y1="272.4" x2="339.7" y2="273.2" stroke="#aaa" stroke-width="0.4"/>
<text x="339.7" y="276.6" font-size="3.6" text-anchor="middle" fill="#4a4a4a" stroke="#4a4a4a" stroke-width="0.12">6</text>
<line x1="346.2" y1="272.4" x2="346.2" y2="273.2" stroke="#aaa" stroke-width="0.4"/>
<text x="346.2" y="276.6" font-size="3.6" text-anchor="middle" fill="#4a4a4a" stroke="#4a4a4a" stroke-width="0.12">8</text>
<line x1="352.8" y1="272.4" x2="352.8" y2="273.2" stroke="#aaa" stroke-width="0.4"/>
<text x="352.8" y="276.6" font-size="3.6" text-anchor="middle" fill="#4a4a4a" stroke="#4a4a4a" stroke-width="0.12">10</text>
<line x1="359.4" y1="272.4" x2="359.4" y2="273.2" stroke="#aaa" stroke-width="0.4"/>
<text x="359.4" y="276.6" font-size="3.6" text-anchor="middle" fill="#4a4a4a" stroke="#4a4a4a" stroke-width="0.12">12</text>
<line x1="365.9" y1="272.4" x2="365.9" y2="273.2" stroke="#aaa" stroke-width="0.4"/>
<text x="365.9" y="276.6" font-size="3.6" text-anchor="middle" fill="#4a4a4a" stroke="#4a4a4a" stroke-width="0.12">14</text>
<path d="M303.0 236.0L298.0 240.0L300.0 244.7L304.8 254.6L310.7 264.5L314.5 272.0L319.3 272.0L317.7 264.5L314.7 254.6L311.7 244.7L307.5 237.0Z" fill="#d9d9d9"/>
<path d="M319.5 272.0L319.8 262.0L322.0 254.0L326.0 247.0L331.0 241.0L337.9 236.1L347.5 231.3L352.3 238.5L349.9 248.1L345.1 257.6L337.9 264.8L328.4 269.6L322.0 272.0Z" fill="#d9d9d9"/>
<path d="M316.2 265.5h0M334.2 268.6h0M313.6 242.9h0M293.4 224.7h0M360.9 244.0h0M306.0 234.8h0M337.4 235.5h0M279.4 238.4h0M337.0 238.2h0M358.2 256.2h0M303.4 237.0h0M332.9 247.7h0M292.6 224.3h0M294.9 229.1h0M343.4 231.4h0M306.4 254.7h0M279.3 236.9h0M345.0 263.4h0M330.7 247.9h0M363.7 245.2h0M358.0 243.1h0M352.3 259.7h0M294.1 234.6h0M284.8 227.3h0M345.2 245.6h0M305.0 257.6h0M334.7 249.5h0M344.4 256.3h0M301.1 239.6h0M304.9 243.8h0M304.6 247.6h0M342.7 229.2h0M310.0 227.5h0M303.2 236.9h0M331.0 258.2h0M299.5 240.4h0M286.0 234.0h0M290.3 221.8h0M290.5 232.6h0M298.8 231.8h0M361.3 259.7h0M316.2 254.2h0M315.3 236.6h0M351.7 259.4h0M357.9 247.9h0M311.3 253.0h0M360.9 259.2h0M314.6 263.5h0M332.0 249.3h0M301.9 234.5h0M276.0 218.1h0M307.8 248.6h0M306.9 248.5h0M309.3 259.6h0M292.1 226.9h0M334.2 264.2h0M304.4 233.6h0M326.5 256.5h0M324.7 260.2h0M334.3 259.7h0M364.0 254.6h0M338.5 259.5h0M325.0 265.2h0M343.6 231.8h0M296.0 227.4h0M309.8 266.4h0M347.0 258.1h0M323.6 264.6h0M346.1 230.5h0M310.4 258.6h0M329.2 247.7h0M311.4 232.0h0M295.7 243.6h0M309.9 257.6h0M337.5 267.3h0M279.9 219.1h0M340.9 234.8h0M336.9 250.8h0M294.7 226.8h0M327.7 268.6h0M296.5 233.6h0M323.6 262.7h0M287.2 221.7h0M348.3 260.0h0M358.4 239.5h0M309.3 241.3h0M301.4 244.2h0M359.4 241.3h0M308.6 236.9h0M317.2 263.0h0M302.4 234.0h0M320.5 265.2h0M304.2 250.0h0M286.7 224.8h0M312.8 246.8h0M328.7 245.5h0M297.0 247.4h0M278.0 223.2h0M359.1 257.4h0M336.6 256.9h0M304.1 248.5h0M333.2 237.3h0M352.4 248.8h0M311.4 253.7h0M340.8 261.7h0M339.6 262.6h0M289.8 220.0h0M341.3 254.3h0M284.5 224.0h0M346.5 259.3h0M331.2 256.4h0M333.1 262.5h0M346.3 229.8h0M321.7 262.9h0M314.3 251.8h0M348.3 254.3h0M338.2 263.8h0M308.4 260.1h0M312.1 234.7h0M316.6 255.2h0M309.4 251.2h0M313.8 254.7h0M337.4 236.3h0M360.5 260.0h0M341.8 229.3h0M317.6 243.7h0M315.1 236.7h0M316.4 257.7h0M310.9 264.5h0M351.1 238.3h0M348.1 257.9h0M331.1 250.6h0M361.9 242.7h0M327.2 245.5h0M311.3 264.9h0M348.2 232.8h0M283.5 225.0h0M283.7 238.7h0M348.0 248.8h0M327.1 267.6h0M337.7 248.7h0M350.8 251.1h0M336.9 232.7h0M339.9 251.2h0M304.2 234.2h0" stroke="#bcbcbc" stroke-width="1.6" stroke-linecap="round" fill="none" opacity="0.35"/>
<path d="M316.2 265.5h0M334.2 268.6h0M313.6 242.9h0M293.4 224.7h0M360.9 244.0h0M306.0 234.8h0M337.4 235.5h0M279.4 238.4h0M337.0 238.2h0M358.2 256.2h0M303.4 237.0h0M332.9 247.7h0M292.6 224.3h0M294.9 229.1h0M343.4 231.4h0M306.4 254.7h0M279.3 236.9h0M345.0 263.4h0M330.7 247.9h0M363.7 245.2h0M358.0 243.1h0M352.3 259.7h0M294.1 234.6h0M284.8 227.3h0M345.2 245.6h0M305.0 257.6h0M334.7 249.5h0M344.4 256.3h0M301.1 239.6h0M304.9 243.8h0M304.6 247.6h0M342.7 229.2h0M310.0 227.5h0M303.2 236.9h0M331.0 258.2h0M299.5 240.4h0M286.0 234.0h0M290.3 221.8h0M290.5 232.6h0M298.8 231.8h0M361.3 259.7h0M316.2 254.2h0M315.3 236.6h0M351.7 259.4h0M357.9 247.9h0M311.3 253.0h0M360.9 259.2h0M314.6 263.5h0M332.0 249.3h0M301.9 234.5h0M276.0 218.1h0M307.8 248.6h0M306.9 248.5h0M309.3 259.6h0M292.1 226.9h0M334.2 264.2h0M304.4 233.6h0M326.5 256.5h0M324.7 260.2h0M334.3 259.7h0M364.0 254.6h0M338.5 259.5h0M325.0 265.2h0M343.6 231.8h0M296.0 227.4h0M309.8 266.4h0M347.0 258.1h0M323.6 264.6h0M346.1 230.5h0M310.4 258.6h0M329.2 247.7h0M311.4 232.0h0M295.7 243.6h0M309.9 257.6h0M337.5 267.3h0M279.9 219.1h0M340.9 234.8h0M336.9 250.8h0M294.7 226.8h0M327.7 268.6h0M296.5 233.6h0M323.6 262.7h0M287.2 221.7h0M348.3 260.0h0M358.4 239.5h0M309.3 241.3h0M301.4 244.2h0M359.4 241.3h0M308.6 236.9h0M317.2 263.0h0M302.4 234.0h0M320.5 265.2h0M304.2 250.0h0M286.7 224.8h0M312.8 246.8h0M328.7 245.5h0M297.0 247.4h0M278.0 223.2h0M359.1 257.4h0M336.6 256.9h0M304.1 248.5h0M333.2 237.3h0M352.4 248.8h0M311.4 253.7h0M340.8 261.7h0M339.6 262.6h0M289.8 220.0h0M341.3 254.3h0M284.5 224.0h0M346.5 259.3h0M331.2 256.4h0M333.1 262.5h0M346.3 229.8h0M321.7 262.9h0M314.3 251.8h0M348.3 254.3h0M338.2 263.8h0M308.4 260.1h0M312.1 234.7h0M316.6 255.2h0M309.4 251.2h0M313.8 254.7h0M337.4 236.3h0M360.5 260.0h0M341.8 229.3h0M317.6 243.7h0M315.1 236.7h0M316.4 257.7h0M310.9 264.5h0M351.1 238.3h0M348.1 257.9h0M331.1 250.6h0M361.9 242.7h0M327.2 245.5h0M311.3 264.9h0M348.2 232.8h0M283.5 225.0h0M283.7 238.7h0M348.0 248.8h0M327.1 267.6h0M337.7 248.7h0M350.8 251.1h0M336.9 232.7h0M339.9 251.2h0M304.2 234.2h0" stroke="#f2f2f2" stroke-width="0.8" stroke-linecap="round" fill="none" opacity="0.5"/>
<path d="M367.6 257.3h0M317.8 268.5h0M357.1 255.5h0M337.3 265.1h0M286.9 226.5h0M367.2 249.6h0M294.4 223.0h0M362.4 242.1h0M350.4 247.3h0M275.3 219.0h0M336.5 266.6h0M346.8 240.6h0M336.2 265.3h0M302.3 232.2h0M306.4 252.7h0M330.0 268.6h0M350.0 247.4h0M300.7 238.6h0M314.3 267.3h0M313.7 236.6h0M295.4 233.7h0M297.6 224.4h0M345.4 229.7h0M337.1 238.2h0M366.3 249.2h0M329.9 267.5h0M336.2 248.3h0M354.3 254.7h0M355.6 239.6h0M310.0 230.1h0M327.7 255.8h0M366.0 258.4h0M358.7 255.4h0M343.0 264.6h0M280.9 224.4h0M309.6 260.0h0M357.4 248.5h0M321.4 263.5h0M332.2 261.9h0M286.3 219.5h0M314.6 263.4h0M356.0 247.6h0M351.4 259.1h0M368.1 244.7h0M302.0 239.9h0M348.1 234.8h0M330.9 264.2h0M336.7 243.8h0M304.8 231.7h0M349.0 249.5h0M344.8 253.0h0M306.5 257.5h0M313.4 258.2h0M325.7 250.5h0M347.0 238.6h0M314.7 256.4h0M312.9 255.9h0M363.7 248.1h0M345.2 254.3h0M340.5 236.3h0M336.4 260.7h0M320.7 268.6h0M331.0 268.2h0M279.4 214.9h0M339.0 251.6h0M303.1 231.1h0M346.1 245.8h0M335.0 264.4h0M297.2 236.2h0M344.1 234.9h0M312.2 267.7h0M350.3 248.1h0M362.9 258.5h0M364.0 250.3h0M283.0 216.2h0M297.8 223.6h0M311.2 234.5h0M276.8 220.8h0M307.5 237.1h0M310.2 248.5h0M295.1 245.0h0M280.7 238.9h0M286.7 221.5h0M317.6 255.4h0M336.4 264.7h0M337.6 259.4h0M349.4 252.7h0M328.3 260.9h0M353.1 259.3h0M293.9 234.6h0M337.9 235.6h0M350.1 258.8h0M275.6 222.4h0M361.7 244.1h0M344.7 242.9h0M337.8 254.0h0M298.3 222.2h0M307.1 248.9h0M341.1 259.8h0M334.8 244.4h0M302.1 227.2h0M331.1 258.0h0M330.5 266.7h0M336.9 243.0h0M302.5 227.1h0M309.3 229.0h0M351.5 241.6h0M346.2 247.0h0M295.3 221.1h0M327.9 264.6h0M341.4 231.2h0M333.8 252.7h0M316.3 243.0h0M290.8 227.9h0M300.9 240.3h0M324.1 266.7h0M344.1 248.8h0M294.1 224.6h0M358.2 248.7h0M314.5 245.8h0M287.0 220.5h0M295.5 224.7h0M317.7 243.9h0M354.2 245.2h0M301.2 244.2h0M328.9 247.3h0M339.1 254.9h0M313.3 246.5h0M313.1 243.0h0M361.0 240.2h0M299.5 226.6h0M336.7 257.1h0M351.4 251.4h0M345.2 235.5h0M339.1 262.2h0M305.6 247.1h0M300.0 250.1h0M315.4 268.9h0M333.1 251.0h0M346.4 264.5h0M332.6 252.4h0M332.5 265.6h0M334.7 251.9h0M302.5 231.9h0M356.8 243.6h0" stroke="#bcbcbc" stroke-width="1.6" stroke-linecap="round" fill="none" opacity="0.35"/>
<path d="M367.6 257.3h0M317.8 268.5h0M357.1 255.5h0M337.3 265.1h0M286.9 226.5h0M367.2 249.6h0M294.4 223.0h0M362.4 242.1h0M350.4 247.3h0M275.3 219.0h0M336.5 266.6h0M346.8 240.6h0M336.2 265.3h0M302.3 232.2h0M306.4 252.7h0M330.0 268.6h0M350.0 247.4h0M300.7 238.6h0M314.3 267.3h0M313.7 236.6h0M295.4 233.7h0M297.6 224.4h0M345.4 229.7h0M337.1 238.2h0M366.3 249.2h0M329.9 267.5h0M336.2 248.3h0M354.3 254.7h0M355.6 239.6h0M310.0 230.1h0M327.7 255.8h0M366.0 258.4h0M358.7 255.4h0M343.0 264.6h0M280.9 224.4h0M309.6 260.0h0M357.4 248.5h0M321.4 263.5h0M332.2 261.9h0M286.3 219.5h0M314.6 263.4h0M356.0 247.6h0M351.4 259.1h0M368.1 244.7h0M302.0 239.9h0M348.1 234.8h0M330.9 264.2h0M336.7 243.8h0M304.8 231.7h0M349.0 249.5h0M344.8 253.0h0M306.5 257.5h0M313.4 258.2h0M325.7 250.5h0M347.0 238.6h0M314.7 256.4h0M312.9 255.9h0M363.7 248.1h0M345.2 254.3h0M340.5 236.3h0M336.4 260.7h0M320.7 268.6h0M331.0 268.2h0M279.4 214.9h0M339.0 251.6h0M303.1 231.1h0M346.1 245.8h0M335.0 264.4h0M297.2 236.2h0M344.1 234.9h0M312.2 267.7h0M350.3 248.1h0M362.9 258.5h0M364.0 250.3h0M283.0 216.2h0M297.8 223.6h0M311.2 234.5h0M276.8 220.8h0M307.5 237.1h0M310.2 248.5h0M295.1 245.0h0M280.7 238.9h0M286.7 221.5h0M317.6 255.4h0M336.4 264.7h0M337.6 259.4h0M349.4 252.7h0M328.3 260.9h0M353.1 259.3h0M293.9 234.6h0M337.9 235.6h0M350.1 258.8h0M275.6 222.4h0M361.7 244.1h0M344.7 242.9h0M337.8 254.0h0M298.3 222.2h0M307.1 248.9h0M341.1 259.8h0M334.8 244.4h0M302.1 227.2h0M331.1 258.0h0M330.5 266.7h0M336.9 243.0h0M302.5 227.1h0M309.3 229.0h0M351.5 241.6h0M346.2 247.0h0M295.3 221.1h0M327.9 264.6h0M341.4 231.2h0M333.8 252.7h0M316.3 243.0h0M290.8 227.9h0M300.9 240.3h0M324.1 266.7h0M344.1 248.8h0M294.1 224.6h0M358.2 248.7h0M314.5 245.8h0M287.0 220.5h0M295.5 224.7h0M317.7 243.9h0M354.2 245.2h0M301.2 244.2h0M328.9 247.3h0M339.1 254.9h0M313.3 246.5h0M313.1 243.0h0M361.0 240.2h0M299.5 226.6h0M336.7 257.1h0M351.4 251.4h0M345.2 235.5h0M339.1 262.2h0M305.6 247.1h0M300.0 250.1h0M315.4 268.9h0M333.1 251.0h0M346.4 264.5h0M332.6 252.4h0M332.5 265.6h0M334.7 251.9h0M302.5 231.9h0M356.8 243.6h0" stroke="#f2f2f2" stroke-width="0.8" stroke-linecap="round" fill="none" opacity="0.5"/>
<path d="M313.3 269.0h0M319.1 269.1h0M301.1 227.8h0M303.3 244.0h0M308.8 238.5h0M296.8 229.4h0M295.4 231.9h0M363.9 258.4h0M340.1 230.6h0M352.9 258.9h0M282.2 217.7h0M303.6 235.3h0M343.9 259.6h0M342.6 233.9h0M337.9 240.0h0M312.6 259.6h0M321.0 271.2h0M316.3 269.6h0M298.8 230.7h0M295.4 219.3h0M326.2 254.5h0M292.7 225.2h0M305.7 243.6h0M304.8 236.0h0M305.5 239.9h0M335.6 239.3h0M304.0 250.7h0M311.3 255.1h0M343.8 243.5h0M346.5 246.2h0M309.3 238.8h0M315.0 233.8h0M307.0 257.6h0M307.7 240.0h0M312.2 236.6h0M318.3 261.3h0M329.6 261.1h0M359.9 248.3h0M308.0 250.1h0M355.7 256.0h0M317.6 255.8h0M336.3 233.0h0M315.5 255.8h0M294.8 226.3h0M342.3 240.1h0M338.2 262.1h0M351.7 241.8h0M332.9 251.1h0M315.7 238.4h0M336.6 259.0h0M302.3 233.3h0M313.5 265.3h0M367.6 243.8h0M325.8 255.3h0M342.4 230.0h0M349.3 253.5h0M311.4 243.5h0M359.3 259.5h0M306.4 251.6h0M315.0 256.5h0M314.8 269.5h0M335.6 262.7h0M313.1 260.5h0M300.3 223.8h0M343.2 262.1h0M333.6 237.2h0M328.0 264.2h0M312.4 232.4h0M323.3 270.1h0M328.9 264.7h0M305.2 237.0h0M305.0 250.8h0M283.9 241.6h0M352.8 247.7h0M326.3 268.1h0M344.9 257.2h0M314.7 266.9h0M337.7 261.6h0M317.6 261.4h0M364.0 253.8h0M368.6 247.3h0M314.1 257.3h0M316.0 268.7h0M333.3 243.7h0M301.3 239.3h0M340.6 245.3h0M333.0 247.1h0M287.3 227.7h0M309.2 254.7h0M307.5 254.4h0M346.8 230.7h0M292.6 234.0h0M348.8 244.7h0M310.5 257.8h0M317.8 257.0h0M297.9 238.3h0M306.1 244.2h0M363.8 245.4h0M307.8 253.9h0M290.6 220.3h0M303.3 230.5h0M314.4 266.3h0M332.7 242.9h0M285.4 220.9h0M338.8 247.3h0M327.6 260.2h0M345.8 243.7h0M285.2 231.5h0M338.4 242.9h0M364.6 240.7h0M333.7 264.9h0M288.7 225.3h0M336.0 259.6h0M333.1 264.1h0M300.4 223.9h0M307.8 242.8h0M344.2 251.8h0M327.6 260.8h0M325.6 258.3h0M301.6 241.0h0M335.2 241.8h0M296.8 231.1h0M324.9 259.9h0M348.7 253.0h0M332.3 247.9h0M350.4 243.9h0M311.8 265.4h0M300.4 235.0h0M343.2 265.2h0M325.1 267.4h0M296.7 243.7h0M317.4 269.5h0M306.2 233.1h0M365.1 250.8h0M308.0 229.7h0M300.3 244.9h0M347.3 243.5h0M329.5 249.6h0M306.1 250.1h0M286.4 225.6h0M339.7 233.2h0M337.5 261.0h0M304.4 242.9h0M346.7 236.1h0M315.0 253.4h0" stroke="#bcbcbc" stroke-width="1.6" stroke-linecap="round" fill="none" opacity="0.35"/>
<path d="M313.3 269.0h0M319.1 269.1h0M301.1 227.8h0M303.3 244.0h0M308.8 238.5h0M296.8 229.4h0M295.4 231.9h0M363.9 258.4h0M340.1 230.6h0M352.9 258.9h0M282.2 217.7h0M303.6 235.3h0M343.9 259.6h0M342.6 233.9h0M337.9 240.0h0M312.6 259.6h0M321.0 271.2h0M316.3 269.6h0M298.8 230.7h0M295.4 219.3h0M326.2 254.5h0M292.7 225.2h0M305.7 243.6h0M304.8 236.0h0M305.5 239.9h0M335.6 239.3h0M304.0 250.7h0M311.3 255.1h0M343.8 243.5h0M346.5 246.2h0M309.3 238.8h0M315.0 233.8h0M307.0 257.6h0M307.7 240.0h0M312.2 236.6h0M318.3 261.3h0M329.6 261.1h0M359.9 248.3h0M308.0 250.1h0M355.7 256.0h0M317.6 255.8h0M336.3 233.0h0M315.5 255.8h0M294.8 226.3h0M342.3 240.1h0M338.2 262.1h0M351.7 241.8h0M332.9 251.1h0M315.7 238.4h0M336.6 259.0h0M302.3 233.3h0M313.5 265.3h0M367.6 243.8h0M325.8 255.3h0M342.4 230.0h0M349.3 253.5h0M311.4 243.5h0M359.3 259.5h0M306.4 251.6h0M315.0 256.5h0M314.8 269.5h0M335.6 262.7h0M313.1 260.5h0M300.3 223.8h0M343.2 262.1h0M333.6 237.2h0M328.0 264.2h0M312.4 232.4h0M323.3 270.1h0M328.9 264.7h0M305.2 237.0h0M305.0 250.8h0M283.9 241.6h0M352.8 247.7h0M326.3 268.1h0M344.9 257.2h0M314.7 266.9h0M337.7 261.6h0M317.6 261.4h0M364.0 253.8h0M368.6 247.3h0M314.1 257.3h0M316.0 268.7h0M333.3 243.7h0M301.3 239.3h0M340.6 245.3h0M333.0 247.1h0M287.3 227.7h0M309.2 254.7h0M307.5 254.4h0M346.8 230.7h0M292.6 234.0h0M348.8 244.7h0M310.5 257.8h0M317.8 257.0h0M297.9 238.3h0M306.1 244.2h0M363.8 245.4h0M307.8 253.9h0M290.6 220.3h0M303.3 230.5h0M314.4 266.3h0M332.7 242.9h0M285.4 220.9h0M338.8 247.3h0M327.6 260.2h0M345.8 243.7h0M285.2 231.5h0M338.4 242.9h0M364.6 240.7h0M333.7 264.9h0M288.7 225.3h0M336.0 259.6h0M333.1 264.1h0M300.4 223.9h0M307.8 242.8h0M344.2 251.8h0M327.6 260.8h0M325.6 258.3h0M301.6 241.0h0M335.2 241.8h0M296.8 231.1h0M324.9 259.9h0M348.7 253.0h0M332.3 247.9h0M350.4 243.9h0M311.8 265.4h0M300.4 235.0h0M343.2 265.2h0M325.1 267.4h0M296.7 243.7h0M317.4 269.5h0M306.2 233.1h0M365.1 250.8h0M308.0 229.7h0M300.3 244.9h0M347.3 243.5h0M329.5 249.6h0M306.1 250.1h0M286.4 225.6h0M339.7 233.2h0M337.5 261.0h0M304.4 242.9h0M346.7 236.1h0M315.0 253.4h0" stroke="#f2f2f2" stroke-width="0.8" stroke-linecap="round" fill="none" opacity="0.5"/>
<path d="M336.1 260.0h0M306.8 248.0h0M308.2 244.5h0M302.6 245.3h0M349.6 238.5h0M349.4 245.3h0M351.6 241.7h0M315.4 240.7h0M339.2 249.3h0M303.9 241.1h0M315.0 268.7h0M306.8 246.9h0M342.9 239.9h0M341.4 248.8h0M301.9 245.5h0M365.5 242.7h0M286.1 227.1h0M367.3 244.6h0M358.9 245.7h0M297.6 220.8h0M289.0 226.6h0M300.6 235.5h0M363.8 250.8h0M329.4 252.4h0M313.2 245.7h0M338.0 264.1h0M348.0 238.7h0M344.2 235.2h0M292.1 231.4h0M285.3 216.9h0M315.7 264.4h0M358.0 252.7h0M304.0 235.2h0M293.3 228.6h0M332.5 244.4h0M348.2 250.1h0M366.7 252.5h0M296.2 229.2h0M337.6 235.8h0M313.0 231.8h0M289.1 234.7h0M369.7 259.7h0M342.1 244.2h0M358.5 246.1h0M351.3 245.2h0M292.1 222.2h0M334.8 251.6h0M337.5 262.9h0M304.8 233.5h0M330.6 264.9h0M283.1 213.3h0M344.9 238.4h0M357.5 250.6h0M339.8 235.6h0M333.7 261.3h0M311.5 232.0h0M338.3 234.4h0M318.4 261.1h0M295.7 235.2h0M359.9 256.5h0M301.8 245.5h0M308.5 264.1h0M305.8 238.8h0M339.1 247.2h0M316.6 253.7h0M315.5 251.2h0M332.0 259.6h0M330.8 258.9h0M346.7 242.8h0M341.0 236.7h0M297.5 238.1h0M331.6 265.7h0M287.6 223.2h0M322.9 269.6h0M298.0 243.7h0M357.1 241.0h0M292.7 219.6h0M282.6 220.5h0M295.5 220.2h0M297.2 230.0h0M336.4 242.9h0M357.1 252.1h0M311.1 252.1h0M353.5 248.0h0M295.6 242.8h0M360.2 257.0h0M302.9 240.1h0M313.6 266.3h0M338.9 234.6h0M332.0 239.1h0M342.7 228.0h0M331.5 238.2h0M358.4 251.5h0M352.0 256.9h0M342.4 260.1h0M331.1 269.6h0M315.5 240.6h0M354.1 239.1h0M342.5 262.8h0M356.8 246.0h0M292.7 231.2h0M338.9 255.2h0M294.5 231.2h0M316.2 242.3h0M313.1 252.0h0M335.7 267.6h0M295.3 234.1h0M337.2 235.8h0M285.4 227.1h0M362.1 241.9h0M353.1 243.2h0M349.3 249.7h0M343.8 241.3h0M321.2 270.2h0M365.0 250.6h0M329.8 264.5h0M338.7 253.0h0M280.7 229.6h0M312.3 270.9h0M339.0 257.7h0M313.5 254.5h0M333.3 241.3h0M322.5 264.2h0M340.2 243.8h0M284.2 214.8h0M309.9 230.5h0M351.2 245.9h0M337.9 260.2h0M340.2 239.7h0M317.2 267.2h0M301.3 248.2h0M300.9 243.4h0M297.3 226.1h0M311.4 265.0h0M336.2 268.2h0M310.4 243.9h0M282.0 217.1h0M333.5 252.0h0M314.3 252.2h0M359.4 240.6h0M313.8 245.9h0M361.2 249.9h0M345.2 248.4h0M309.5 263.6h0M310.5 241.3h0" stroke="#bcbcbc" stroke-width="1.6" stroke-linecap="round" fill="none" opacity="0.35"/>
<path d="M336.1 260.0h0M306.8 248.0h0M308.2 244.5h0M302.6 245.3h0M349.6 238.5h0M349.4 245.3h0M351.6 241.7h0M315.4 240.7h0M339.2 249.3h0M303.9 241.1h0M315.0 268.7h0M306.8 246.9h0M342.9 239.9h0M341.4 248.8h0M301.9 245.5h0M365.5 242.7h0M286.1 227.1h0M367.3 244.6h0M358.9 245.7h0M297.6 220.8h0M289.0 226.6h0M300.6 235.5h0M363.8 250.8h0M329.4 252.4h0M313.2 245.7h0M338.0 264.1h0M348.0 238.7h0M344.2 235.2h0M292.1 231.4h0M285.3 216.9h0M315.7 264.4h0M358.0 252.7h0M304.0 235.2h0M293.3 228.6h0M332.5 244.4h0M348.2 250.1h0M366.7 252.5h0M296.2 229.2h0M337.6 235.8h0M313.0 231.8h0M289.1 234.7h0M369.7 259.7h0M342.1 244.2h0M358.5 246.1h0M351.3 245.2h0M292.1 222.2h0M334.8 251.6h0M337.5 262.9h0M304.8 233.5h0M330.6 264.9h0M283.1 213.3h0M344.9 238.4h0M357.5 250.6h0M339.8 235.6h0M333.7 261.3h0M311.5 232.0h0M338.3 234.4h0M318.4 261.1h0M295.7 235.2h0M359.9 256.5h0M301.8 245.5h0M308.5 264.1h0M305.8 238.8h0M339.1 247.2h0M316.6 253.7h0M315.5 251.2h0M332.0 259.6h0M330.8 258.9h0M346.7 242.8h0M341.0 236.7h0M297.5 238.1h0M331.6 265.7h0M287.6 223.2h0M322.9 269.6h0M298.0 243.7h0M357.1 241.0h0M292.7 219.6h0M282.6 220.5h0M295.5 220.2h0M297.2 230.0h0M336.4 242.9h0M357.1 252.1h0M311.1 252.1h0M353.5 248.0h0M295.6 242.8h0M360.2 257.0h0M302.9 240.1h0M313.6 266.3h0M338.9 234.6h0M332.0 239.1h0M342.7 228.0h0M331.5 238.2h0M358.4 251.5h0M352.0 256.9h0M342.4 260.1h0M331.1 269.6h0M315.5 240.6h0M354.1 239.1h0M342.5 262.8h0M356.8 246.0h0M292.7 231.2h0M338.9 255.2h0M294.5 231.2h0M316.2 242.3h0M313.1 252.0h0M335.7 267.6h0M295.3 234.1h0M337.2 235.8h0M285.4 227.1h0M362.1 241.9h0M353.1 243.2h0M349.3 249.7h0M343.8 241.3h0M321.2 270.2h0M365.0 250.6h0M329.8 264.5h0M338.7 253.0h0M280.7 229.6h0M312.3 270.9h0M339.0 257.7h0M313.5 254.5h0M333.3 241.3h0M322.5 264.2h0M340.2 243.8h0M284.2 214.8h0M309.9 230.5h0M351.2 245.9h0M337.9 260.2h0M340.2 239.7h0M317.2 267.2h0M301.3 248.2h0M300.9 243.4h0M297.3 226.1h0M311.4 265.0h0M336.2 268.2h0M310.4 243.9h0M282.0 217.1h0M333.5 252.0h0M314.3 252.2h0M359.4 240.6h0M313.8 245.9h0M361.2 249.9h0M345.2 248.4h0M309.5 263.6h0M310.5 241.3h0" stroke="#f2f2f2" stroke-width="0.8" stroke-linecap="round" fill="none" opacity="0.5"/>
<line x1="352.7" y1="213.4" x2="350.3" y2="217.7" stroke="#444" stroke-width="0.4"/>
<line x1="359.7" y1="221.0" x2="356.2" y2="227.0" stroke="#444" stroke-width="0.4"/>
<line x1="345.3" y1="230.1" x2="347.4" y2="233.3" stroke="#444" stroke-width="0.4"/>
<line x1="353.5" y1="234.3" x2="352.5" y2="234.5" stroke="#444" stroke-width="0.4"/>
<line x1="336.3" y1="235.1" x2="338.6" y2="239.1" stroke="#444" stroke-width="0.4"/>
<line x1="353.5" y1="235.6" x2="351.5" y2="235.5" stroke="#444" stroke-width="0.4"/>
<line x1="355.3" y1="243.1" x2="348.4" y2="236.2" stroke="#444" stroke-width="0.4"/>
<line x1="330.3" y1="250.7" x2="327.2" y2="253.3" stroke="#444" stroke-width="0.4"/>
<line x1="341.4" y1="258.5" x2="337.8" y2="259.0" stroke="#444" stroke-width="0.4"/>
<line x1="287.9" y1="217.0" x2="283.6" y2="220.2" stroke="#444" stroke-width="0.4"/>
<line x1="284.5" y1="230.3" x2="286.5" y2="226.0" stroke="#444" stroke-width="0.4"/>
<line x1="300.2" y1="252.3" x2="303.4" y2="252.6" stroke="#444" stroke-width="0.4"/>
<line x1="312.8" y1="256.2" x2="314.7" y2="259.6" stroke="#444" stroke-width="0.4"/>
<circle cx="350.3" cy="217.7" r="1.25" fill="#e8731f"/>
<circle cx="356.2" cy="227.0" r="1.25" fill="#2e6fc6"/>
<circle cx="347.4" cy="233.3" r="1.25" fill="#2e6fc6"/>
<circle cx="352.5" cy="234.5" r="1.25" fill="#e8731f"/>
<circle cx="338.6" cy="239.1" r="1.25" fill="#2e6fc6"/>
<circle cx="351.5" cy="235.5" r="1.25" fill="#e8731f"/>
<circle cx="348.4" cy="236.2" r="1.25" fill="#2e6fc6"/>
<circle cx="327.2" cy="253.3" r="1.25" fill="#2e6fc6"/>
<circle cx="337.8" cy="259.0" r="1.25" fill="#2e6fc6"/>
<circle cx="283.6" cy="220.2" r="1.25" fill="#e8731f"/>
<circle cx="286.5" cy="226.0" r="1.25" fill="#e8731f"/>
<circle cx="303.4" cy="252.6" r="1.25" fill="#e8731f"/>
<circle cx="314.7" cy="259.6" r="1.25" fill="#e8731f"/>
<text x="353.7" y="213.1" font-size="4.35" text-anchor="middle" fill="#2a2a2a" stroke="#2a2a2a" stroke-width="0.14">TFRC</text>
<text x="360.8" y="220.7" font-size="4.35" text-anchor="middle" fill="#2a2a2a" stroke="#2a2a2a" stroke-width="0.14">PHB2</text>
<text x="344.0" y="229.8" font-size="4.35" text-anchor="middle" fill="#2a2a2a" stroke="#2a2a2a" stroke-width="0.14">SLC1A5</text>
<text x="362.0" y="234.4" font-size="4.35" text-anchor="middle" fill="#2a2a2a" stroke="#2a2a2a" stroke-width="0.14">SLC7A5</text>
<text x="335.2" y="234.8" font-size="4.35" text-anchor="middle" fill="#2a2a2a" stroke="#2a2a2a" stroke-width="0.14">ITGB1</text>
<text x="362.0" y="237.8" font-size="4.35" text-anchor="middle" fill="#2a2a2a" stroke="#2a2a2a" stroke-width="0.14">SLC3A2</text>
<text x="357.2" y="246.6" font-size="4.35" text-anchor="middle" fill="#2a2a2a" stroke="#2a2a2a" stroke-width="0.14">CNNM3</text>
<text x="332.6" y="250.4" font-size="4.35" text-anchor="middle" fill="#2a2a2a" stroke="#2a2a2a" stroke-width="0.14">SLC7A1</text>
<text x="347.4" y="259.2" font-size="4.35" text-anchor="middle" fill="#2a2a2a" stroke="#2a2a2a" stroke-width="0.14">CD36</text>
<text x="290.5" y="216.7" font-size="4.35" text-anchor="middle" fill="#2a2a2a" stroke="#2a2a2a" stroke-width="0.14">SLC4A1</text>
<text x="283.6" y="233.8" font-size="4.35" text-anchor="middle" fill="#2a2a2a" stroke="#2a2a2a" stroke-width="0.14">ACKR1</text>
<text x="295.4" y="253.5" font-size="4.35" text-anchor="middle" fill="#2a2a2a" stroke="#2a2a2a" stroke-width="0.14">CR1</text>
<text x="311.7" y="255.9" font-size="4.35" text-anchor="middle" fill="#2a2a2a" stroke="#2a2a2a" stroke-width="0.14">BSG</text>
<text x="320.0" y="198.0" font-size="6.0" text-anchor="middle" fill="#111" stroke="#111" stroke-width="0.15">JK-1/Erythrocytes</text>
<text x="259.7" y="192.4" font-size="5.6" text-anchor="start" font-weight="bold" fill="#111" stroke="#111" stroke-width="0.24">E</text>
<path d="M6.2 285.3V242.0M6.2 285.3H49.0" stroke="#222" stroke-width="0.8" fill="none"/>
<path d="M6.2 239.6L4.4 243.2H8.0Z M51.6 285.3L48.0 283.5V287.1Z" fill="#222"/>
<text x="3.5" y="264.0" font-size="4.4" text-anchor="middle" font-weight="bold" transform="rotate(-90 3.5 264.0)" stroke="#222" stroke-width="0.24">p value</text>
<text x="29.4" y="292.6" font-size="4.6" text-anchor="middle" font-weight="bold" stroke="#222" stroke-width="0.24">log2 fold-change</text>
</svg></body></html>
